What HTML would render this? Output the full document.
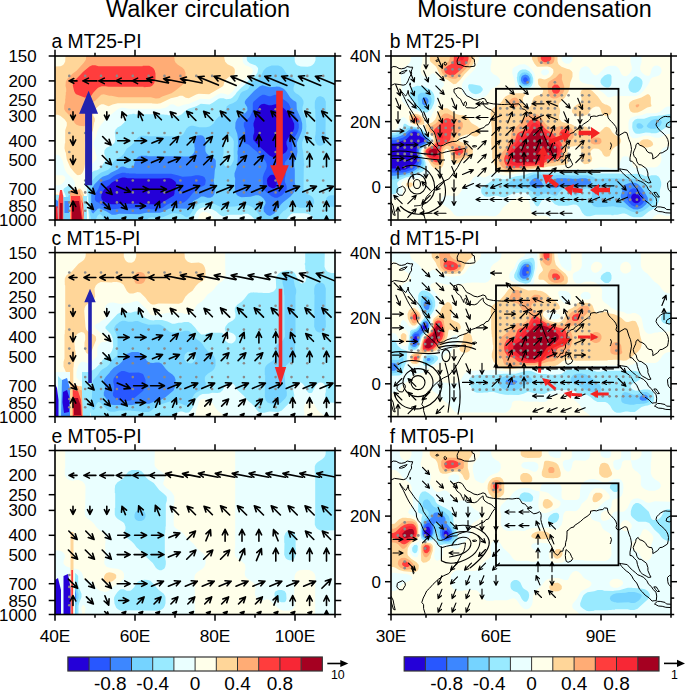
<!DOCTYPE html><html><head><meta charset="utf-8"><style>html,body{margin:0;padding:0;background:#fff;}svg{display:block;}</style></head><body><svg width="685" height="690" viewBox="0 0 685 690" font-family="&quot;Liberation Sans&quot;, sans-serif">
<rect width="685" height="690" fill="#fff"/>
<text x="106.0" y="16.8" font-size="23.45" text-anchor="start" >Walker circulation</text>
<text x="417.3" y="16.8" font-size="23.3" text-anchor="start" >Moisture condensation</text>
<g>
<rect x="55.0" y="56.0" width="280.0" height="164.0" fill="#ffffea"/>
<path fill-rule="evenodd" fill="#eaffff" d="M55.0 154.8L55.0 175.2L62.2 175.2L63.8 175.8L65.2 177.2L65.2 179.5L64.2 181.5L61.5 184.2L59.2 185.2L55.0 185.2L55.0 191.8L59.2 192.2L60.8 192.8L63.2 195.2L64.2 197.2L65.5 203.2L65.8 220.0L72.5 220.0L72.2 212.8L72.5 212.5L72.5 209.8L74.5 200.2L74.2 188.5L74.8 185.5L74.8 182.5L72.8 178.8L67.2 173.5L65.5 170.8L64.5 168.5L62.5 160.5L60.8 157.2L59.2 155.5L57.8 154.8ZM335.0 56.0L242.5 56.0L242.8 61.5L243.8 63.8L245.8 65.5L248.2 66.2L251.2 67.8L252.8 69.8L252.8 71.8L252.2 73.2L250.2 75.2L246.8 77.2L239.2 84.8L236.2 86.8L232.5 91.8L229.2 94.5L227.5 94.8L223.5 93.5L220.8 93.2L216.8 94.8L212.5 97.8L209.5 99.2L200.2 98.8L189.2 103.8L183.5 104.8L179.2 106.5L177.2 106.5L173.8 104.5L171.8 104.2L169.8 104.8L167.8 106.5L165.2 107.8L160.8 108.8L128.8 108.8L123.8 107.8L121.5 107.8L119.8 108.2L117.2 109.5L111.2 114.5L107.5 116.8L99.5 126.8L97.2 131.5L96.2 136.2L93.8 141.8L93.5 144.5L95.2 150.2L95.2 151.8L96.5 155.5L96.5 157.2L96.8 157.5L96.5 159.2L92.8 163.2L90.2 166.8L87.8 171.2L83.8 181.2L83.8 185.8L85.5 192.2L86.5 200.2L86.8 200.5L87.8 220.0L197.8 220.0L197.8 218.5L199.5 214.5L201.5 212.5L203.5 211.8L206.5 212.2L209.5 213.5L212.5 216.5L214.2 220.0L295.5 220.0L296.5 218.5L299.2 217.8L302.5 218.2L303.8 218.8L304.5 220.0L335.0 220.0Z"/>
<path fill-rule="evenodd" fill="#99eaff" d="M68.2 185.8L64.2 188.2L63.5 189.2L63.5 190.8L65.5 195.2L66.5 200.2L66.8 206.2L67.2 206.5L67.5 212.5L67.8 212.8L67.5 220.0L70.8 220.0L70.8 211.2L72.8 203.5L73.2 197.2L72.2 192.2L70.5 187.2L69.8 186.2ZM335.0 56.0L315.5 56.0L315.5 60.2L314.2 63.2L312.2 65.2L310.2 66.2L307.5 66.8L300.8 66.5L297.2 65.2L295.8 63.8L294.8 61.5L294.5 56.0L246.8 56.0L246.8 59.5L247.5 61.2L249.8 63.2L255.8 65.5L257.5 67.2L258.2 68.8L257.5 72.5L256.5 74.2L254.2 76.5L249.8 79.2L246.5 82.5L245.2 84.5L241.5 87.5L236.8 92.2L235.2 94.8L232.2 97.8L230.5 98.8L226.2 99.2L223.5 98.2L220.2 98.2L218.5 98.8L212.8 102.8L209.5 104.5L200.8 103.8L196.5 106.2L188.5 108.8L184.5 111.5L181.8 114.2L178.5 115.8L173.5 115.8L170.8 115.2L167.8 115.2L167.5 114.8L164.5 114.8L164.2 114.5L161.2 114.5L160.8 114.2L134.8 114.2L134.5 113.8L132.5 113.8L132.2 114.2L129.8 114.2L126.8 115.2L126.2 116.2L125.8 119.5L124.5 122.2L121.2 125.5L117.5 127.5L115.5 129.8L114.8 132.2L115.5 139.8L114.5 142.8L111.5 145.5L106.5 147.8L104.5 150.2L104.2 153.5L105.8 157.8L105.5 160.5L101.2 166.8L98.8 169.2L96.8 170.2L94.2 170.8L91.5 172.8L88.2 181.2L87.2 184.8L87.2 193.5L87.5 193.8L87.5 196.8L87.8 197.2L87.8 200.2L88.2 200.5L88.2 211.2L88.5 211.5L89.2 220.0L193.2 220.0L193.2 218.8L194.5 215.2L196.8 211.2L199.8 208.5L203.5 207.2L207.2 207.5L212.2 209.2L216.2 211.5L219.8 214.8L222.5 216.2L224.5 216.2L229.2 214.8L241.5 214.8L244.8 213.8L247.8 213.8L250.8 215.5L254.5 219.2L254.5 220.0L286.2 220.0L287.8 217.2L290.8 214.2L292.8 213.2L304.5 213.2L307.8 213.8L310.5 215.2L312.2 216.8L313.5 219.2L313.5 220.0L335.0 220.0Z"/>
<path fill-rule="evenodd" fill="#75d3ff" d="M328.8 195.8L326.8 197.5L326.2 198.8L325.8 201.8L326.5 203.8L328.8 206.2L330.8 206.8L335.0 206.8L335.0 195.2L330.8 195.2ZM68.8 194.8L68.2 196.5L68.2 201.5L68.8 204.8L69.8 205.8L71.2 203.5L71.5 198.8L70.2 195.2ZM319.2 96.2L316.8 97.5L315.2 100.5L314.8 102.2L314.8 108.5L315.2 108.8L315.5 119.5L315.8 119.8L315.8 131.5L315.5 131.8L315.5 134.2L314.8 137.2L314.8 139.8L316.2 143.5L317.8 145.2L319.5 145.8L320.8 145.8L323.2 144.8L324.5 143.5L325.8 140.2L325.8 133.8L325.5 133.5L325.8 101.8L324.5 98.5L323.2 97.2L320.8 96.2ZM293.8 78.8L292.8 77.8L287.8 74.8L286.2 73.2L283.8 69.2L281.5 66.8L278.2 65.5L271.8 65.5L268.8 66.5L266.2 67.8L263.5 70.5L260.8 76.2L258.8 78.5L256.5 79.8L253.5 80.8L250.8 83.2L248.8 88.2L247.2 89.8L242.2 91.8L240.5 93.5L237.8 99.2L236.2 101.2L232.8 103.2L229.2 104.5L226.8 106.2L225.8 109.8L223.5 113.5L221.2 115.5L218.8 116.8L215.8 119.8L213.5 123.5L210.8 125.8L209.5 126.5L206.2 127.2L199.2 127.2L193.2 125.8L191.2 125.8L188.8 126.5L186.5 128.5L183.2 134.2L181.5 135.5L179.2 136.5L176.8 136.5L176.5 136.8L176.2 136.5L172.5 136.5L172.2 136.2L147.8 136.2L147.5 135.8L143.8 135.8L143.5 135.5L143.2 135.8L140.8 135.8L138.2 137.2L135.8 139.8L134.5 142.2L131.2 145.5L126.8 148.5L123.5 154.2L121.5 156.2L115.8 159.5L113.2 162.2L110.8 167.2L108.2 169.8L100.8 172.8L95.5 176.8L91.8 181.2L89.8 185.8L89.5 189.2L89.2 189.5L89.5 212.2L91.2 220.0L96.2 220.0L96.2 218.8L97.5 215.8L99.2 214.2L100.5 214.2L102.8 216.5L104.2 220.0L146.8 220.0L147.8 218.5L150.2 217.5L153.5 217.2L153.8 217.5L159.2 217.8L159.5 217.5L162.8 217.2L172.2 213.2L175.5 213.2L175.8 213.5L180.2 213.8L183.2 215.2L184.8 216.5L186.8 217.2L188.5 216.5L189.5 215.5L194.8 207.5L197.2 204.8L199.8 203.2L202.2 202.5L205.5 202.5L205.8 202.8L208.2 202.8L208.5 203.2L213.8 203.8L221.8 207.5L225.8 207.5L228.2 206.8L235.2 206.5L235.5 206.2L241.2 205.8L243.8 205.2L248.2 205.2L252.5 207.2L256.2 210.8L262.5 219.2L262.5 220.0L277.5 220.0L277.5 218.8L280.2 214.5L283.8 210.8L285.2 210.2L289.5 206.2L291.2 205.2L293.8 205.2L299.5 207.8L308.2 207.8L311.8 206.5L313.8 203.8L314.2 202.5L313.8 199.2L312.8 197.5L310.8 195.8L306.2 193.5L304.2 191.5L303.5 189.8L303.8 165.8L304.2 165.5L304.2 163.5L303.8 163.2L303.8 158.5L303.5 158.2L303.2 152.2L302.2 147.2L302.2 142.2L305.5 133.8L306.2 130.8L306.2 127.5L306.5 127.2L305.8 119.5L304.8 116.2L302.5 111.2L302.5 107.2L303.5 103.8L303.5 101.5L303.2 100.2L301.5 97.5L298.5 94.8L295.8 93.2L294.2 91.5L293.5 90.2L293.5 87.5L294.8 83.8L294.8 80.8ZM227.2 135.5L229.2 135.5L230.5 136.2L232.8 138.8L233.8 141.5L233.8 147.5L233.5 147.8L233.8 159.2L233.5 160.8L231.5 164.8L230.5 165.8L228.5 166.8L225.5 166.5L224.2 165.2L222.8 161.2L222.8 156.8L223.5 153.8L223.5 141.2L224.8 137.5Z"/>
<path fill-rule="evenodd" fill="#3d87ff" d="M204.5 137.5L202.8 135.8L200.8 135.2L197.2 135.5L195.5 136.8L194.8 138.5L194.5 142.2L194.2 142.5L194.5 147.5L194.8 147.8L194.5 151.2L193.5 153.5L191.5 155.5L189.2 156.5L182.8 156.5L182.5 156.2L147.5 156.2L147.2 155.8L140.8 155.8L138.2 156.8L136.5 158.5L134.8 161.5L133.8 165.8L132.2 167.5L130.2 168.2L127.8 168.2L123.2 166.5L120.8 166.8L117.5 169.5L110.8 172.8L108.2 174.8L102.5 176.8L100.2 178.5L94.5 184.2L92.5 187.8L91.2 192.2L91.2 210.5L91.8 212.5L93.2 213.5L97.8 208.8L99.8 208.5L106.5 211.5L111.8 214.8L115.5 214.8L119.2 213.8L139.2 214.2L146.2 212.8L159.8 212.8L163.8 211.5L168.8 208.8L172.2 207.8L176.2 208.2L176.5 208.5L187.2 208.8L189.2 207.2L190.8 203.8L193.8 200.8L197.8 198.8L201.2 196.5L203.8 196.5L207.5 197.8L210.2 197.8L212.5 196.8L214.2 194.5L215.2 189.8L215.2 187.8L213.8 181.8L213.8 178.8L214.2 178.5L214.8 170.2L215.8 166.2L215.8 160.8L215.2 159.5L213.5 157.8L208.8 155.5L206.5 153.2L205.5 151.2L205.2 147.5L205.5 147.2L205.8 142.2ZM262.5 85.2L259.8 86.2L253.8 91.2L245.8 99.8L244.8 101.8L244.8 103.2L247.2 107.2L247.5 110.2L245.5 112.8L241.2 115.2L237.2 118.8L235.5 122.5L235.2 128.2L237.2 133.8L237.8 137.2L238.2 144.8L237.8 145.2L237.8 150.5L237.5 150.8L237.5 154.5L237.8 154.8L237.5 163.5L236.5 167.8L234.5 173.2L234.5 176.2L235.2 178.8L234.8 190.2L236.5 194.5L237.8 195.8L239.8 196.8L241.5 197.2L250.5 196.8L255.8 195.2L258.5 195.2L261.2 196.5L263.5 198.5L265.5 201.8L265.5 203.5L263.5 207.8L263.8 211.5L266.8 214.8L269.2 215.8L270.5 215.8L274.2 213.5L277.2 210.2L280.8 204.5L283.2 202.2L290.5 196.5L293.8 192.8L295.5 189.5L295.5 185.2L294.8 182.5L294.8 169.2L294.2 166.8L294.2 162.5L296.5 157.2L297.5 151.8L296.8 142.8L301.5 131.8L302.2 128.5L302.2 123.5L300.8 118.2L296.8 109.5L296.5 102.8L295.5 101.5L293.2 100.2L290.2 97.5L286.8 92.2L284.8 89.8L283.2 88.5L279.5 86.8L276.2 86.5L275.8 86.8L269.5 87.2Z"/>
<path fill-rule="evenodd" fill="#2857ff" d="M94.8 199.2L95.5 200.8L96.5 201.8L98.8 202.8L101.2 204.8L108.5 208.2L112.2 209.2L118.5 208.8L118.8 208.5L141.8 208.5L142.2 208.8L150.2 208.8L150.5 209.2L158.2 209.5L162.8 207.8L166.8 204.8L171.2 202.8L174.8 203.2L176.5 203.8L180.2 203.8L184.2 202.2L186.5 200.5L189.2 197.8L192.5 193.5L196.5 189.5L199.5 187.5L204.2 185.5L205.2 184.5L205.8 180.2L204.5 177.2L202.8 176.2L198.8 175.2L195.8 175.2L191.2 176.2L182.5 176.8L177.5 175.2L171.2 173.8L135.8 173.8L135.5 173.5L129.2 173.5L128.8 173.2L125.8 173.2L125.5 172.8L122.2 172.8L116.8 174.5L113.5 176.2L109.5 179.2L102.2 181.8L100.2 183.8L98.2 189.2L95.2 193.8ZM262.5 94.8L259.5 96.5L253.5 101.8L252.8 103.5L252.8 109.8L251.8 112.8L249.5 117.2L243.8 122.8L243.8 126.2L245.2 129.8L245.2 131.8L243.8 136.5L243.8 141.2L244.2 142.2L245.2 143.2L248.8 144.8L253.2 148.8L256.5 151.2L265.2 160.8L266.5 163.5L266.8 166.2L266.2 168.8L263.8 173.8L262.8 177.5L262.8 187.2L263.8 189.5L266.8 192.5L271.5 196.2L274.8 197.8L277.5 197.8L281.8 195.5L285.5 191.5L286.5 189.8L286.8 188.5L286.5 185.8L284.8 181.8L284.8 178.5L285.5 175.5L285.8 169.8L284.5 163.8L285.2 161.8L289.2 157.2L291.8 152.5L292.5 150.2L291.8 142.2L292.5 140.2L296.8 133.8L298.2 130.8L298.8 127.5L298.8 124.5L297.5 119.5L294.5 114.2L291.8 110.5L288.8 103.8L286.2 101.2L282.2 98.5L278.8 95.2L278.2 94.8L274.8 94.8L270.8 96.2L268.8 96.2L264.5 94.8Z"/>
<path fill-rule="evenodd" fill="#2400d8" d="M101.2 197.5L101.8 199.5L103.5 201.2L106.2 202.5L111.2 204.2L116.8 204.2L117.2 203.8L148.5 203.8L148.8 204.2L152.5 204.2L154.8 204.8L157.8 204.8L160.5 203.8L164.2 201.2L173.8 195.5L174.5 193.5L174.5 191.8L176.2 186.8L176.2 183.2L175.5 181.8L173.8 180.2L171.5 178.8L169.2 178.2L162.8 178.2L162.5 178.5L134.2 178.5L133.8 178.2L127.5 178.2L124.8 177.5L122.5 177.5L119.2 178.5L111.8 182.5L109.2 185.2L107.2 186.5L104.2 189.5L102.8 191.5L101.5 194.5ZM271.5 174.8L269.8 175.5L267.5 178.2L266.8 181.2L267.2 181.5L267.2 183.5L267.8 185.2L269.2 186.8L272.2 188.2L273.8 188.2L274.8 187.8L276.2 186.5L276.5 185.5L276.5 183.5L276.8 183.2L276.5 178.5L274.8 175.5L273.5 174.8ZM261.5 104.2L259.5 105.8L258.2 108.2L256.5 112.8L255.8 116.8L253.5 123.2L253.5 125.8L254.2 128.5L254.2 132.5L253.2 135.8L253.2 139.2L253.8 140.5L260.8 147.8L269.8 155.8L273.5 157.5L276.5 157.5L283.5 153.8L285.8 152.2L286.8 150.8L287.5 149.2L287.5 147.8L286.5 144.2L286.5 141.5L287.8 138.8L293.5 130.2L294.2 128.2L294.2 123.8L292.2 119.2L288.5 112.8L284.8 109.2L279.5 104.8L277.8 104.2L275.2 104.2L271.5 105.2L268.8 105.2L264.2 103.8Z"/>
<path fill-rule="evenodd" fill="#ffd699" d="M55.0 194.5L55.0 220.0L63.8 220.0L63.8 202.2L62.8 198.5L60.5 195.5L57.5 194.5ZM78.8 188.5L77.5 189.8L76.5 192.8L76.2 199.2L73.8 210.5L73.8 220.0L86.5 220.0L85.8 206.5L85.5 206.2L85.5 202.5L85.2 202.2L84.8 198.8L83.8 194.8L82.2 190.8L80.5 188.8ZM70.2 167.2L74.2 172.2L76.5 174.5L77.8 175.2L80.5 174.8L82.2 173.2L83.5 170.8L84.5 167.5L85.2 162.5L86.5 158.5L86.2 153.8L85.8 153.5L85.8 149.8L85.2 147.2L85.2 142.5L86.8 139.2L89.5 136.5L91.2 134.2L92.8 130.5L94.2 122.5L94.8 121.2L94.8 118.5L93.2 115.5L93.5 111.5L96.2 108.2L99.5 105.2L101.5 104.2L103.5 104.2L107.2 105.8L108.8 106.2L112.5 104.5L117.8 103.2L151.8 103.2L152.2 103.5L157.2 103.8L160.5 103.2L170.8 98.2L177.5 96.8L179.8 95.8L182.5 95.8L185.8 97.8L188.8 98.2L196.2 94.5L198.8 93.8L209.2 94.2L222.5 86.5L223.5 85.5L224.2 82.2L225.8 79.5L229.2 76.8L234.2 74.8L234.8 73.2L234.8 69.8L234.2 68.2L232.8 66.8L227.5 64.2L225.2 61.8L224.2 57.8L224.5 56.0L65.5 56.0L65.2 61.5L63.8 64.2L62.2 65.5L60.5 66.2L55.0 66.5L55.0 114.8L57.8 114.8L60.2 115.8L64.5 119.2L66.8 122.5L66.8 125.5L65.2 130.2L65.2 143.2L64.8 143.5L64.5 148.2L65.2 151.5L65.8 152.8L66.8 159.5Z"/>
<path fill-rule="evenodd" fill="#ffac75" d="M55.0 196.5L55.0 220.0L62.5 220.0L62.5 206.2L62.8 204.5L62.5 204.2L62.2 200.5L60.2 197.5L57.8 196.5ZM79.5 194.2L78.5 195.2L75.5 206.5L75.5 208.2L74.8 210.5L74.8 220.0L85.5 220.0L85.2 211.5L84.8 211.2L84.8 207.5L84.5 207.2L84.2 202.2L81.8 195.8L80.5 194.2ZM64.2 109.2L65.5 111.5L71.8 117.8L74.8 123.2L76.5 124.8L79.2 125.8L84.2 126.2L85.5 125.2L86.2 123.5L86.5 119.5L85.5 114.5L85.5 111.5L86.8 108.5L92.2 102.8L95.2 100.8L101.2 94.8L103.8 94.2L109.2 95.8L111.5 95.8L118.5 97.2L150.8 97.2L155.8 98.5L159.2 98.2L162.2 96.5L171.5 93.2L175.2 90.8L181.8 85.5L183.8 83.2L185.5 79.2L185.5 72.8L184.2 69.5L182.2 67.5L177.8 64.8L175.5 62.5L174.5 60.2L174.5 58.2L174.2 57.8L174.5 56.0L86.2 56.0L85.8 59.8L83.8 62.8L76.8 70.5L72.5 73.8L67.8 78.2L65.8 81.5L65.5 85.8L66.2 88.8L66.2 91.8L65.8 92.2L65.8 95.2L65.5 95.5L65.5 98.5L65.2 98.8L65.2 102.2L64.2 105.5Z"/>
<path fill-rule="evenodd" fill="#ff3d3d" d="M79.8 199.5L77.8 202.2L76.2 208.5L76.2 210.2L75.8 210.5L75.8 220.0L84.5 220.0L84.2 211.5L83.8 211.2L83.2 204.2L81.8 200.8L80.5 199.5ZM55.0 198.5L55.0 220.0L60.8 220.0L60.8 208.8L61.2 208.5L61.2 205.2L61.5 204.8L61.2 202.2L60.5 200.5L59.2 199.2L57.8 198.5ZM72.8 85.5L74.2 91.2L75.2 93.2L76.2 94.2L84.5 97.5L88.5 97.5L91.2 95.8L93.2 92.8L97.2 88.5L98.5 87.5L101.8 86.2L105.5 86.2L108.5 86.8L143.5 86.8L143.8 87.2L150.2 86.8L152.2 85.8L154.2 83.2L155.5 78.5L155.5 73.5L154.8 70.8L153.8 68.8L152.2 67.2L149.2 65.8L142.8 65.8L142.5 66.2L98.5 66.2L95.2 65.2L92.2 65.2L89.5 66.5L83.2 71.8L73.8 81.5L73.2 82.8Z"/>
<path fill-rule="evenodd" fill="#f72735" d="M79.5 203.5L78.2 205.8L76.8 211.2L76.8 218.2L77.2 220.0L83.2 220.0L83.2 212.8L82.8 212.5L82.5 208.2L81.2 204.2L80.5 203.5ZM55.0 200.8L55.0 220.0L57.2 220.0L57.2 211.5L59.5 206.2L59.5 203.2L59.2 202.2L58.2 201.2Z"/>
<path fill-rule="evenodd" fill="#a50021" d="M79.8 208.5L79.2 209.2L78.2 211.8L78.5 220.0L81.5 220.0L81.5 217.8L81.8 217.5L81.5 211.5L80.5 208.8Z"/>
<rect x="391.0" y="56.0" width="280.0" height="164.0" fill="#ffffea"/>
<path fill-rule="evenodd" fill="#eaffff" d="M671.0 146.5L666.8 146.5L663.2 148.2L661.8 149.5L660.8 152.5L661.2 156.8L661.5 157.2L661.5 159.8L660.8 162.2L659.8 164.2L657.5 166.5L654.8 167.5L644.5 167.2L640.2 168.2L635.8 168.2L634.8 167.8L632.8 166.2L631.8 161.5L629.8 158.2L627.5 156.5L624.5 156.2L622.8 156.8L621.8 157.8L619.8 162.5L619.2 166.2L617.8 167.5L616.2 168.2L610.2 168.2L607.5 167.5L600.2 167.2L589.8 169.5L580.8 169.5L577.8 168.8L573.5 168.8L573.2 169.2L564.8 169.5L564.5 169.8L537.2 170.2L536.8 170.5L529.5 171.2L523.5 172.8L517.8 173.5L508.2 175.5L503.5 175.5L497.2 173.5L492.5 173.5L484.8 177.5L483.5 177.5L479.8 176.2L477.5 175.8L474.5 176.8L472.5 178.8L470.5 182.2L467.5 185.2L464.5 187.2L462.2 189.5L459.8 193.2L457.5 195.5L454.5 196.5L449.8 195.5L445.5 195.5L444.5 195.8L442.5 197.2L441.2 199.8L441.2 201.5L442.5 204.2L448.5 208.2L451.2 210.8L454.2 214.8L456.8 216.2L459.2 216.2L459.5 216.5L459.8 216.2L463.5 216.2L463.8 215.8L488.2 215.8L488.5 216.2L492.2 216.2L492.5 216.5L492.8 216.2L495.2 216.2L497.8 214.8L500.2 212.2L502.8 207.8L509.2 202.2L513.8 198.8L519.2 196.8L523.8 196.8L524.8 197.2L528.5 200.5L529.8 203.5L530.5 209.8L531.2 211.2L533.5 213.5L537.8 215.5L545.2 215.5L547.2 216.2L549.5 217.8L550.5 220.0L651.8 220.0L652.5 218.2L654.5 215.8L658.2 214.2L661.2 214.5L665.2 215.8L671.0 215.8ZM404.2 117.2L402.8 117.2L401.5 117.8L399.8 119.8L398.8 121.8L398.5 125.8L397.8 127.5L395.2 129.8L391.0 130.2L391.0 198.5L397.8 197.8L399.8 196.8L401.8 194.8L403.2 191.5L403.2 189.8L401.2 184.8L401.2 183.5L401.8 182.2L403.8 180.5L407.5 179.2L415.8 178.8L420.2 177.5L422.8 177.2L426.8 175.5L428.8 174.2L429.5 173.2L428.5 170.2L428.5 167.5L428.2 167.2L427.8 163.8L426.2 160.2L422.5 154.8L422.2 150.5L422.8 149.2L425.2 146.8L430.8 143.2L432.2 141.2L432.2 138.5L431.2 136.8L426.2 132.5L424.2 129.5L422.2 127.5L419.2 126.5L412.8 125.5L410.5 124.5L408.5 122.8L406.2 118.8ZM671.0 106.5L667.2 106.5L664.8 107.8L660.5 111.5L657.2 112.8L655.5 113.2L646.5 113.2L641.5 115.2L636.8 115.8L630.8 117.8L629.2 119.8L628.5 122.2L628.5 129.2L628.8 129.5L629.2 133.5L630.2 136.2L632.8 138.2L636.2 138.2L645.2 135.5L649.5 135.8L655.2 137.8L659.2 137.8L666.2 134.2L671.0 133.8ZM543.2 69.5L541.2 71.2L541.2 73.2L543.2 75.2L544.2 75.5L546.5 75.2L548.8 73.2L549.2 71.5L547.8 69.8L545.8 69.2ZM514.2 67.2L512.5 69.2L512.2 73.2L514.5 80.8L515.2 86.8L517.5 88.8L522.8 89.8L528.5 89.8L528.8 89.5L532.5 89.2L533.5 88.5L534.5 86.8L534.8 85.2L534.8 75.8L534.2 73.2L531.8 69.5L528.5 66.2L524.8 64.2L519.8 64.5ZM661.5 69.5L660.8 67.8L659.2 66.2L657.5 65.5L654.5 65.8L652.5 67.5L651.5 69.5L650.2 74.8L648.8 75.8L647.2 75.8L645.2 75.2L641.8 72.5L640.2 69.5L640.2 66.5L641.5 62.2L641.5 56.0L630.5 56.0L630.5 62.2L631.8 66.8L631.8 69.2L631.2 71.2L629.8 73.2L627.8 75.2L626.2 76.2L623.2 75.8L621.5 74.2L618.8 68.5L616.8 66.5L615.2 65.8L609.5 65.8L607.2 66.5L605.2 67.5L598.2 74.5L595.8 75.5L593.8 74.8L591.8 72.8L589.8 68.8L588.5 67.2L586.5 66.2L584.8 66.2L581.5 67.8L580.2 69.5L579.2 72.5L579.2 78.5L579.8 80.5L582.2 82.5L588.2 84.2L591.8 84.5L593.5 85.2L598.5 89.8L603.2 92.8L607.8 97.2L610.8 97.2L614.8 95.8L634.8 96.2L638.2 95.2L640.5 93.8L643.8 90.5L647.5 85.5L649.5 82.2L650.5 79.2L652.2 77.5L657.2 76.2L659.2 75.2L660.8 73.5L661.5 71.8ZM561.5 56.0L561.8 60.2L564.8 63.2L566.8 63.8L569.5 63.5L572.2 60.8L572.5 56.0ZM491.5 56.0L478.8 56.0L478.8 58.5L478.2 61.8L475.2 68.2L473.8 70.2L465.5 78.5L462.8 82.2L461.8 84.8L462.2 91.8L462.8 93.2L466.8 96.5L472.2 98.2L479.8 98.2L483.8 97.2L486.2 95.8L488.2 93.8L490.2 90.5L491.8 88.8L496.8 86.2L499.5 83.8L500.2 82.2L500.2 80.5L499.2 78.2L496.8 75.8L493.5 74.2L490.8 71.2L490.5 66.8L491.5 62.5ZM410.8 56.0L410.8 60.2L409.8 62.5L407.5 65.2L403.8 67.5L401.8 69.5L400.8 71.8L400.5 75.8L400.8 76.2L401.2 83.2L401.5 83.5L401.5 86.5L401.8 86.8L401.8 89.8L402.2 90.2L402.2 93.2L401.5 96.2L401.8 100.5L402.5 101.8L411.2 110.5L419.5 112.8L422.8 114.5L427.2 118.5L428.8 118.8L430.2 118.2L431.2 116.8L432.2 113.8L435.5 108.2L437.5 102.2L439.5 97.8L439.5 92.8L440.2 90.2L443.8 85.5L444.2 83.8L442.8 81.8L437.5 77.8L435.2 74.2L433.8 73.2L431.8 73.5L428.5 76.5L426.5 77.2L424.5 76.8L422.8 75.8L421.5 73.8L420.8 71.5L420.8 67.2L422.2 62.8L422.5 56.0Z"/>
<path fill-rule="evenodd" fill="#99eaff" d="M481.2 189.5L481.2 191.8L481.8 193.8L484.5 196.2L487.2 196.8L489.5 196.8L494.5 195.8L497.5 195.8L501.5 197.2L505.2 197.2L512.8 193.5L519.2 192.8L519.5 192.5L524.5 192.5L526.5 193.2L529.8 195.8L535.5 205.2L537.2 206.5L538.8 205.8L541.2 201.2L543.2 199.2L545.2 198.2L547.2 198.2L550.2 199.5L554.8 204.2L558.5 205.8L567.5 205.8L573.5 204.5L576.2 204.8L577.5 205.5L579.5 207.5L582.2 212.8L584.5 215.2L586.8 216.2L590.2 216.2L595.5 214.8L611.2 214.8L611.5 215.2L613.5 215.2L613.8 214.8L617.5 214.8L622.5 213.5L624.5 213.5L626.8 214.2L630.5 216.2L633.8 217.2L640.8 217.2L642.8 216.5L648.8 211.5L653.8 208.8L655.8 207.2L657.2 205.2L658.8 201.5L659.8 197.8L659.8 190.8L661.2 185.2L661.2 182.2L659.8 178.2L658.5 176.5L656.2 175.2L651.5 175.2L648.8 176.2L645.8 176.2L641.5 174.5L638.2 173.8L624.5 174.2L624.2 173.8L620.2 173.8L619.8 173.5L595.5 173.5L595.2 173.2L589.8 172.8L589.5 172.5L578.2 172.5L577.8 172.8L572.8 172.8L572.5 172.5L544.5 172.5L544.2 172.2L541.2 172.2L540.8 171.8L536.5 171.8L536.2 172.2L533.8 172.2L529.2 173.2L523.8 175.2L515.8 176.2L506.2 179.2L502.2 179.2L498.8 178.2L496.2 178.2L493.2 179.5L488.5 183.2L483.2 186.2L481.8 187.5ZM419.2 127.8L410.2 126.2L408.2 125.5L405.5 123.8L404.2 123.8L403.5 124.8L402.8 127.8L400.5 130.5L395.2 132.8L391.0 132.8L391.0 194.2L395.5 193.8L397.2 192.8L398.5 191.2L398.8 188.8L397.2 184.5L397.2 182.8L399.5 180.2L405.8 177.5L414.2 175.8L422.2 171.8L424.2 170.2L425.2 168.5L425.8 166.2L425.5 162.2L424.5 159.8L421.8 155.8L420.8 151.8L421.8 148.8L423.8 146.8L428.5 143.8L430.5 141.8L430.8 138.8L429.8 137.2L422.5 129.8ZM671.0 114.2L668.2 114.2L661.8 115.5L658.5 115.5L658.2 115.8L650.5 116.5L644.2 118.8L637.2 118.8L634.8 119.8L632.5 122.5L632.2 127.2L632.8 129.8L633.8 131.8L635.2 133.2L636.8 133.8L639.8 133.8L645.8 132.5L650.5 132.8L650.8 133.2L656.2 133.2L658.8 132.2L666.2 127.2L668.5 126.2L671.0 126.2ZM412.2 87.5L411.2 88.5L410.2 90.8L409.5 96.8L410.5 99.2L412.5 100.8L413.8 103.2L414.5 107.2L416.5 109.5L419.8 111.2L423.8 112.5L427.2 112.5L431.5 108.8L433.8 103.8L434.5 100.8L434.5 96.8L433.8 94.2L432.8 92.2L430.2 89.5L423.2 86.2L417.2 85.8ZM468.2 85.2L468.2 87.8L469.5 90.8L471.5 92.8L472.8 93.5L475.8 94.2L478.2 93.8L480.5 92.8L482.5 90.5L482.8 89.5L482.5 88.2L480.2 85.8L472.2 84.2L469.2 84.2ZM636.5 76.2L634.8 76.5L631.5 79.5L629.8 81.8L628.5 85.2L628.5 87.8L629.5 90.5L630.8 91.8L633.2 92.8L635.8 92.8L638.5 91.5L640.5 89.2L641.8 86.5L642.5 83.8L642.5 81.5L641.8 79.8L639.8 77.8ZM609.5 74.2L607.5 74.2L604.5 75.5L601.5 78.5L600.5 80.5L600.5 82.5L601.5 84.5L603.8 86.5L606.5 87.5L608.5 87.5L609.8 86.8L610.8 85.5L611.5 83.2L611.5 76.2L610.8 74.8ZM519.8 70.5L518.2 72.2L517.5 73.5L517.2 76.8L516.8 77.2L517.2 81.2L518.5 85.2L520.8 87.2L523.2 87.8L527.8 87.8L530.2 87.2L531.8 85.8L533.2 82.2L533.2 78.5L531.8 74.2L529.2 71.2L525.8 69.5L522.2 69.5Z"/>
<path fill-rule="evenodd" fill="#75d3ff" d="M507.8 183.8L507.8 185.5L509.2 186.8L512.2 188.2L516.2 188.5L516.5 188.8L524.8 188.2L527.2 188.8L532.2 191.5L536.5 196.2L538.5 196.2L541.5 194.5L544.8 193.5L549.2 193.8L553.8 195.5L556.2 195.8L557.5 194.8L558.8 192.5L561.2 190.2L562.8 189.2L565.5 188.5L567.8 188.8L569.8 189.8L572.2 192.2L573.8 194.8L575.8 195.8L576.8 195.5L582.8 189.5L585.8 188.5L587.8 188.5L590.5 189.5L591.8 190.8L592.2 195.2L591.2 198.5L591.2 201.8L591.8 204.2L593.8 206.2L597.5 207.2L607.8 206.8L608.2 206.5L611.2 206.5L611.5 206.2L613.5 206.2L617.8 207.2L622.2 207.2L624.5 207.8L631.5 211.5L635.5 212.5L639.2 212.2L642.2 211.2L645.2 209.5L648.2 207.2L651.8 203.5L653.8 199.2L653.8 197.5L652.8 194.5L647.5 188.8L644.8 184.2L641.8 181.5L639.2 180.2L634.8 178.8L622.2 178.8L621.8 178.5L617.5 178.5L617.2 178.2L604.5 178.2L601.5 178.8L597.8 178.8L595.5 178.2L592.2 176.5L587.5 175.2L569.8 175.5L569.5 175.2L556.5 174.8L556.2 175.2L552.2 175.5L548.5 176.8L546.2 177.2L540.5 174.5L534.8 174.2L531.2 175.2L524.5 178.8L517.5 178.8L513.8 179.8L509.8 181.8ZM419.8 129.5L414.5 127.8L408.8 127.8L407.2 128.5L402.8 132.2L399.5 133.8L395.5 135.2L391.0 135.5L391.0 179.5L394.5 179.5L401.2 176.8L411.8 174.2L418.2 170.8L421.5 168.5L422.8 166.8L423.8 164.2L423.8 162.5L423.2 160.2L422.2 158.8L420.2 154.2L419.8 152.5L420.2 149.8L420.8 148.5L423.2 146.2L427.5 143.5L428.8 142.2L429.5 140.8L429.5 139.2L428.8 137.8ZM636.5 124.8L636.5 126.5L637.2 127.8L638.5 128.8L641.8 128.5L643.5 126.8L643.2 125.8L641.2 123.8L639.8 123.2L637.8 123.2ZM661.5 121.2L660.5 119.8L658.8 119.2L656.2 118.8L653.2 119.5L651.2 120.5L648.2 123.5L646.8 125.8L646.8 126.5L648.2 127.8L650.8 128.8L655.2 128.8L659.2 126.8L660.5 125.5L661.8 122.5ZM420.8 92.8L418.5 94.5L417.8 96.2L417.8 100.5L418.2 100.8L418.5 105.2L419.2 106.8L420.8 108.5L422.5 109.2L426.2 109.2L427.5 108.5L430.5 105.2L431.5 102.2L431.5 98.5L430.5 96.2L428.5 94.2L425.2 92.8ZM522.2 72.8L520.5 74.2L519.2 76.8L519.2 81.2L519.8 83.2L521.5 85.2L523.8 86.2L528.5 85.8L530.8 83.8L531.5 82.2L531.2 77.2L530.2 75.2L528.2 73.2L526.8 72.5L525.2 72.5L524.8 72.2Z"/>
<path fill-rule="evenodd" fill="#3d87ff" d="M623.8 185.2L622.5 187.5L622.2 191.2L620.8 195.2L620.8 197.5L622.5 200.5L629.2 206.8L633.5 209.2L637.5 209.5L640.2 208.8L642.2 207.8L646.2 204.2L647.8 201.2L647.8 197.8L644.5 191.8L641.2 187.2L638.2 184.2L635.2 182.8L630.5 182.8L625.8 184.2ZM549.5 186.2L550.2 187.2L551.5 187.8L555.5 188.2L563.5 185.2L568.5 185.2L574.8 187.8L577.5 187.8L583.5 185.5L589.5 184.2L591.2 183.2L591.2 181.8L589.5 179.8L585.8 178.2L580.8 178.2L578.2 178.8L571.8 178.8L571.5 178.5L566.5 178.5L566.2 178.2L557.2 178.2L553.8 179.5L550.2 182.8L549.5 184.2ZM529.5 182.5L529.5 183.5L530.5 185.2L532.8 186.8L535.2 187.8L539.8 188.2L541.5 187.5L542.8 186.2L542.8 184.2L541.8 182.2L539.2 179.2L536.5 177.8L534.5 178.2L532.5 179.2ZM419.2 130.5L415.8 129.2L411.2 129.2L409.2 129.8L404.5 133.8L400.8 135.8L395.8 137.5L391.0 137.8L391.0 175.8L395.2 175.8L397.2 175.2L403.5 174.5L411.5 172.2L415.8 169.8L420.5 165.5L421.5 163.5L421.5 160.5L419.2 154.8L418.8 153.2L419.2 149.5L420.2 147.5L421.8 145.8L425.5 143.8L427.8 141.5L428.2 139.5L427.5 138.2ZM426.2 97.2L423.5 97.2L421.8 99.2L422.2 103.5L423.2 104.8L424.8 105.5L426.5 104.8L427.8 103.5L428.5 101.8L428.2 99.2ZM525.2 74.5L522.2 75.8L521.2 77.5L520.8 80.2L521.8 82.8L522.8 83.8L524.2 84.5L526.8 84.5L529.5 82.5L529.8 78.5L528.8 76.5L527.5 75.2Z"/>
<path fill-rule="evenodd" fill="#2857ff" d="M633.2 188.2L630.2 189.8L628.2 192.5L627.2 195.2L627.2 198.8L628.8 202.2L631.8 205.2L634.5 206.5L638.2 206.5L640.5 205.5L642.8 203.5L644.2 201.2L644.2 197.8L642.8 194.8L638.5 190.2L635.8 188.5ZM419.2 132.2L416.2 130.5L414.5 130.2L411.8 130.5L409.5 131.8L405.8 135.8L403.2 137.5L395.2 140.2L391.0 140.2L391.0 172.5L403.5 172.5L406.5 171.8L413.2 169.2L417.8 164.8L419.5 161.5L419.5 159.5L417.8 153.8L417.8 149.5L418.5 147.5L420.5 145.2L424.5 143.2L426.5 141.2L426.2 138.5ZM525.2 77.2L523.8 77.8L523.2 79.2L523.2 80.5L524.5 82.2L526.2 82.5L527.5 81.5L527.8 79.2L526.5 77.5Z"/>
<path fill-rule="evenodd" fill="#2400d8" d="M633.2 193.8L631.8 195.2L631.2 196.8L631.2 198.8L631.8 200.5L633.2 202.2L635.2 203.2L637.2 203.2L638.8 202.5L640.5 200.5L640.5 198.2L639.8 196.5L637.5 194.2L636.2 193.5ZM424.5 139.2L423.2 137.8L420.8 136.5L417.2 132.8L415.2 131.8L413.5 131.8L411.5 132.8L409.2 136.5L406.2 139.2L395.8 143.2L391.0 143.5L391.0 168.5L396.5 168.5L400.8 169.8L404.8 169.8L413.5 165.5L416.2 162.8L417.5 159.8L416.8 153.8L416.5 153.5L416.5 148.8L417.2 146.2L417.8 144.8L419.5 143.5L423.8 141.8L424.8 140.5Z"/>
<path fill-rule="evenodd" fill="#ffd699" d="M406.2 183.5L406.2 185.5L407.2 186.8L408.5 187.5L410.8 187.2L412.8 185.2L412.8 183.8L411.8 182.8L410.8 182.5L407.5 182.5ZM639.2 142.8L639.2 144.2L640.8 146.2L643.2 147.2L644.8 147.2L645.2 147.5L647.5 147.5L650.8 146.8L652.8 145.2L653.2 144.2L652.5 142.2L650.8 140.5L647.8 139.2L643.2 139.5L641.2 140.5ZM409.5 115.5L409.2 116.2L409.2 119.5L410.2 121.5L412.2 123.5L416.2 124.8L422.8 124.8L424.5 124.2L423.5 119.2L422.8 117.8L420.5 115.5L418.5 114.5L415.8 113.8L411.5 114.2ZM447.2 108.2L444.2 108.2L441.8 108.8L440.2 109.8L437.5 112.8L436.5 116.8L435.2 119.5L432.5 122.2L429.8 123.5L428.8 123.5L425.2 124.8L425.5 127.2L426.8 130.5L433.2 136.8L433.8 138.2L433.8 141.2L433.2 142.5L431.2 144.5L426.2 147.5L423.8 149.8L423.5 150.5L423.5 153.8L425.2 156.8L428.8 161.2L431.5 165.8L434.2 168.2L437.5 169.2L439.8 168.8L441.5 167.8L443.2 165.2L444.2 160.2L443.8 155.8L443.5 155.5L443.8 151.8L444.5 150.5L446.5 148.8L447.2 148.8L449.2 150.2L450.5 153.5L450.8 157.5L451.5 159.8L452.8 162.2L455.2 163.8L457.5 163.5L463.8 159.5L470.2 156.5L472.2 154.5L472.8 152.5L472.8 149.8L472.2 148.2L469.8 145.8L464.5 143.2L460.2 141.8L458.5 140.2L458.5 139.2L459.2 137.8L460.8 136.5L466.2 134.5L469.2 134.5L474.2 136.5L476.5 136.5L477.8 135.8L479.5 134.2L480.2 132.2L480.2 130.5L479.2 128.2L477.2 126.2L471.8 123.2L470.2 121.5L468.2 118.2L466.2 116.2L463.5 115.2L460.8 115.2L456.5 114.2ZM649.8 95.2L648.5 94.2L647.2 94.2L641.5 97.5L632.8 100.2L629.8 102.2L628.8 104.8L629.2 108.2L630.5 111.2L632.5 112.5L634.2 112.8L637.8 112.5L641.8 110.8L647.2 107.5L651.2 106.5L651.5 105.5L650.8 103.5L650.8 97.5ZM571.8 110.8L572.2 112.5L574.2 114.8L575.8 115.8L579.2 116.5L582.8 116.2L586.8 114.8L588.2 113.8L590.8 109.8L592.8 107.8L595.8 106.5L598.8 106.8L600.2 108.2L601.8 113.2L603.2 114.8L605.5 115.8L608.5 115.5L610.5 114.2L611.5 112.2L611.5 109.5L610.8 107.5L609.5 106.2L606.8 104.8L605.2 104.5L602.2 102.8L597.8 96.5L592.2 90.8L589.2 89.2L586.8 88.5L584.2 88.5L582.8 89.2L581.2 90.8L580.5 93.5L581.5 98.5L581.2 101.2L579.8 102.8L574.8 106.2L573.2 107.8ZM531.8 56.0L532.2 59.5L534.5 63.8L536.8 66.5L537.8 66.8L547.5 66.5L550.5 67.2L553.2 69.2L553.5 72.2L552.5 74.5L549.8 77.2L545.8 79.2L544.2 79.5L540.8 78.5L538.8 78.5L537.8 79.8L538.2 84.2L539.2 85.8L542.5 88.8L543.2 90.5L542.8 92.2L542.2 93.5L540.5 94.8L536.5 95.8L533.8 97.5L532.2 101.2L531.2 105.2L529.5 107.2L527.2 107.5L525.5 106.8L524.2 105.2L523.2 102.5L522.8 98.2L523.2 97.2L524.8 95.2L525.2 93.8L522.8 93.2L515.5 93.2L515.2 93.5L512.8 93.5L509.8 94.2L505.8 96.2L503.8 98.2L501.8 101.5L498.8 104.5L493.8 107.5L491.8 109.5L490.5 113.5L491.5 126.5L491.8 126.8L491.8 134.5L491.5 134.8L491.5 137.8L491.2 138.2L491.2 144.5L491.5 144.8L491.5 147.8L492.2 150.5L492.2 157.8L495.2 166.8L497.5 169.2L501.5 171.2L504.8 172.2L509.5 172.5L509.8 172.2L513.8 172.2L514.2 171.8L520.8 171.2L529.8 169.2L543.2 167.8L548.5 166.5L554.8 166.2L557.2 165.5L565.2 164.8L567.5 163.5L569.5 160.8L569.5 158.2L567.5 153.8L567.5 150.8L568.5 148.8L570.2 147.2L571.5 146.5L574.8 146.2L575.2 145.8L578.2 145.8L580.2 147.5L581.2 150.2L581.2 153.5L580.2 157.8L580.5 159.8L582.2 162.5L584.5 164.2L588.5 163.8L591.5 161.2L592.2 158.5L590.8 154.8L590.5 151.8L591.2 150.5L593.2 148.8L594.5 148.5L598.2 148.8L599.5 149.5L601.8 151.8L602.8 154.2L604.5 156.2L606.2 156.8L609.2 156.2L609.8 155.5L611.5 150.8L612.8 148.8L615.8 146.5L618.5 145.2L620.2 143.5L620.8 141.5L620.8 139.5L619.8 137.5L614.8 134.8L612.2 132.2L610.5 129.2L609.2 127.8L606.8 126.8L604.8 127.2L599.2 132.8L597.2 133.5L594.2 133.5L590.8 131.8L589.2 129.5L586.2 126.8L584.2 126.5L579.5 127.8L577.8 127.8L571.5 124.2L562.8 122.2L561.5 121.5L559.2 118.8L559.2 115.2L559.8 113.5L560.2 110.2L558.8 106.2L558.8 103.5L565.2 97.2L568.5 91.5L569.8 86.5L570.2 82.8L572.5 76.8L572.5 72.5L571.8 71.2L569.8 69.5L566.8 68.8L561.5 66.8L558.5 64.2L557.5 61.2L557.5 56.0ZM429.8 56.0L429.8 60.2L430.5 61.8L436.2 66.8L439.8 74.5L442.5 77.2L448.2 80.2L453.5 84.2L456.2 83.8L460.5 79.5L464.5 74.2L470.5 68.2L472.2 65.8L473.8 62.5L474.5 60.2L474.5 56.0Z"/>
<path fill-rule="evenodd" fill="#ffac75" d="M590.5 141.8L591.2 143.2L594.2 144.5L599.5 144.2L601.2 142.8L601.5 141.8L601.2 139.2L600.2 138.2L598.2 137.5L592.8 137.8L590.8 139.5ZM411.5 117.5L411.2 118.5L411.5 120.5L412.8 122.2L414.5 123.2L418.8 123.5L420.5 122.8L421.5 121.2L421.5 120.2L420.5 117.8L417.5 115.8L415.8 115.5L413.5 115.8ZM573.2 130.5L570.8 127.8L568.5 126.5L566.2 125.8L560.5 125.8L556.5 127.2L550.5 127.2L547.2 125.5L545.2 123.5L541.2 117.8L537.8 114.8L535.5 114.2L530.2 114.2L527.8 114.8L524.8 117.5L521.2 122.2L512.2 130.8L511.2 133.2L511.2 137.5L509.8 140.5L508.2 142.5L504.8 149.5L502.5 152.2L499.5 154.5L498.5 156.5L498.2 158.8L499.5 163.2L502.2 167.2L506.2 169.5L509.2 170.2L515.2 170.2L515.5 169.8L520.5 169.5L527.5 167.8L533.8 167.5L534.2 167.2L539.8 166.5L543.8 165.5L548.5 163.5L553.8 162.8L556.5 161.8L561.5 160.8L563.5 159.8L564.5 157.8L564.5 150.5L564.8 150.2L565.2 146.8L566.2 144.2L568.8 141.5L570.8 140.5L573.5 137.5L573.8 132.5ZM447.5 113.5L444.8 113.5L443.2 114.2L441.2 116.2L438.5 120.8L435.5 123.8L430.2 126.8L429.2 128.2L429.5 130.8L434.2 135.5L435.5 138.5L435.5 140.8L434.8 142.5L432.5 144.8L428.2 147.2L425.5 149.2L424.5 150.8L424.5 153.5L426.2 156.5L431.8 162.5L433.8 164.2L435.8 165.2L438.5 165.2L440.8 162.8L441.8 159.8L441.8 152.8L442.5 149.8L443.8 147.5L445.8 145.8L448.2 145.5L449.8 146.2L450.8 147.2L451.5 148.5L453.2 155.8L453.8 157.2L455.8 158.8L459.2 158.5L462.8 156.8L465.8 154.8L467.8 152.2L467.8 149.8L465.8 147.5L463.5 146.2L456.2 144.2L453.8 141.8L453.8 138.8L454.8 136.2L461.5 129.2L462.8 126.8L462.8 123.5L462.2 122.2L460.5 120.8L456.5 118.8L451.8 115.5ZM639.2 104.5L638.5 104.2L636.5 104.5L635.5 105.8L636.2 107.2L637.8 107.2L639.2 105.8ZM516.5 97.8L514.8 97.5L512.2 98.2L509.5 100.5L508.8 103.2L509.2 104.5L510.2 105.8L512.8 107.2L515.8 107.2L518.5 105.2L519.2 102.8L518.8 100.8L518.2 99.2ZM560.8 73.5L559.2 73.8L555.8 77.5L549.5 81.2L547.8 83.2L547.5 86.5L547.8 86.8L548.2 92.2L548.8 94.8L550.8 97.5L553.2 98.5L556.8 98.2L560.5 96.2L563.2 92.8L564.2 90.2L564.2 86.2L561.8 79.2L562.2 74.8ZM537.5 56.0L537.5 58.5L538.2 61.2L539.8 63.2L541.2 63.8L544.5 64.2L544.8 64.5L549.5 64.5L552.2 63.8L553.8 62.2L554.5 59.2L554.5 56.0ZM471.5 56.0L449.8 56.0L449.8 58.5L448.5 61.5L445.5 63.8L442.2 65.5L441.2 66.8L440.8 69.8L442.2 73.2L444.5 75.5L449.2 77.8L452.5 78.8L455.5 78.8L456.8 78.2L467.8 66.8L471.2 61.2L471.8 57.8Z"/>
<path fill-rule="evenodd" fill="#ff3d3d" d="M454.5 149.2L454.8 153.2L456.8 155.2L459.2 155.2L460.8 154.5L462.8 152.8L463.5 151.2L463.2 150.2L461.8 148.8L459.5 147.8L455.8 147.8ZM567.5 129.5L564.2 128.8L561.8 129.8L560.5 131.2L559.5 133.2L559.5 134.8L560.5 137.2L561.5 138.2L564.8 138.5L568.5 136.2L569.5 134.2L569.5 132.2L569.2 131.2ZM561.8 144.2L560.8 142.2L556.2 137.8L554.8 135.5L552.8 133.5L546.5 129.8L544.2 127.5L541.8 123.8L538.5 120.5L535.8 119.2L532.8 119.2L529.8 120.5L527.8 122.5L525.5 128.8L523.8 130.5L520.2 131.8L517.8 133.2L516.8 134.8L515.2 139.8L509.8 146.8L504.8 156.5L504.2 158.5L504.2 161.2L505.5 164.5L507.5 166.5L511.2 167.8L518.8 167.8L526.5 166.2L534.5 165.8L539.2 164.8L543.2 163.5L546.8 161.5L550.8 160.5L554.8 160.2L559.8 157.8L561.2 156.2L562.2 152.2L562.5 148.5L562.2 148.2ZM448.2 118.2L446.2 118.2L444.8 118.8L442.2 121.5L440.5 123.8L434.2 129.5L433.8 131.5L435.8 134.5L437.2 137.8L437.2 141.5L436.5 142.8L434.2 145.2L426.8 149.2L425.5 151.2L425.5 153.2L426.5 155.2L429.8 158.5L433.5 161.2L435.8 162.2L437.5 162.2L439.2 160.8L440.2 158.2L440.5 151.5L441.8 146.2L444.2 143.5L447.8 142.2L449.5 140.8L450.5 138.5L451.2 132.2L454.2 126.8L454.5 124.5L453.2 121.5L451.5 119.8ZM414.5 117.8L413.8 118.5L413.5 119.8L414.8 121.5L417.8 121.8L418.8 120.8L418.8 119.2L417.8 118.2L416.5 117.5ZM554.5 84.5L552.2 86.8L551.8 88.5L552.2 91.2L553.8 93.5L556.8 93.8L558.2 93.2L559.8 91.2L560.2 88.5L559.8 87.2L557.8 84.8ZM540.8 56.0L540.8 58.5L541.5 60.2L542.8 61.5L544.8 62.2L548.8 61.8L551.2 59.5L551.2 56.0ZM468.5 56.0L453.8 56.0L453.8 59.8L453.2 61.8L450.8 64.2L448.2 65.5L444.8 68.2L444.2 69.8L444.8 72.2L446.5 73.8L449.8 75.2L453.5 75.2L455.2 74.5L462.2 68.5L465.5 64.8L467.8 61.2L468.5 59.2Z"/>
<path fill-rule="evenodd" fill="#f72735" d="M438.2 145.5L437.2 145.5L432.8 147.5L431.2 147.8L428.2 149.5L426.8 151.2L426.8 153.2L427.5 154.5L429.5 156.5L434.5 159.2L437.5 158.8L438.5 156.8L438.8 152.5L439.2 152.2L439.2 147.2ZM440.2 133.2L439.8 134.2L440.8 137.2L441.8 138.5L442.5 138.5L443.2 137.8L443.2 136.2L441.8 134.2ZM559.8 148.2L558.5 145.5L550.8 138.2L548.2 134.8L543.2 130.5L539.2 125.2L537.2 123.5L534.5 122.8L533.2 123.2L531.5 124.5L528.2 131.2L524.8 134.5L520.5 137.8L513.8 146.2L510.8 150.8L508.5 155.5L507.8 157.5L507.8 160.5L508.8 162.5L510.2 163.8L512.2 164.8L515.2 165.5L519.8 165.5L526.5 164.2L534.5 164.2L541.2 162.2L547.2 158.8L550.2 158.2L553.5 158.2L556.2 157.2L558.2 155.5L559.5 153.2ZM459.8 56.0L460.2 59.5L460.8 60.2L462.5 60.2L463.8 58.8L463.8 56.0Z"/>
<path fill-rule="evenodd" fill="#a50021" d="M429.5 150.2L428.5 151.5L428.5 153.2L429.5 154.5L431.5 155.8L433.8 156.5L434.8 156.5L436.2 155.8L437.2 153.5L437.2 150.2L436.2 148.8L432.8 148.8ZM557.2 148.8L556.2 146.8L554.5 145.2L551.2 143.2L547.2 139.5L538.5 129.5L536.5 128.2L534.8 128.2L533.2 129.5L529.8 134.5L515.5 148.8L512.5 153.8L511.5 156.8L511.5 158.8L511.8 159.8L513.2 161.2L516.8 162.8L521.2 162.8L523.8 162.2L531.5 162.2L531.8 162.5L535.2 162.2L537.5 161.5L540.8 159.8L545.5 155.2L546.8 154.5L550.2 155.2L554.8 154.8L556.5 153.2L557.2 151.8Z"/>
</g>
<clipPath id="cw0"><rect x="55.0" y="56.0" width="280.0" height="164.0"/></clipPath>
<clipPath id="cm0"><rect x="391.0" y="56.0" width="280.0" height="164.0"/></clipPath>
<g clip-path="url(#cw0)">
<path d="M55.0 195.0L63.5 195.0L63.5 220.0L55.0 220.0Z" fill="#99eaff"/><path d="M55.0 199.0L58.0 201.0L58.0 208.0L55.0 209.0Z" fill="#3d87ff"/><path d="M55.0 207.0L57.5 206.0L58.0 220.0L55.0 220.0Z" fill="#f72735"/><path d="M60.0 190.0L62.0 190.0L63.5 198.0L63.5 220.0L58.5 220.0L58.5 200.0Z" fill="#ff3d3d"/><path d="M60.0 203.0L62.5 203.0L62.5 220.0L59.5 220.0Z" fill="#a50021"/><path d="M63.5 197.0L70.0 197.0L70.0 220.0L63.5 220.0Z" fill="#75d3ff"/><path d="M64.5 201.0L69.0 201.0L69.0 213.0L64.5 213.0Z" fill="#3d87ff"/><path d="M70.0 190.0L80.0 190.0L84.0 220.0L70.0 220.0Z" fill="#ffac75"/><path d="M71.0 196.0L80.0 196.0L83.0 220.0L71.0 220.0Z" fill="#ff3d3d"/><path d="M72.0 201.0L79.0 201.0L82.0 220.0L72.0 220.0Z" fill="#a50021"/><path d="M83.0 196.0L87.0 196.0L87.0 220.0L84.0 220.0Z" fill="#99eaff"/><circle cx="69.3" cy="75.9" r="1.3" fill="#8a8a8a"/><circle cx="69.3" cy="109.2" r="1.3" fill="#8a8a8a"/><circle cx="69.3" cy="133.0" r="1.3" fill="#8a8a8a"/><circle cx="69.3" cy="152.0" r="1.3" fill="#8a8a8a"/><circle cx="69.3" cy="192.4" r="1.3" fill="#8a8a8a"/><circle cx="69.3" cy="202.4" r="1.3" fill="#8a8a8a"/><circle cx="69.3" cy="210.7" r="1.3" fill="#8a8a8a"/><circle cx="85.2" cy="75.9" r="1.3" fill="#8a8a8a"/><circle cx="85.2" cy="109.2" r="1.3" fill="#8a8a8a"/><circle cx="85.2" cy="133.0" r="1.3" fill="#8a8a8a"/><circle cx="85.2" cy="180.5" r="1.3" fill="#8a8a8a"/><circle cx="85.2" cy="192.4" r="1.3" fill="#8a8a8a"/><circle cx="85.2" cy="202.4" r="1.3" fill="#8a8a8a"/><circle cx="85.2" cy="210.7" r="1.3" fill="#8a8a8a"/><circle cx="101.0" cy="75.9" r="1.3" fill="#8a8a8a"/><circle cx="101.0" cy="166.7" r="1.3" fill="#8a8a8a"/><circle cx="101.0" cy="180.5" r="1.3" fill="#8a8a8a"/><circle cx="101.0" cy="192.4" r="1.3" fill="#8a8a8a"/><circle cx="101.0" cy="202.4" r="1.3" fill="#8a8a8a"/><circle cx="101.0" cy="210.7" r="1.3" fill="#8a8a8a"/><circle cx="116.9" cy="75.9" r="1.3" fill="#8a8a8a"/><circle cx="116.9" cy="133.0" r="1.3" fill="#8a8a8a"/><circle cx="116.9" cy="152.0" r="1.3" fill="#8a8a8a"/><circle cx="116.9" cy="166.7" r="1.3" fill="#8a8a8a"/><circle cx="116.9" cy="180.5" r="1.3" fill="#8a8a8a"/><circle cx="116.9" cy="192.4" r="1.3" fill="#8a8a8a"/><circle cx="116.9" cy="202.4" r="1.3" fill="#8a8a8a"/><circle cx="116.9" cy="210.7" r="1.3" fill="#8a8a8a"/><circle cx="132.8" cy="75.9" r="1.3" fill="#8a8a8a"/><circle cx="132.8" cy="133.0" r="1.3" fill="#8a8a8a"/><circle cx="132.8" cy="152.0" r="1.3" fill="#8a8a8a"/><circle cx="132.8" cy="166.7" r="1.3" fill="#8a8a8a"/><circle cx="132.8" cy="180.5" r="1.3" fill="#8a8a8a"/><circle cx="132.8" cy="192.4" r="1.3" fill="#8a8a8a"/><circle cx="132.8" cy="202.4" r="1.3" fill="#8a8a8a"/><circle cx="132.8" cy="210.7" r="1.3" fill="#8a8a8a"/><circle cx="148.6" cy="75.9" r="1.3" fill="#8a8a8a"/><circle cx="148.6" cy="133.0" r="1.3" fill="#8a8a8a"/><circle cx="148.6" cy="152.0" r="1.3" fill="#8a8a8a"/><circle cx="148.6" cy="166.7" r="1.3" fill="#8a8a8a"/><circle cx="148.6" cy="180.5" r="1.3" fill="#8a8a8a"/><circle cx="148.6" cy="192.4" r="1.3" fill="#8a8a8a"/><circle cx="148.6" cy="202.4" r="1.3" fill="#8a8a8a"/><circle cx="148.6" cy="210.7" r="1.3" fill="#8a8a8a"/><circle cx="164.5" cy="75.9" r="1.3" fill="#8a8a8a"/><circle cx="164.5" cy="133.0" r="1.3" fill="#8a8a8a"/><circle cx="164.5" cy="152.0" r="1.3" fill="#8a8a8a"/><circle cx="164.5" cy="166.7" r="1.3" fill="#8a8a8a"/><circle cx="164.5" cy="180.5" r="1.3" fill="#8a8a8a"/><circle cx="164.5" cy="192.4" r="1.3" fill="#8a8a8a"/><circle cx="164.5" cy="202.4" r="1.3" fill="#8a8a8a"/><circle cx="164.5" cy="210.7" r="1.3" fill="#8a8a8a"/><circle cx="180.4" cy="75.9" r="1.3" fill="#8a8a8a"/><circle cx="180.4" cy="133.0" r="1.3" fill="#8a8a8a"/><circle cx="180.4" cy="152.0" r="1.3" fill="#8a8a8a"/><circle cx="180.4" cy="166.7" r="1.3" fill="#8a8a8a"/><circle cx="180.4" cy="180.5" r="1.3" fill="#8a8a8a"/><circle cx="180.4" cy="192.4" r="1.3" fill="#8a8a8a"/><circle cx="180.4" cy="202.4" r="1.3" fill="#8a8a8a"/><circle cx="180.4" cy="210.7" r="1.3" fill="#8a8a8a"/><circle cx="196.3" cy="75.9" r="1.3" fill="#8a8a8a"/><circle cx="196.3" cy="109.2" r="1.3" fill="#8a8a8a"/><circle cx="196.3" cy="133.0" r="1.3" fill="#8a8a8a"/><circle cx="196.3" cy="152.0" r="1.3" fill="#8a8a8a"/><circle cx="196.3" cy="166.7" r="1.3" fill="#8a8a8a"/><circle cx="196.3" cy="180.5" r="1.3" fill="#8a8a8a"/><circle cx="196.3" cy="192.4" r="1.3" fill="#8a8a8a"/><circle cx="196.3" cy="202.4" r="1.3" fill="#8a8a8a"/><circle cx="212.1" cy="75.9" r="1.3" fill="#8a8a8a"/><circle cx="212.1" cy="109.2" r="1.3" fill="#8a8a8a"/><circle cx="212.1" cy="133.0" r="1.3" fill="#8a8a8a"/><circle cx="212.1" cy="152.0" r="1.3" fill="#8a8a8a"/><circle cx="212.1" cy="166.7" r="1.3" fill="#8a8a8a"/><circle cx="212.1" cy="180.5" r="1.3" fill="#8a8a8a"/><circle cx="212.1" cy="192.4" r="1.3" fill="#8a8a8a"/><circle cx="212.1" cy="202.4" r="1.3" fill="#8a8a8a"/><circle cx="228.0" cy="109.2" r="1.3" fill="#8a8a8a"/><circle cx="228.0" cy="133.0" r="1.3" fill="#8a8a8a"/><circle cx="228.0" cy="152.0" r="1.3" fill="#8a8a8a"/><circle cx="228.0" cy="166.7" r="1.3" fill="#8a8a8a"/><circle cx="228.0" cy="180.5" r="1.3" fill="#8a8a8a"/><circle cx="228.0" cy="192.4" r="1.3" fill="#8a8a8a"/><circle cx="228.0" cy="202.4" r="1.3" fill="#8a8a8a"/><circle cx="228.0" cy="210.7" r="1.3" fill="#8a8a8a"/><circle cx="243.9" cy="109.2" r="1.3" fill="#8a8a8a"/><circle cx="243.9" cy="133.0" r="1.3" fill="#8a8a8a"/><circle cx="243.9" cy="152.0" r="1.3" fill="#8a8a8a"/><circle cx="243.9" cy="166.7" r="1.3" fill="#8a8a8a"/><circle cx="243.9" cy="180.5" r="1.3" fill="#8a8a8a"/><circle cx="243.9" cy="192.4" r="1.3" fill="#8a8a8a"/><circle cx="243.9" cy="202.4" r="1.3" fill="#8a8a8a"/><circle cx="243.9" cy="210.7" r="1.3" fill="#8a8a8a"/><circle cx="259.7" cy="75.9" r="1.3" fill="#8a8a8a"/><circle cx="259.7" cy="109.2" r="1.3" fill="#8a8a8a"/><circle cx="259.7" cy="133.0" r="1.3" fill="#8a8a8a"/><circle cx="259.7" cy="152.0" r="1.3" fill="#8a8a8a"/><circle cx="259.7" cy="166.7" r="1.3" fill="#8a8a8a"/><circle cx="259.7" cy="180.5" r="1.3" fill="#8a8a8a"/><circle cx="259.7" cy="192.4" r="1.3" fill="#8a8a8a"/><circle cx="259.7" cy="202.4" r="1.3" fill="#8a8a8a"/><circle cx="259.7" cy="210.7" r="1.3" fill="#8a8a8a"/><circle cx="275.6" cy="75.9" r="1.3" fill="#8a8a8a"/><circle cx="275.6" cy="109.2" r="1.3" fill="#8a8a8a"/><circle cx="275.6" cy="133.0" r="1.3" fill="#8a8a8a"/><circle cx="275.6" cy="152.0" r="1.3" fill="#8a8a8a"/><circle cx="275.6" cy="166.7" r="1.3" fill="#8a8a8a"/><circle cx="275.6" cy="180.5" r="1.3" fill="#8a8a8a"/><circle cx="275.6" cy="192.4" r="1.3" fill="#8a8a8a"/><circle cx="275.6" cy="202.4" r="1.3" fill="#8a8a8a"/><circle cx="275.6" cy="210.7" r="1.3" fill="#8a8a8a"/><circle cx="291.5" cy="75.9" r="1.3" fill="#8a8a8a"/><circle cx="291.5" cy="109.2" r="1.3" fill="#8a8a8a"/><circle cx="291.5" cy="133.0" r="1.3" fill="#8a8a8a"/><circle cx="291.5" cy="152.0" r="1.3" fill="#8a8a8a"/><circle cx="291.5" cy="166.7" r="1.3" fill="#8a8a8a"/><circle cx="291.5" cy="180.5" r="1.3" fill="#8a8a8a"/><circle cx="291.5" cy="192.4" r="1.3" fill="#8a8a8a"/><circle cx="291.5" cy="202.4" r="1.3" fill="#8a8a8a"/><circle cx="291.5" cy="210.7" r="1.3" fill="#8a8a8a"/><circle cx="307.3" cy="75.9" r="1.3" fill="#8a8a8a"/><circle cx="307.3" cy="109.2" r="1.3" fill="#8a8a8a"/><circle cx="307.3" cy="133.0" r="1.3" fill="#8a8a8a"/><circle cx="307.3" cy="152.0" r="1.3" fill="#8a8a8a"/><circle cx="307.3" cy="166.7" r="1.3" fill="#8a8a8a"/><circle cx="307.3" cy="180.5" r="1.3" fill="#8a8a8a"/><circle cx="307.3" cy="192.4" r="1.3" fill="#8a8a8a"/><circle cx="307.3" cy="202.4" r="1.3" fill="#8a8a8a"/><circle cx="307.3" cy="210.7" r="1.3" fill="#8a8a8a"/><circle cx="323.2" cy="75.9" r="1.3" fill="#8a8a8a"/><circle cx="323.2" cy="109.2" r="1.3" fill="#8a8a8a"/><circle cx="323.2" cy="133.0" r="1.3" fill="#8a8a8a"/><circle cx="323.2" cy="152.0" r="1.3" fill="#8a8a8a"/><circle cx="323.2" cy="166.7" r="1.3" fill="#8a8a8a"/><circle cx="323.2" cy="180.5" r="1.3" fill="#8a8a8a"/><circle cx="323.2" cy="192.4" r="1.3" fill="#8a8a8a"/><circle cx="323.2" cy="202.4" r="1.3" fill="#8a8a8a"/><circle cx="323.2" cy="210.7" r="1.3" fill="#8a8a8a"/><g stroke="#000" stroke-width="1.6" fill="none" stroke-linecap="round" stroke-linejoin="round"><path d="M77.0 80.9L69.0 80.9M73.8 78.5L69.0 80.9L73.8 83.3"/><path d="M96.9 80.9L82.9 80.9M88.4 78.1L82.9 80.9L88.4 83.6"/><path d="M114.8 80.9L98.8 80.9M104.3 78.1L98.8 80.9L104.3 83.6"/><path d="M131.7 80.9L115.7 80.9M121.2 78.1L115.7 80.9L121.2 83.6"/><path d="M149.1 80.9L132.1 80.9M137.6 78.1L132.1 80.9L137.6 83.6"/><path d="M168.3 83.0L146.7 78.7M152.6 77.1L146.7 78.7L151.6 82.5"/><path d="M185.2 83.0L163.6 78.7M169.5 77.1L163.6 78.7L168.5 82.5"/><path d="M202.1 83.0L180.5 78.7M186.4 77.1L180.5 78.7L185.4 82.5"/><path d="M218.4 85.1L198.0 76.7M204.2 76.2L198.0 76.7L202.1 81.3"/><path d="M236.2 85.5L214.0 76.3M220.1 75.8L214.0 76.3L218.0 80.9"/><path d="M253.1 85.5L230.9 76.3M237.0 75.8L230.9 76.3L234.9 80.9"/><path d="M270.0 85.5L247.8 76.3M253.9 75.8L247.8 76.3L251.8 80.9"/><path d="M286.9 85.5L264.7 76.3M270.8 75.8L264.7 76.3L268.7 80.9"/><path d="M303.8 85.5L281.6 76.3M287.7 75.8L281.6 76.3L285.6 80.9"/><path d="M320.7 85.5L298.5 76.3M304.6 75.8L298.5 76.3L302.5 80.9"/><path d="M337.6 85.5L315.4 76.3M321.5 75.8L315.4 76.3L319.4 80.9"/><path d="M73.0 111.9L73.0 119.9M70.6 115.1L73.0 119.9L75.4 115.1"/><path d="M106.8 111.9L106.8 119.9M104.4 115.1L106.8 119.9L109.2 115.1"/><path d="M125.4 120.1L122.0 111.8M126.5 115.7L122.0 111.8L121.5 117.8"/><path d="M142.5 120.5L138.7 111.3M143.3 115.3L138.7 111.3L138.3 117.4"/><path d="M161.4 119.8L153.6 112.0M159.4 114.0L153.6 112.0L155.6 117.9"/><path d="M178.6 120.2L170.2 111.7M176.0 113.6L170.2 111.7L172.1 117.5"/><path d="M195.9 120.5L186.7 111.3M192.5 113.3L186.7 111.3L188.6 117.2"/><path d="M212.8 120.5L203.6 111.3M209.4 113.3L203.6 111.3L205.5 117.2"/><path d="M230.0 120.9L220.2 111.0M226.0 112.9L220.2 111.0L222.1 116.8"/><path d="M246.9 120.9L237.1 111.0M242.9 112.9L237.1 111.0L239.0 116.8"/><path d="M263.8 120.9L254.0 111.0M259.8 112.9L254.0 111.0L255.9 116.8"/><path d="M280.7 120.9L270.9 111.0M276.7 112.9L270.9 111.0L272.8 116.8"/><path d="M297.6 120.9L287.8 111.0M293.6 112.9L287.8 111.0L289.7 116.8"/><path d="M314.5 120.9L304.7 111.0M310.5 112.9L304.7 111.0L306.6 116.8"/><path d="M331.4 120.9L321.6 111.0M327.4 112.9L321.6 111.0L323.5 116.8"/><path d="M73.0 136.3L73.0 145.3M70.3 139.9L73.0 145.3L75.7 139.9"/><path d="M102.6 136.5L111.0 145.0M105.2 143.1L111.0 145.0L109.1 139.2"/><path d="M117.7 140.8L129.7 140.8M124.2 143.5L129.7 140.8L124.2 138.0"/><path d="M134.6 140.8L146.6 140.8M141.1 143.5L146.6 140.8L141.1 138.0"/><path d="M152.0 143.1L163.0 138.5M159.0 143.1L163.0 138.5L156.9 138.1"/><path d="M170.2 145.0L178.6 136.5M176.7 142.4L178.6 136.5L172.8 138.5"/><path d="M187.1 145.0L195.5 136.5M193.6 142.4L195.5 136.5L189.7 138.5"/><path d="M204.0 145.0L212.4 136.5M210.5 142.4L212.4 136.5L206.6 138.5"/><path d="M222.8 146.3L227.4 135.2M227.8 141.4L227.4 135.2L222.8 139.3"/><path d="M239.7 146.3L244.3 135.2M244.7 141.4L244.3 135.2L239.7 139.3"/><path d="M258.9 146.8L258.9 134.8M261.6 140.3L258.9 134.8L256.1 140.3"/><path d="M275.8 146.8L275.8 134.8M278.5 140.3L275.8 134.8L273.0 140.3"/><path d="M295.0 146.3L290.4 135.2M295.0 139.3L290.4 135.2L290.0 141.4"/><path d="M313.8 145.0L305.4 136.5M311.2 138.5L305.4 136.5L307.3 142.4"/><path d="M330.7 145.0L322.3 136.5M328.1 138.5L322.3 136.5L324.2 142.4"/><path d="M73.0 155.6L73.0 164.6M70.3 159.2L73.0 164.6L75.7 159.2"/><path d="M102.2 155.5L111.4 164.7M105.6 162.7L111.4 164.7L109.5 158.8"/><path d="M117.2 160.1L130.2 160.1M124.7 162.8L130.2 160.1L124.7 157.3"/><path d="M134.1 160.1L147.1 160.1M141.6 162.8L147.1 160.1L141.6 157.3"/><path d="M151.5 162.6L163.5 157.6M159.5 162.2L163.5 157.6L157.4 157.2"/><path d="M168.4 162.6L180.4 157.6M176.4 162.2L180.4 157.6L174.3 157.2"/><path d="M186.7 164.7L195.9 155.5M194.0 161.3L195.9 155.5L190.1 157.4"/><path d="M203.6 164.7L212.8 155.5M210.9 161.3L212.8 155.5L207.0 157.4"/><path d="M220.5 164.7L229.7 155.5M227.8 161.3L229.7 155.5L223.9 157.4"/><path d="M237.4 164.7L246.6 155.5M244.7 161.3L246.6 155.5L240.8 157.4"/><path d="M254.3 164.7L263.5 155.5M261.6 161.3L263.5 155.5L257.7 157.4"/><path d="M273.3 166.1L278.3 154.1M278.7 160.2L278.3 154.1L273.6 158.1"/><path d="M292.7 166.6L292.7 153.6M295.4 159.1L292.7 153.6L289.9 159.1"/><path d="M309.6 166.6L309.6 153.6M312.3 159.1L309.6 153.6L306.8 159.1"/><path d="M326.5 166.6L326.5 153.6M329.2 159.1L326.5 153.6L323.8 159.1"/><path d="M68.8 184.9L77.2 193.4M71.4 191.5L77.2 193.4L75.3 187.6"/><path d="M85.0 184.2L94.8 194.1M89.0 192.2L94.8 194.1L92.9 188.3"/><path d="M101.5 183.9L112.1 194.5M106.3 192.5L112.1 194.5L110.2 188.6"/><path d="M116.8 186.3L130.6 192.0M124.5 192.5L130.6 192.0L126.6 187.4"/><path d="M132.6 189.2L148.6 189.2M143.1 191.9L148.6 189.2L143.1 186.4"/><path d="M148.5 189.2L166.5 189.2M161.0 191.9L166.5 189.2L161.0 186.4"/><path d="M166.1 192.6L182.7 185.7M178.7 190.4L182.7 185.7L176.6 185.3"/><path d="M183.0 192.6L199.6 185.7M195.6 190.4L199.6 185.7L193.5 185.3"/><path d="M199.9 192.6L216.5 185.7M212.5 190.4L216.5 185.7L210.4 185.3"/><path d="M216.8 192.6L233.4 185.7M229.4 190.4L233.4 185.7L227.3 185.3"/><path d="M233.7 192.6L250.3 185.7M246.3 190.4L250.3 185.7L244.2 185.3"/><path d="M251.5 192.2L266.3 186.1M262.3 190.8L266.3 186.1L260.2 185.7"/><path d="M268.4 192.2L283.2 186.1M279.2 190.8L283.2 186.1L277.1 185.7"/><path d="M285.8 192.0L299.6 186.3M295.6 190.9L299.6 186.3L293.5 185.9"/><path d="M302.7 192.0L316.5 186.3M312.5 190.9L316.5 186.3L310.4 185.9"/><path d="M319.6 192.0L333.4 186.3M329.4 190.9L333.4 186.3L327.3 185.9"/><path d="M73.0 211.0L73.0 201.0M75.8 206.5L73.0 201.0L70.2 206.5"/><path d="M86.4 202.4L93.4 209.5M87.6 207.5L93.4 209.5L91.5 203.7"/><path d="M103.3 202.4L110.3 209.5M104.5 207.5L110.3 209.5L108.4 203.7"/><path d="M120.2 202.4L127.2 209.5M121.4 207.5L127.2 209.5L125.3 203.7"/><path d="M135.6 206.0L145.6 206.0M140.1 208.7L145.6 206.0L140.1 203.2"/><path d="M155.6 210.6L159.4 201.3M159.8 207.5L159.4 201.3L154.8 205.4"/><path d="M172.5 210.6L176.3 201.3M176.7 207.5L176.3 201.3L171.7 205.4"/><path d="M187.8 209.5L194.8 202.4M192.9 208.2L194.8 202.4L189.0 204.4"/><path d="M204.7 209.5L211.7 202.4M209.8 208.2L211.7 202.4L205.9 204.4"/><path d="M221.6 209.5L228.6 202.4M226.7 208.2L228.6 202.4L222.8 204.4"/><path d="M238.5 209.5L245.5 202.4M243.6 208.2L245.5 202.4L239.7 204.4"/><path d="M255.4 209.5L262.4 202.4M260.5 208.2L262.4 202.4L256.6 204.4"/><path d="M273.9 210.6L277.7 201.3M278.1 207.5L277.7 201.3L273.1 205.4"/><path d="M292.7 211.0L292.7 201.0M295.4 206.5L292.7 201.0L289.9 206.5"/><path d="M309.6 211.0L309.6 201.0M312.3 206.5L309.6 201.0L306.8 206.5"/><path d="M326.5 211.0L326.5 201.0M329.2 206.5L326.5 201.0L323.8 206.5"/><path d="M104.7 217.0L108.9 221.3M105.1 220.0L108.9 221.3L107.6 217.4"/><path d="M121.6 221.3L125.8 217.0M124.5 220.8L125.8 217.0L122.0 218.3"/><path d="M138.5 221.3L142.7 217.0M141.4 220.8L142.7 217.0L138.9 218.3"/><path d="M155.4 221.3L159.6 217.0M158.3 220.8L159.6 217.0L155.8 218.3"/><path d="M172.3 221.3L176.5 217.0M175.2 220.8L176.5 217.0L172.7 218.3"/><path d="M189.2 221.3L193.4 217.0M192.1 220.8L193.4 217.0L189.6 218.3"/><path d="M206.1 221.3L210.3 217.0M209.0 220.8L210.3 217.0L206.5 218.3"/><path d="M223.0 221.3L227.2 217.0M225.9 220.8L227.2 217.0L223.4 218.3"/><path d="M239.9 221.3L244.1 217.0M242.8 220.8L244.1 217.0L240.3 218.3"/><path d="M256.8 221.3L261.0 217.0M259.7 220.8L261.0 217.0L257.2 218.3"/><path d="M273.7 221.3L277.9 217.0M276.6 220.8L277.9 217.0L274.1 218.3"/><path d="M290.6 221.3L294.8 217.0M293.5 220.8L294.8 217.0L291.0 218.3"/><path d="M307.5 221.3L311.7 217.0M310.4 220.8L311.7 217.0L307.9 218.3"/><path d="M326.5 222.1L326.5 216.1M328.3 219.7L326.5 216.1L324.7 219.7"/></g><path d="M85.1 185.2L92.1 185.2L92.1 113.8L98.1 113.8L88.6 90.8L79.1 113.8L85.1 113.8Z" fill="#2222ae"/><path d="M276.2 90.8L282.8 90.8L282.8 165.2L288.8 165.2L279.5 187.5L270.2 165.2L276.2 165.2Z" fill="#f0282a"/>
</g>
<g clip-path="url(#cm0)">
<g fill="none" stroke="#000" stroke-width="1.0" stroke-linejoin="round"><polyline points="391.0,85.5 394.5,83.9 399.1,84.5 403.2,85.2 405.7,84.5 406.8,83.2 408.1,80.9 408.9,78.6 410.2,76.0 411.6,73.7 411.3,71.1 412.0,69.4 412.7,67.2 410.2,67.2 407.1,66.5 405.0,68.1 401.5,68.8 399.1,68.5 396.2,66.8 393.1,66.5 391.0,68.1"/><polyline points="399.8,88.8 400.1,90.1 402.2,93.7 403.6,96.3 405.0,99.3 407.1,103.6 409.2,107.5 410.9,110.1 414.1,115.0 416.2,118.3 416.6,122.6 418.3,126.2 420.8,128.8 423.2,134.7 424.9,137.3 427.8,139.3 430.9,141.9 434.1,145.2 436.9,147.8 437.6,149.5 438.6,151.1 441.8,153.1 446.3,151.8 452.2,150.5 457.5,150.1 462.8,148.8 465.5,148.5 464.9,152.8 463.8,156.7 461.0,161.0 457.5,167.5 454.0,172.4 448.8,179.0 443.5,181.3 438.2,184.9 433.0,189.8 429.5,193.8 426.7,196.4 424.9,200.3 423.2,203.6 421.8,207.9 423.6,210.2 423.6,214.1 424.9,218.4 425.6,221.6"/><polyline points="399.8,88.8 401.5,91.4 403.6,94.0 405.7,96.0 406.8,94.4 407.8,92.1 408.1,90.4 408.9,95.0 410.6,97.3 413.8,101.9 416.2,105.2 419.7,108.5 422.5,113.4 423.2,116.7 426.0,120.9 428.8,124.9 431.2,128.8 434.1,132.1 435.4,135.4 436.1,138.7 437.2,142.9 438.2,145.5 440.7,145.9 443.5,145.2 447.0,143.2 452.2,141.6 456.5,141.3 459.2,139.3 462.8,138.0 466.2,137.0 468.7,135.4 471.9,132.8 475.0,131.8 478.5,130.1 481.0,128.5 484.1,127.5 485.9,125.2 488.3,124.6 490.8,120.3 492.5,117.3 495.3,113.7 493.5,112.1 491.1,109.8 488.3,108.8 485.1,106.8 483.4,104.5 483.0,101.3 482.4,101.9 480.2,103.6 477.1,107.2 474.3,108.2 470.1,107.8 466.6,107.8 465.5,106.5 466.6,104.2 466.2,102.2 465.2,101.6 464.1,103.2 463.8,105.9 462.8,103.9 461.7,101.9 460.6,99.3 459.2,98.3 457.1,96.7 455.8,94.4 454.0,92.1 454.0,89.1 455.8,88.8 458.2,87.8 461.4,88.5 463.1,90.4 464.5,92.7 466.6,95.7 470.1,97.3 474.0,99.6 477.5,100.3 480.6,99.3 483.0,98.3 485.5,99.3 486.5,102.2 489.7,103.2 493.5,103.9 497.8,104.2 501.6,104.5 504.8,104.5 508.2,104.2 512.1,104.5 516.3,103.9 519.1,103.9 520.5,105.9 522.2,108.8 524.7,109.5 526.5,111.1 527.8,113.1 531.0,112.1 532.0,113.4 527.2,114.1 530.0,116.7 533.8,119.3 537.0,118.6 539.4,117.3 540.5,118.0 541.2,120.9 540.8,124.9 541.5,128.2 542.5,131.4 544.0,135.4 545.3,138.7 547.1,142.9 548.2,145.5 549.9,148.8 551.3,151.1 552.7,154.4 554.1,158.0 556.2,160.0 557.6,160.6 559.7,158.7 560.4,156.7 562.8,156.7 563.5,153.4 565.3,151.8 565.7,147.8 566.7,144.6 567.0,139.6 567.0,136.4 569.2,135.0 570.5,133.4 574.0,132.4 574.4,131.1 577.9,128.8 580.7,126.8 583.8,123.9 587.0,121.9 588.8,120.6 590.5,118.6 590.5,116.7 594.0,116.0 596.5,116.4 599.2,115.4 602.8,115.0 604.5,113.4 607.3,113.7 608.0,117.3 609.0,119.3 611.5,121.6 613.6,123.9 615.7,126.5 616.8,129.8 616.0,133.1 616.8,134.7 619.2,135.4 622.0,133.7 624.8,132.1 626.9,132.8 628.0,136.4 629.0,139.6 630.4,142.9 631.1,146.2 631.5,149.5 630.8,153.4 630.0,157.7 630.0,161.0 632.2,161.3 634.6,164.2 636.7,166.2 637.4,169.8 638.8,174.1 640.5,177.7 642.7,179.7 646.2,181.6 648.2,182.9 651.0,182.6 649.7,180.3 647.9,176.0 647.9,173.1 646.5,168.8 644.0,166.9 641.2,164.9 638.8,164.6 637.0,161.9 636.0,158.0 634.2,156.7 633.2,153.1 634.2,150.5 635.7,147.2 636.0,144.6 638.1,142.9 639.5,145.2 642.0,145.9 644.0,147.2 645.8,148.8 646.8,151.1 649.0,152.8 651.8,153.1 652.8,156.0 652.8,159.0 654.2,158.3 657.7,156.0 659.8,153.1 662.2,152.8 665.0,151.1 667.5,149.5 668.2,146.2 668.5,142.9 667.8,139.6 666.5,137.0 664.7,134.7 661.9,132.1 659.1,129.8 657.0,126.8 656.0,124.9 656.7,122.3 658.8,120.0 660.8,118.3 663.7,116.7 665.8,116.4 667.8,116.7 670.3,116.7 671.7,118.3"/><polyline points="565.7,164.6 565.3,161.0 566.0,155.1 567.4,156.0 570.2,159.0 571.6,162.3 572.7,164.2 571.2,166.5 568.1,167.8 566.3,166.9 565.7,164.6"/><polyline points="619.5,168.8 621.7,169.2 627.2,170.1 630.0,173.4 632.5,175.7 635.7,178.3 637.8,180.3 640.5,181.3 643.7,182.9 646.8,186.2 648.6,189.8 651.4,192.1 653.2,195.1 656.0,197.7 656.7,201.6 656.3,206.2 654.2,206.2 652.1,206.6 649.0,203.3 645.1,200.6 642.3,197.4 639.5,194.7 638.1,191.5 636.7,188.5 633.5,184.9 631.8,181.6 629.0,178.3 626.2,176.4 623.8,174.1 621.7,172.1 619.5,168.8"/><polyline points="654.5,209.5 657.3,206.9 660.2,206.9 665.0,207.9 666.5,209.5 672.0,209.8 672.0,213.1 665.8,212.8 662.2,211.8 658.4,211.5 655.2,209.8 654.5,209.5"/><polyline points="653.8,192.4 656.3,192.4 658.0,195.1 659.5,197.0 657.3,197.0 655.6,195.1 653.8,192.4"/><polyline points="672.0,181.6 669.6,181.0 667.5,182.9 667.8,187.2 668.5,189.8 671.3,192.4 672.0,196.7"/><polyline points="672.0,121.3 670.0,121.6 666.8,123.6 666.1,126.5 669.2,127.5 672.0,126.2"/><polyline points="399.1,73.4 401.1,72.1 403.9,71.1 407.1,70.1 405.0,72.4 404.6,72.7 401.5,73.7 399.1,73.4"/><polyline points="472.5,145.9 475.4,145.5 476.8,146.2 475.4,146.9 472.9,146.9 472.5,145.9"/><polyline points="398.0,188.2 402.6,186.2 405.0,188.2 405.4,190.8 402.6,195.4 399.1,195.1 396.9,192.4 397.3,188.8 398.0,188.2"/><polyline points="411.6,172.1 412.4,175.4 413.4,179.3 414.1,178.7 413.1,175.4 412.4,172.1 411.6,172.1"/><polyline points="390.6,201.0 393.1,205.6 394.1,210.8 395.2,215.4 393.4,214.8 392.1,210.2 390.6,206.2"/><polyline points="459.2,55.3 458.5,57.6 457.5,59.3 457.1,61.2 457.5,64.2 461.0,64.9 464.5,66.5 469.8,66.8 474.6,66.2 475.0,64.9 474.6,62.6 474.3,59.3 472.2,58.3 471.5,55.3"/><polyline points="443.9,62.9 445.2,61.9 446.6,63.5 445.9,65.2 444.6,64.9 443.9,62.9"/><polyline points="435.8,60.6 437.6,59.6 438.6,60.9 436.5,61.6 435.8,60.6"/><polyline points="610.5,142.6 611.5,145.2 610.8,147.8 610.1,149.5"/><polyline points="409.9,82.9 410.6,83.2 410.2,84.9 409.9,82.9"/></g>
<circle cx="397.9" cy="141.0" r="1.4" fill="#8a8a8a"/><circle cx="397.9" cy="147.5" r="1.4" fill="#8a8a8a"/><circle cx="397.9" cy="154.0" r="1.4" fill="#8a8a8a"/><circle cx="397.9" cy="160.5" r="1.4" fill="#8a8a8a"/><circle cx="397.9" cy="167.1" r="1.4" fill="#8a8a8a"/><circle cx="397.9" cy="173.6" r="1.4" fill="#8a8a8a"/><circle cx="404.7" cy="127.9" r="1.4" fill="#8a8a8a"/><circle cx="404.7" cy="134.5" r="1.4" fill="#8a8a8a"/><circle cx="404.7" cy="141.0" r="1.4" fill="#8a8a8a"/><circle cx="404.7" cy="147.5" r="1.4" fill="#8a8a8a"/><circle cx="404.7" cy="154.0" r="1.4" fill="#8a8a8a"/><circle cx="404.7" cy="160.5" r="1.4" fill="#8a8a8a"/><circle cx="404.7" cy="167.1" r="1.4" fill="#8a8a8a"/><circle cx="404.7" cy="173.6" r="1.4" fill="#8a8a8a"/><circle cx="411.5" cy="121.4" r="1.4" fill="#8a8a8a"/><circle cx="411.5" cy="127.9" r="1.4" fill="#8a8a8a"/><circle cx="411.5" cy="134.5" r="1.4" fill="#8a8a8a"/><circle cx="411.5" cy="141.0" r="1.4" fill="#8a8a8a"/><circle cx="411.5" cy="147.5" r="1.4" fill="#8a8a8a"/><circle cx="411.5" cy="154.0" r="1.4" fill="#8a8a8a"/><circle cx="411.5" cy="160.5" r="1.4" fill="#8a8a8a"/><circle cx="411.5" cy="167.1" r="1.4" fill="#8a8a8a"/><circle cx="411.5" cy="173.6" r="1.4" fill="#8a8a8a"/><circle cx="418.3" cy="121.4" r="1.4" fill="#8a8a8a"/><circle cx="418.3" cy="127.9" r="1.4" fill="#8a8a8a"/><circle cx="418.3" cy="134.5" r="1.4" fill="#8a8a8a"/><circle cx="418.3" cy="141.0" r="1.4" fill="#8a8a8a"/><circle cx="418.3" cy="147.5" r="1.4" fill="#8a8a8a"/><circle cx="418.3" cy="154.0" r="1.4" fill="#8a8a8a"/><circle cx="418.3" cy="160.5" r="1.4" fill="#8a8a8a"/><circle cx="418.3" cy="167.1" r="1.4" fill="#8a8a8a"/><circle cx="418.3" cy="173.6" r="1.4" fill="#8a8a8a"/><circle cx="425.2" cy="101.9" r="1.4" fill="#8a8a8a"/><circle cx="425.2" cy="141.0" r="1.4" fill="#8a8a8a"/><circle cx="425.2" cy="147.5" r="1.4" fill="#8a8a8a"/><circle cx="425.2" cy="154.0" r="1.4" fill="#8a8a8a"/><circle cx="432.0" cy="127.9" r="1.4" fill="#8a8a8a"/><circle cx="432.0" cy="134.5" r="1.4" fill="#8a8a8a"/><circle cx="432.0" cy="141.0" r="1.4" fill="#8a8a8a"/><circle cx="432.0" cy="147.5" r="1.4" fill="#8a8a8a"/><circle cx="432.0" cy="154.0" r="1.4" fill="#8a8a8a"/><circle cx="432.0" cy="160.5" r="1.4" fill="#8a8a8a"/><circle cx="438.8" cy="127.9" r="1.4" fill="#8a8a8a"/><circle cx="438.8" cy="134.5" r="1.4" fill="#8a8a8a"/><circle cx="438.8" cy="141.0" r="1.4" fill="#8a8a8a"/><circle cx="438.8" cy="147.5" r="1.4" fill="#8a8a8a"/><circle cx="438.8" cy="154.0" r="1.4" fill="#8a8a8a"/><circle cx="438.8" cy="160.5" r="1.4" fill="#8a8a8a"/><circle cx="445.7" cy="69.3" r="1.4" fill="#8a8a8a"/><circle cx="445.7" cy="75.8" r="1.4" fill="#8a8a8a"/><circle cx="445.7" cy="121.4" r="1.4" fill="#8a8a8a"/><circle cx="445.7" cy="127.9" r="1.4" fill="#8a8a8a"/><circle cx="445.7" cy="134.5" r="1.4" fill="#8a8a8a"/><circle cx="445.7" cy="141.0" r="1.4" fill="#8a8a8a"/><circle cx="452.5" cy="62.7" r="1.4" fill="#8a8a8a"/><circle cx="452.5" cy="69.3" r="1.4" fill="#8a8a8a"/><circle cx="452.5" cy="75.8" r="1.4" fill="#8a8a8a"/><circle cx="452.5" cy="121.4" r="1.4" fill="#8a8a8a"/><circle cx="452.5" cy="127.9" r="1.4" fill="#8a8a8a"/><circle cx="452.5" cy="134.5" r="1.4" fill="#8a8a8a"/><circle cx="452.5" cy="147.5" r="1.4" fill="#8a8a8a"/><circle cx="452.5" cy="154.0" r="1.4" fill="#8a8a8a"/><circle cx="459.3" cy="62.7" r="1.4" fill="#8a8a8a"/><circle cx="459.3" cy="69.3" r="1.4" fill="#8a8a8a"/><circle cx="459.3" cy="75.8" r="1.4" fill="#8a8a8a"/><circle cx="459.3" cy="121.4" r="1.4" fill="#8a8a8a"/><circle cx="459.3" cy="127.9" r="1.4" fill="#8a8a8a"/><circle cx="459.3" cy="134.5" r="1.4" fill="#8a8a8a"/><circle cx="459.3" cy="147.5" r="1.4" fill="#8a8a8a"/><circle cx="459.3" cy="154.0" r="1.4" fill="#8a8a8a"/><circle cx="466.2" cy="62.7" r="1.4" fill="#8a8a8a"/><circle cx="466.2" cy="147.5" r="1.4" fill="#8a8a8a"/><circle cx="466.2" cy="154.0" r="1.4" fill="#8a8a8a"/><circle cx="486.6" cy="186.6" r="1.4" fill="#8a8a8a"/><circle cx="486.6" cy="193.1" r="1.4" fill="#8a8a8a"/><circle cx="493.5" cy="180.1" r="1.4" fill="#8a8a8a"/><circle cx="493.5" cy="186.6" r="1.4" fill="#8a8a8a"/><circle cx="493.5" cy="193.1" r="1.4" fill="#8a8a8a"/><circle cx="500.3" cy="108.4" r="1.4" fill="#8a8a8a"/><circle cx="500.3" cy="114.9" r="1.4" fill="#8a8a8a"/><circle cx="500.3" cy="121.4" r="1.4" fill="#8a8a8a"/><circle cx="500.3" cy="127.9" r="1.4" fill="#8a8a8a"/><circle cx="500.3" cy="134.5" r="1.4" fill="#8a8a8a"/><circle cx="500.3" cy="141.0" r="1.4" fill="#8a8a8a"/><circle cx="500.3" cy="147.5" r="1.4" fill="#8a8a8a"/><circle cx="500.3" cy="154.0" r="1.4" fill="#8a8a8a"/><circle cx="500.3" cy="160.5" r="1.4" fill="#8a8a8a"/><circle cx="500.3" cy="180.1" r="1.4" fill="#8a8a8a"/><circle cx="500.3" cy="186.6" r="1.4" fill="#8a8a8a"/><circle cx="500.3" cy="193.1" r="1.4" fill="#8a8a8a"/><circle cx="507.1" cy="101.9" r="1.4" fill="#8a8a8a"/><circle cx="507.1" cy="108.4" r="1.4" fill="#8a8a8a"/><circle cx="507.1" cy="114.9" r="1.4" fill="#8a8a8a"/><circle cx="507.1" cy="121.4" r="1.4" fill="#8a8a8a"/><circle cx="507.1" cy="127.9" r="1.4" fill="#8a8a8a"/><circle cx="507.1" cy="134.5" r="1.4" fill="#8a8a8a"/><circle cx="507.1" cy="141.0" r="1.4" fill="#8a8a8a"/><circle cx="507.1" cy="147.5" r="1.4" fill="#8a8a8a"/><circle cx="507.1" cy="154.0" r="1.4" fill="#8a8a8a"/><circle cx="507.1" cy="160.5" r="1.4" fill="#8a8a8a"/><circle cx="507.1" cy="167.1" r="1.4" fill="#8a8a8a"/><circle cx="507.1" cy="180.1" r="1.4" fill="#8a8a8a"/><circle cx="507.1" cy="186.6" r="1.4" fill="#8a8a8a"/><circle cx="507.1" cy="193.1" r="1.4" fill="#8a8a8a"/><circle cx="514.0" cy="101.9" r="1.4" fill="#8a8a8a"/><circle cx="514.0" cy="108.4" r="1.4" fill="#8a8a8a"/><circle cx="514.0" cy="114.9" r="1.4" fill="#8a8a8a"/><circle cx="514.0" cy="121.4" r="1.4" fill="#8a8a8a"/><circle cx="514.0" cy="127.9" r="1.4" fill="#8a8a8a"/><circle cx="514.0" cy="134.5" r="1.4" fill="#8a8a8a"/><circle cx="514.0" cy="141.0" r="1.4" fill="#8a8a8a"/><circle cx="514.0" cy="147.5" r="1.4" fill="#8a8a8a"/><circle cx="514.0" cy="154.0" r="1.4" fill="#8a8a8a"/><circle cx="514.0" cy="160.5" r="1.4" fill="#8a8a8a"/><circle cx="514.0" cy="167.1" r="1.4" fill="#8a8a8a"/><circle cx="514.0" cy="180.1" r="1.4" fill="#8a8a8a"/><circle cx="514.0" cy="186.6" r="1.4" fill="#8a8a8a"/><circle cx="514.0" cy="193.1" r="1.4" fill="#8a8a8a"/><circle cx="520.8" cy="101.9" r="1.4" fill="#8a8a8a"/><circle cx="520.8" cy="108.4" r="1.4" fill="#8a8a8a"/><circle cx="520.8" cy="114.9" r="1.4" fill="#8a8a8a"/><circle cx="520.8" cy="121.4" r="1.4" fill="#8a8a8a"/><circle cx="520.8" cy="127.9" r="1.4" fill="#8a8a8a"/><circle cx="520.8" cy="134.5" r="1.4" fill="#8a8a8a"/><circle cx="520.8" cy="141.0" r="1.4" fill="#8a8a8a"/><circle cx="520.8" cy="147.5" r="1.4" fill="#8a8a8a"/><circle cx="520.8" cy="154.0" r="1.4" fill="#8a8a8a"/><circle cx="520.8" cy="160.5" r="1.4" fill="#8a8a8a"/><circle cx="520.8" cy="167.1" r="1.4" fill="#8a8a8a"/><circle cx="520.8" cy="180.1" r="1.4" fill="#8a8a8a"/><circle cx="520.8" cy="186.6" r="1.4" fill="#8a8a8a"/><circle cx="520.8" cy="193.1" r="1.4" fill="#8a8a8a"/><circle cx="527.6" cy="82.3" r="1.4" fill="#8a8a8a"/><circle cx="527.6" cy="108.4" r="1.4" fill="#8a8a8a"/><circle cx="527.6" cy="114.9" r="1.4" fill="#8a8a8a"/><circle cx="527.6" cy="121.4" r="1.4" fill="#8a8a8a"/><circle cx="527.6" cy="127.9" r="1.4" fill="#8a8a8a"/><circle cx="527.6" cy="134.5" r="1.4" fill="#8a8a8a"/><circle cx="527.6" cy="141.0" r="1.4" fill="#8a8a8a"/><circle cx="527.6" cy="147.5" r="1.4" fill="#8a8a8a"/><circle cx="527.6" cy="154.0" r="1.4" fill="#8a8a8a"/><circle cx="527.6" cy="160.5" r="1.4" fill="#8a8a8a"/><circle cx="527.6" cy="180.1" r="1.4" fill="#8a8a8a"/><circle cx="527.6" cy="186.6" r="1.4" fill="#8a8a8a"/><circle cx="527.6" cy="193.1" r="1.4" fill="#8a8a8a"/><circle cx="534.5" cy="101.9" r="1.4" fill="#8a8a8a"/><circle cx="534.5" cy="108.4" r="1.4" fill="#8a8a8a"/><circle cx="534.5" cy="114.9" r="1.4" fill="#8a8a8a"/><circle cx="534.5" cy="121.4" r="1.4" fill="#8a8a8a"/><circle cx="534.5" cy="127.9" r="1.4" fill="#8a8a8a"/><circle cx="534.5" cy="134.5" r="1.4" fill="#8a8a8a"/><circle cx="534.5" cy="141.0" r="1.4" fill="#8a8a8a"/><circle cx="534.5" cy="147.5" r="1.4" fill="#8a8a8a"/><circle cx="534.5" cy="154.0" r="1.4" fill="#8a8a8a"/><circle cx="534.5" cy="160.5" r="1.4" fill="#8a8a8a"/><circle cx="534.5" cy="180.1" r="1.4" fill="#8a8a8a"/><circle cx="534.5" cy="186.6" r="1.4" fill="#8a8a8a"/><circle cx="534.5" cy="193.1" r="1.4" fill="#8a8a8a"/><circle cx="534.5" cy="199.7" r="1.4" fill="#8a8a8a"/><circle cx="541.3" cy="62.7" r="1.4" fill="#8a8a8a"/><circle cx="541.3" cy="95.3" r="1.4" fill="#8a8a8a"/><circle cx="541.3" cy="101.9" r="1.4" fill="#8a8a8a"/><circle cx="541.3" cy="108.4" r="1.4" fill="#8a8a8a"/><circle cx="541.3" cy="114.9" r="1.4" fill="#8a8a8a"/><circle cx="541.3" cy="121.4" r="1.4" fill="#8a8a8a"/><circle cx="541.3" cy="127.9" r="1.4" fill="#8a8a8a"/><circle cx="541.3" cy="134.5" r="1.4" fill="#8a8a8a"/><circle cx="541.3" cy="141.0" r="1.4" fill="#8a8a8a"/><circle cx="541.3" cy="147.5" r="1.4" fill="#8a8a8a"/><circle cx="541.3" cy="154.0" r="1.4" fill="#8a8a8a"/><circle cx="541.3" cy="160.5" r="1.4" fill="#8a8a8a"/><circle cx="541.3" cy="180.1" r="1.4" fill="#8a8a8a"/><circle cx="541.3" cy="186.6" r="1.4" fill="#8a8a8a"/><circle cx="541.3" cy="193.1" r="1.4" fill="#8a8a8a"/><circle cx="548.1" cy="62.7" r="1.4" fill="#8a8a8a"/><circle cx="548.1" cy="95.3" r="1.4" fill="#8a8a8a"/><circle cx="548.1" cy="101.9" r="1.4" fill="#8a8a8a"/><circle cx="548.1" cy="108.4" r="1.4" fill="#8a8a8a"/><circle cx="548.1" cy="114.9" r="1.4" fill="#8a8a8a"/><circle cx="548.1" cy="121.4" r="1.4" fill="#8a8a8a"/><circle cx="548.1" cy="127.9" r="1.4" fill="#8a8a8a"/><circle cx="548.1" cy="134.5" r="1.4" fill="#8a8a8a"/><circle cx="548.1" cy="141.0" r="1.4" fill="#8a8a8a"/><circle cx="548.1" cy="147.5" r="1.4" fill="#8a8a8a"/><circle cx="548.1" cy="154.0" r="1.4" fill="#8a8a8a"/><circle cx="548.1" cy="160.5" r="1.4" fill="#8a8a8a"/><circle cx="548.1" cy="180.1" r="1.4" fill="#8a8a8a"/><circle cx="548.1" cy="186.6" r="1.4" fill="#8a8a8a"/><circle cx="548.1" cy="193.1" r="1.4" fill="#8a8a8a"/><circle cx="554.9" cy="82.3" r="1.4" fill="#8a8a8a"/><circle cx="554.9" cy="88.8" r="1.4" fill="#8a8a8a"/><circle cx="554.9" cy="95.3" r="1.4" fill="#8a8a8a"/><circle cx="554.9" cy="101.9" r="1.4" fill="#8a8a8a"/><circle cx="554.9" cy="108.4" r="1.4" fill="#8a8a8a"/><circle cx="554.9" cy="114.9" r="1.4" fill="#8a8a8a"/><circle cx="554.9" cy="121.4" r="1.4" fill="#8a8a8a"/><circle cx="554.9" cy="127.9" r="1.4" fill="#8a8a8a"/><circle cx="554.9" cy="134.5" r="1.4" fill="#8a8a8a"/><circle cx="554.9" cy="141.0" r="1.4" fill="#8a8a8a"/><circle cx="554.9" cy="147.5" r="1.4" fill="#8a8a8a"/><circle cx="554.9" cy="154.0" r="1.4" fill="#8a8a8a"/><circle cx="554.9" cy="160.5" r="1.4" fill="#8a8a8a"/><circle cx="554.9" cy="180.1" r="1.4" fill="#8a8a8a"/><circle cx="554.9" cy="186.6" r="1.4" fill="#8a8a8a"/><circle cx="554.9" cy="193.1" r="1.4" fill="#8a8a8a"/><circle cx="554.9" cy="199.7" r="1.4" fill="#8a8a8a"/><circle cx="561.8" cy="95.3" r="1.4" fill="#8a8a8a"/><circle cx="561.8" cy="127.9" r="1.4" fill="#8a8a8a"/><circle cx="561.8" cy="134.5" r="1.4" fill="#8a8a8a"/><circle cx="561.8" cy="141.0" r="1.4" fill="#8a8a8a"/><circle cx="561.8" cy="147.5" r="1.4" fill="#8a8a8a"/><circle cx="561.8" cy="154.0" r="1.4" fill="#8a8a8a"/><circle cx="561.8" cy="160.5" r="1.4" fill="#8a8a8a"/><circle cx="561.8" cy="180.1" r="1.4" fill="#8a8a8a"/><circle cx="561.8" cy="186.6" r="1.4" fill="#8a8a8a"/><circle cx="561.8" cy="193.1" r="1.4" fill="#8a8a8a"/><circle cx="561.8" cy="199.7" r="1.4" fill="#8a8a8a"/><circle cx="568.6" cy="95.3" r="1.4" fill="#8a8a8a"/><circle cx="568.6" cy="127.9" r="1.4" fill="#8a8a8a"/><circle cx="568.6" cy="134.5" r="1.4" fill="#8a8a8a"/><circle cx="568.6" cy="141.0" r="1.4" fill="#8a8a8a"/><circle cx="568.6" cy="147.5" r="1.4" fill="#8a8a8a"/><circle cx="568.6" cy="154.0" r="1.4" fill="#8a8a8a"/><circle cx="568.6" cy="160.5" r="1.4" fill="#8a8a8a"/><circle cx="568.6" cy="180.1" r="1.4" fill="#8a8a8a"/><circle cx="568.6" cy="186.6" r="1.4" fill="#8a8a8a"/><circle cx="568.6" cy="193.1" r="1.4" fill="#8a8a8a"/><circle cx="568.6" cy="199.7" r="1.4" fill="#8a8a8a"/><circle cx="575.4" cy="108.4" r="1.4" fill="#8a8a8a"/><circle cx="575.4" cy="114.9" r="1.4" fill="#8a8a8a"/><circle cx="575.4" cy="127.9" r="1.4" fill="#8a8a8a"/><circle cx="575.4" cy="134.5" r="1.4" fill="#8a8a8a"/><circle cx="575.4" cy="141.0" r="1.4" fill="#8a8a8a"/><circle cx="575.4" cy="180.1" r="1.4" fill="#8a8a8a"/><circle cx="575.4" cy="186.6" r="1.4" fill="#8a8a8a"/><circle cx="575.4" cy="193.1" r="1.4" fill="#8a8a8a"/><circle cx="575.4" cy="199.7" r="1.4" fill="#8a8a8a"/><circle cx="582.3" cy="95.3" r="1.4" fill="#8a8a8a"/><circle cx="582.3" cy="101.9" r="1.4" fill="#8a8a8a"/><circle cx="582.3" cy="108.4" r="1.4" fill="#8a8a8a"/><circle cx="582.3" cy="114.9" r="1.4" fill="#8a8a8a"/><circle cx="582.3" cy="127.9" r="1.4" fill="#8a8a8a"/><circle cx="582.3" cy="134.5" r="1.4" fill="#8a8a8a"/><circle cx="582.3" cy="141.0" r="1.4" fill="#8a8a8a"/><circle cx="582.3" cy="147.5" r="1.4" fill="#8a8a8a"/><circle cx="582.3" cy="154.0" r="1.4" fill="#8a8a8a"/><circle cx="582.3" cy="160.5" r="1.4" fill="#8a8a8a"/><circle cx="582.3" cy="180.1" r="1.4" fill="#8a8a8a"/><circle cx="582.3" cy="186.6" r="1.4" fill="#8a8a8a"/><circle cx="582.3" cy="193.1" r="1.4" fill="#8a8a8a"/><circle cx="582.3" cy="199.7" r="1.4" fill="#8a8a8a"/><circle cx="589.1" cy="95.3" r="1.4" fill="#8a8a8a"/><circle cx="589.1" cy="101.9" r="1.4" fill="#8a8a8a"/><circle cx="589.1" cy="108.4" r="1.4" fill="#8a8a8a"/><circle cx="589.1" cy="114.9" r="1.4" fill="#8a8a8a"/><circle cx="589.1" cy="127.9" r="1.4" fill="#8a8a8a"/><circle cx="589.1" cy="134.5" r="1.4" fill="#8a8a8a"/><circle cx="589.1" cy="141.0" r="1.4" fill="#8a8a8a"/><circle cx="589.1" cy="147.5" r="1.4" fill="#8a8a8a"/><circle cx="589.1" cy="154.0" r="1.4" fill="#8a8a8a"/><circle cx="589.1" cy="160.5" r="1.4" fill="#8a8a8a"/><circle cx="589.1" cy="180.1" r="1.4" fill="#8a8a8a"/><circle cx="589.1" cy="186.6" r="1.4" fill="#8a8a8a"/><circle cx="589.1" cy="193.1" r="1.4" fill="#8a8a8a"/><circle cx="589.1" cy="199.7" r="1.4" fill="#8a8a8a"/><circle cx="595.9" cy="141.0" r="1.4" fill="#8a8a8a"/><circle cx="595.9" cy="180.1" r="1.4" fill="#8a8a8a"/><circle cx="595.9" cy="186.6" r="1.4" fill="#8a8a8a"/><circle cx="595.9" cy="193.1" r="1.4" fill="#8a8a8a"/><circle cx="595.9" cy="199.7" r="1.4" fill="#8a8a8a"/><circle cx="602.8" cy="180.1" r="1.4" fill="#8a8a8a"/><circle cx="602.8" cy="186.6" r="1.4" fill="#8a8a8a"/><circle cx="602.8" cy="193.1" r="1.4" fill="#8a8a8a"/><circle cx="602.8" cy="199.7" r="1.4" fill="#8a8a8a"/><circle cx="609.6" cy="180.1" r="1.4" fill="#8a8a8a"/><circle cx="609.6" cy="186.6" r="1.4" fill="#8a8a8a"/><circle cx="609.6" cy="193.1" r="1.4" fill="#8a8a8a"/><circle cx="609.6" cy="199.7" r="1.4" fill="#8a8a8a"/><circle cx="616.4" cy="180.1" r="1.4" fill="#8a8a8a"/><circle cx="616.4" cy="186.6" r="1.4" fill="#8a8a8a"/><circle cx="616.4" cy="193.1" r="1.4" fill="#8a8a8a"/><circle cx="616.4" cy="199.7" r="1.4" fill="#8a8a8a"/><circle cx="623.2" cy="180.1" r="1.4" fill="#8a8a8a"/><circle cx="623.2" cy="186.6" r="1.4" fill="#8a8a8a"/><circle cx="623.2" cy="193.1" r="1.4" fill="#8a8a8a"/><circle cx="623.2" cy="199.7" r="1.4" fill="#8a8a8a"/><circle cx="630.1" cy="180.1" r="1.4" fill="#8a8a8a"/><circle cx="630.1" cy="186.6" r="1.4" fill="#8a8a8a"/><circle cx="630.1" cy="193.1" r="1.4" fill="#8a8a8a"/><circle cx="630.1" cy="199.7" r="1.4" fill="#8a8a8a"/><circle cx="636.9" cy="180.1" r="1.4" fill="#8a8a8a"/><circle cx="636.9" cy="186.6" r="1.4" fill="#8a8a8a"/><circle cx="636.9" cy="193.1" r="1.4" fill="#8a8a8a"/><circle cx="636.9" cy="199.7" r="1.4" fill="#8a8a8a"/><circle cx="636.9" cy="206.2" r="1.4" fill="#8a8a8a"/><circle cx="636.9" cy="212.7" r="1.4" fill="#8a8a8a"/><circle cx="643.7" cy="180.1" r="1.4" fill="#8a8a8a"/><circle cx="643.7" cy="186.6" r="1.4" fill="#8a8a8a"/><circle cx="643.7" cy="193.1" r="1.4" fill="#8a8a8a"/><circle cx="643.7" cy="199.7" r="1.4" fill="#8a8a8a"/><circle cx="650.6" cy="186.6" r="1.4" fill="#8a8a8a"/><circle cx="650.6" cy="193.1" r="1.4" fill="#8a8a8a"/><circle cx="650.6" cy="199.7" r="1.4" fill="#8a8a8a"/><circle cx="657.4" cy="121.4" r="1.4" fill="#8a8a8a"/><g fill="none" stroke="#000" stroke-width="1.1"><path d="M402 168.0 C412 162.0 430 166.0 434 182.0 C437 196.0 428 206.0 414 206.0"/><ellipse cx="417" cy="184.0" rx="3.5" ry="4.5"/><ellipse cx="417" cy="184.0" rx="9" ry="10"/><path d="M391 152.0 C405 148.0 420 156.0 440 154.0 M391 156.0 C410 154.0 425 160.0 445 160.0 M400 206.0 C410 216.0 425 218.0 440 206.0 C450 196.0 445 176.0 435 168.0"/></g><g stroke="#000" stroke-width="1.15" fill="none" stroke-linecap="round" stroke-linejoin="round"><path d="M426.0 56.8L426.0 68.8M424.0 64.8L426.0 68.8L428.0 64.8"/><path d="M437.7 57.3L442.3 68.3M438.9 65.4L442.3 68.3L442.6 63.9"/><path d="M409.7 70.9L414.3 82.0M410.9 79.1L414.3 82.0L414.6 77.6"/><path d="M423.7 70.9L428.3 82.0M424.9 79.1L428.3 82.0L428.6 77.6"/><path d="M435.8 72.2L444.2 80.7M440.0 79.3L444.2 80.7L442.8 76.5"/><path d="M395.7 84.6L400.3 95.7M396.9 92.8L400.3 95.7L400.6 91.2"/><path d="M409.7 84.6L414.3 95.7M410.9 92.8L414.3 95.7L414.6 91.2"/><path d="M421.8 85.9L430.2 94.4M426.0 93.0L430.2 94.4L428.8 90.1"/><path d="M435.8 85.9L444.2 94.4M440.0 93.0L444.2 94.4L442.8 90.1"/><path d="M505.8 85.9L514.2 94.4M510.0 93.0L514.2 94.4L512.8 90.1"/><path d="M519.8 85.9L528.2 94.4M524.0 93.0L528.2 94.4L526.8 90.1"/><path d="M395.7 98.3L400.3 109.4M396.9 106.4L400.3 109.4L400.6 104.9"/><path d="M407.8 99.6L416.2 108.1M412.0 106.6L416.2 108.1L414.8 103.8"/><path d="M423.7 98.3L428.3 109.4M424.9 106.4L428.3 109.4L428.6 104.9"/><path d="M437.7 98.3L442.3 109.4M438.9 106.4L442.3 109.4L442.6 104.9"/><path d="M451.7 98.3L456.3 109.4M452.9 106.4L456.3 109.4L456.6 104.9"/><path d="M488.0 103.8L476.0 103.8M480.0 101.8L476.0 103.8L480.0 105.8"/><path d="M505.8 99.6L514.2 108.1M510.0 106.6L514.2 108.1L512.8 103.8"/><path d="M519.8 99.6L528.2 108.1M524.0 106.6L528.2 108.1L526.8 103.8"/><path d="M544.0 103.8L532.0 103.8M536.0 101.8L532.0 103.8L536.0 105.8"/><path d="M557.5 106.1L546.5 101.5M550.9 101.2L546.5 101.5L549.4 104.9"/><path d="M561.8 99.6L570.2 108.1M566.0 106.6L570.2 108.1L568.8 103.8"/><path d="M577.7 98.3L582.3 109.4M578.9 106.4L582.3 109.4L582.6 104.9"/><path d="M398.0 111.5L398.0 123.5M396.0 119.5L398.0 123.5L400.0 119.5"/><path d="M409.7 111.9L414.3 123.0M410.9 120.1L414.3 123.0L414.6 118.6"/><path d="M423.7 111.9L428.3 123.0M424.9 120.1L428.3 123.0L428.6 118.6"/><path d="M437.7 111.9L442.3 123.0M438.9 120.1L442.3 123.0L442.6 118.6"/><path d="M454.0 111.5L454.0 123.5M452.0 119.5L454.0 123.5L456.0 119.5"/><path d="M474.0 117.5L462.0 117.5M466.0 115.5L462.0 117.5L466.0 119.5"/><path d="M488.0 117.5L476.0 117.5M480.0 115.5L476.0 117.5L480.0 119.5"/><path d="M501.5 115.2L490.5 119.8M493.4 116.4L490.5 119.8L494.9 120.1"/><path d="M507.7 123.0L512.3 111.9M512.6 116.4L512.3 111.9L508.9 114.9"/><path d="M521.7 123.0L526.3 111.9M526.6 116.4L526.3 111.9L522.9 114.9"/><path d="M543.5 115.2L532.5 119.8M535.4 116.4L532.5 119.8L536.9 120.1"/><path d="M557.5 119.8L546.5 115.2M550.9 114.9L546.5 115.2L549.4 118.6"/><path d="M563.7 111.9L568.3 123.0M564.9 120.1L568.3 123.0L568.6 118.6"/><path d="M580.0 111.5L580.0 123.5M578.0 119.5L580.0 123.5L582.0 119.5"/><path d="M392.0 131.1L404.0 131.1M400.0 133.1L404.0 131.1L400.0 129.1"/><path d="M423.7 125.6L428.3 136.7M424.9 133.8L428.3 136.7L428.6 132.2"/><path d="M440.0 125.1L440.0 137.1M438.0 133.1L440.0 137.1L442.0 133.1"/><path d="M454.0 125.1L454.0 137.1M452.0 133.1L454.0 137.1L456.0 133.1"/><path d="M488.0 131.1L476.0 131.1M480.0 129.1L476.0 131.1L480.0 133.1"/><path d="M491.8 135.4L500.2 126.9M498.8 131.2L500.2 126.9L496.0 128.3"/><path d="M505.8 135.4L514.2 126.9M512.8 131.2L514.2 126.9L510.0 128.3"/><path d="M521.7 136.7L526.3 125.6M526.6 130.1L526.3 125.6L522.9 128.5"/><path d="M533.8 135.4L542.2 126.9M540.8 131.2L542.2 126.9L538.0 128.3"/><path d="M549.7 136.7L554.3 125.6M554.6 130.1L554.3 125.6L550.9 128.5"/><path d="M563.7 136.7L568.3 125.6M568.6 130.1L568.3 125.6L564.9 128.5"/><path d="M580.0 137.1L580.0 125.1M582.0 129.1L580.0 125.1L578.0 129.1"/><path d="M392.0 144.8L404.0 144.8M400.0 146.8L404.0 144.8L400.0 142.8"/><path d="M406.0 144.8L418.0 144.8M414.0 146.8L418.0 144.8L414.0 142.8"/><path d="M420.5 147.1L431.5 142.5M428.6 145.9L431.5 142.5L427.1 142.2"/><path d="M472.2 149.1L463.8 140.6M468.0 142.0L463.8 140.6L465.2 144.8"/><path d="M477.8 149.1L486.2 140.6M484.8 144.8L486.2 140.6L482.0 142.0"/><path d="M491.8 149.1L500.2 140.6M498.8 144.8L500.2 140.6L496.0 142.0"/><path d="M507.7 150.4L512.3 139.3M512.6 143.7L512.3 139.3L508.9 142.2"/><path d="M521.7 150.4L526.3 139.3M526.6 143.7L526.3 139.3L522.9 142.2"/><path d="M535.7 150.4L540.3 139.3M540.6 143.7L540.3 139.3L536.9 142.2"/><path d="M549.7 150.4L554.3 139.3M554.6 143.7L554.3 139.3L550.9 142.2"/><path d="M561.8 149.1L570.2 140.6M568.8 144.8L570.2 140.6L566.0 142.0"/><path d="M575.8 149.1L584.2 140.6M582.8 144.8L584.2 140.6L580.0 142.0"/><path d="M392.0 158.5L404.0 158.5M400.0 160.5L404.0 158.5L400.0 156.5"/><path d="M406.5 160.8L417.5 156.2M414.6 159.6L417.5 156.2L413.1 155.9"/><path d="M440.0 152.5L440.0 164.5M438.0 160.5L440.0 164.5L442.0 160.5"/><path d="M454.0 152.5L454.0 164.5M452.0 160.5L454.0 164.5L456.0 160.5"/><path d="M463.8 162.7L472.2 154.2M470.8 158.5L472.2 154.2L468.0 155.7"/><path d="M477.8 162.7L486.2 154.2M484.8 158.5L486.2 154.2L482.0 155.7"/><path d="M491.8 162.7L500.2 154.2M498.8 158.5L500.2 154.2L496.0 155.7"/><path d="M507.7 164.0L512.3 152.9M512.6 157.4L512.3 152.9L508.9 155.9"/><path d="M524.0 164.5L524.0 152.5M526.0 156.5L524.0 152.5L522.0 156.5"/><path d="M535.7 164.0L540.3 152.9M540.6 157.4L540.3 152.9L536.9 155.9"/><path d="M547.8 162.7L556.2 154.2M554.8 158.5L556.2 154.2L552.0 155.7"/><path d="M561.8 162.7L570.2 154.2M568.8 158.5L570.2 154.2L566.0 155.7"/><path d="M575.8 162.7L584.2 154.2M582.8 158.5L584.2 154.2L580.0 155.7"/><path d="M398.0 178.2L398.0 166.2M400.0 170.2L398.0 166.2L396.0 170.2"/><path d="M426.0 166.2L426.0 178.2M424.0 174.2L426.0 178.2L428.0 174.2"/><path d="M440.0 166.2L440.0 178.2M438.0 174.2L440.0 178.2L442.0 174.2"/><path d="M451.7 166.6L456.3 177.7M452.9 174.8L456.3 177.7L456.6 173.2"/><path d="M462.5 174.5L473.5 169.9M470.6 173.2L473.5 169.9L469.1 169.5"/><path d="M477.8 176.4L486.2 167.9M484.8 172.2L486.2 167.9L482.0 169.3"/><path d="M491.8 176.4L500.2 167.9M498.8 172.2L500.2 167.9L496.0 169.3"/><path d="M510.0 178.2L510.0 166.2M512.0 170.2L510.0 166.2L508.0 170.2"/><path d="M524.0 178.2L524.0 166.2M526.0 170.2L524.0 166.2L522.0 170.2"/><path d="M538.0 178.2L538.0 166.2M540.0 170.2L538.0 166.2L536.0 170.2"/><path d="M547.8 176.4L556.2 167.9M554.8 172.2L556.2 167.9L552.0 169.3"/><path d="M572.0 172.2L560.0 172.2M564.0 170.2L560.0 172.2L564.0 174.2"/><path d="M586.0 172.2L574.0 172.2M578.0 170.2L574.0 172.2L578.0 174.2"/><path d="M600.0 172.2L588.0 172.2M592.0 170.2L588.0 172.2L592.0 174.2"/><path d="M430.2 190.1L421.8 181.6M426.0 183.0L421.8 181.6L423.2 185.8"/><path d="M444.2 181.6L435.8 190.1M437.2 185.8L435.8 190.1L440.0 188.7"/><path d="M454.0 179.8L454.0 191.8M452.0 187.8L454.0 191.8L456.0 187.8"/><path d="M473.5 183.5L462.5 188.1M465.4 184.7L462.5 188.1L466.9 188.4"/><path d="M488.0 185.8L476.0 185.8M480.0 183.8L476.0 185.8L480.0 187.8"/><path d="M501.5 183.5L490.5 188.1M493.4 184.7L490.5 188.1L494.9 188.4"/><path d="M516.0 185.8L504.0 185.8M508.0 183.8L504.0 185.8L508.0 187.8"/><path d="M530.0 185.8L518.0 185.8M522.0 183.8L518.0 185.8L522.0 187.8"/><path d="M544.0 185.8L532.0 185.8M536.0 183.8L532.0 185.8L536.0 187.8"/><path d="M558.0 185.8L546.0 185.8M550.0 183.8L546.0 185.8L550.0 187.8"/><path d="M572.0 185.8L560.0 185.8M564.0 183.8L560.0 185.8L564.0 187.8"/><path d="M586.0 185.8L574.0 185.8M578.0 183.8L574.0 185.8L578.0 187.8"/><path d="M600.0 185.8L588.0 185.8M592.0 183.8L588.0 185.8L592.0 187.8"/><path d="M614.0 185.8L602.0 185.8M606.0 183.8L602.0 185.8L606.0 187.8"/><path d="M617.8 181.6L626.2 190.1M622.0 188.7L626.2 190.1L624.8 185.8"/><path d="M402.2 203.7L393.8 195.3M398.0 196.7L393.8 195.3L395.2 199.5"/><path d="M407.8 203.7L416.2 195.3M414.8 199.5L416.2 195.3L412.0 196.7"/><path d="M430.2 195.3L421.8 203.7M423.2 199.5L421.8 203.7L426.0 202.3"/><path d="M440.0 193.5L440.0 205.5M438.0 201.5L440.0 205.5L442.0 201.5"/><path d="M454.0 193.5L454.0 205.5M452.0 201.5L454.0 205.5L456.0 201.5"/><path d="M488.0 199.5L476.0 199.5M480.0 197.5L476.0 199.5L480.0 201.5"/><path d="M502.0 199.5L490.0 199.5M494.0 197.5L490.0 199.5L494.0 201.5"/><path d="M516.0 199.5L504.0 199.5M508.0 197.5L504.0 199.5L508.0 201.5"/><path d="M530.0 199.5L518.0 199.5M522.0 197.5L518.0 199.5L522.0 201.5"/><path d="M544.0 199.5L532.0 199.5M536.0 197.5L532.0 199.5L536.0 201.5"/><path d="M558.0 199.5L546.0 199.5M550.0 197.5L546.0 199.5L550.0 201.5"/><path d="M572.0 199.5L560.0 199.5M564.0 197.5L560.0 199.5L564.0 201.5"/><path d="M586.0 199.5L574.0 199.5M578.0 197.5L574.0 199.5L578.0 201.5"/><path d="M599.5 197.2L588.5 201.8M591.4 198.4L588.5 201.8L592.9 202.1"/><path d="M613.5 197.2L602.5 201.8M605.4 198.4L602.5 201.8L606.9 202.1"/><path d="M627.5 197.2L616.5 201.8M619.4 198.4L616.5 201.8L620.9 202.1"/><path d="M398.0 219.2L398.0 207.2M400.0 211.2L398.0 207.2L396.0 211.2"/><path d="M407.8 217.4L416.2 208.9M414.8 213.2L416.2 208.9L412.0 210.3"/><path d="M432.0 213.2L420.0 213.2M424.0 211.2L420.0 213.2L424.0 215.2"/><path d="M446.0 213.2L434.0 213.2M438.0 211.2L434.0 213.2L438.0 215.2"/><path d="M544.0 213.2L532.0 213.2M536.0 211.2L532.0 213.2L536.0 215.2"/><path d="M558.0 213.2L546.0 213.2M550.0 211.2L546.0 213.2L550.0 215.2"/><path d="M572.0 213.2L560.0 213.2M564.0 211.2L560.0 213.2L564.0 215.2"/></g><path d="M541.5 167.0L542.5 156.0L542.6 155.0" stroke="#f42323" stroke-width="4.5" fill="none" stroke-linejoin="round"/><path d="M543.5 146.0L548.1 155.5L537.1 154.4Z" fill="#f42323"/><path d="M549.0 142.0L562.5 137.1" stroke="#f42323" stroke-width="4.5" fill="none" stroke-linejoin="round"/><path d="M571.0 134.0L564.4 142.2L560.7 131.9Z" fill="#f42323"/><path d="M578.6 133.0L591.0 133.0" stroke="#f42323" stroke-width="4.5" fill="none" stroke-linejoin="round"/><path d="M600.0 133.0L591.0 139.0L591.0 127.0Z" fill="#f42323"/><path d="M610.0 190.0L599.0 190.0" stroke="#f42323" stroke-width="4.5" fill="none" stroke-linejoin="round"/><path d="M590.0 190.0L599.0 184.0L599.0 196.0Z" fill="#f42323"/><path d="M582.5 191.0L573.0 190.0L572.8 190.0" stroke="#f42323" stroke-width="4.5" fill="none" stroke-linejoin="round"/><path d="M564.0 188.0L574.1 184.1L571.5 195.8Z" fill="#f42323"/><path d="M557.6 186.0L549.6 179.9" stroke="#f42323" stroke-width="4.5" fill="none" stroke-linejoin="round"/><path d="M542.5 174.4L553.3 175.1L546.0 184.6Z" fill="#f42323"/>
<rect x="496.0" y="88.8" width="122.5" height="82.0" fill="none" stroke="#000" stroke-width="1.8"/>
</g>
<rect x="55.0" y="56.0" width="280.0" height="164.0" fill="none" stroke="#000" stroke-width="1.6"/>
<line x1="48.7" y1="56.0" x2="55.0" y2="56.0" stroke="#000" stroke-width="1.5"/>
<line x1="335.0" y1="56.0" x2="341.3" y2="56.0" stroke="#000" stroke-width="1.5"/>
<text x="36.6" y="62.0" font-size="16.9" text-anchor="end" >150</text>
<line x1="48.7" y1="80.9" x2="55.0" y2="80.9" stroke="#000" stroke-width="1.5"/>
<line x1="335.0" y1="80.9" x2="341.3" y2="80.9" stroke="#000" stroke-width="1.5"/>
<text x="36.6" y="86.9" font-size="16.9" text-anchor="end" >200</text>
<line x1="48.7" y1="100.2" x2="55.0" y2="100.2" stroke="#000" stroke-width="1.5"/>
<line x1="335.0" y1="100.2" x2="341.3" y2="100.2" stroke="#000" stroke-width="1.5"/>
<text x="36.6" y="106.2" font-size="16.9" text-anchor="end" >250</text>
<line x1="48.7" y1="115.9" x2="55.0" y2="115.9" stroke="#000" stroke-width="1.5"/>
<line x1="335.0" y1="115.9" x2="341.3" y2="115.9" stroke="#000" stroke-width="1.5"/>
<text x="36.6" y="121.9" font-size="16.9" text-anchor="end" >300</text>
<line x1="48.7" y1="140.8" x2="55.0" y2="140.8" stroke="#000" stroke-width="1.5"/>
<line x1="335.0" y1="140.8" x2="341.3" y2="140.8" stroke="#000" stroke-width="1.5"/>
<text x="36.6" y="146.8" font-size="16.9" text-anchor="end" >400</text>
<line x1="48.7" y1="160.1" x2="55.0" y2="160.1" stroke="#000" stroke-width="1.5"/>
<line x1="335.0" y1="160.1" x2="341.3" y2="160.1" stroke="#000" stroke-width="1.5"/>
<text x="36.6" y="166.1" font-size="16.9" text-anchor="end" >500</text>
<line x1="48.7" y1="189.2" x2="55.0" y2="189.2" stroke="#000" stroke-width="1.5"/>
<line x1="335.0" y1="189.2" x2="341.3" y2="189.2" stroke="#000" stroke-width="1.5"/>
<text x="36.6" y="195.2" font-size="16.9" text-anchor="end" >700</text>
<line x1="48.7" y1="206.0" x2="55.0" y2="206.0" stroke="#000" stroke-width="1.5"/>
<line x1="335.0" y1="206.0" x2="341.3" y2="206.0" stroke="#000" stroke-width="1.5"/>
<text x="36.6" y="212.0" font-size="16.9" text-anchor="end" >850</text>
<line x1="48.7" y1="220.0" x2="55.0" y2="220.0" stroke="#000" stroke-width="1.5"/>
<line x1="335.0" y1="220.0" x2="341.3" y2="220.0" stroke="#000" stroke-width="1.5"/>
<text x="36.6" y="226.0" font-size="16.9" text-anchor="end" >1000</text>
<line x1="55.0" y1="56.0" x2="55.0" y2="49.7" stroke="#000" stroke-width="1.5"/>
<line x1="55.0" y1="220.0" x2="55.0" y2="226.3" stroke="#000" stroke-width="1.5"/>
<line x1="95.0" y1="56.0" x2="95.0" y2="52.8" stroke="#000" stroke-width="1.5"/>
<line x1="95.0" y1="220.0" x2="95.0" y2="223.2" stroke="#000" stroke-width="1.5"/>
<line x1="135.0" y1="56.0" x2="135.0" y2="49.7" stroke="#000" stroke-width="1.5"/>
<line x1="135.0" y1="220.0" x2="135.0" y2="226.3" stroke="#000" stroke-width="1.5"/>
<line x1="175.0" y1="56.0" x2="175.0" y2="52.8" stroke="#000" stroke-width="1.5"/>
<line x1="175.0" y1="220.0" x2="175.0" y2="223.2" stroke="#000" stroke-width="1.5"/>
<line x1="215.0" y1="56.0" x2="215.0" y2="49.7" stroke="#000" stroke-width="1.5"/>
<line x1="215.0" y1="220.0" x2="215.0" y2="226.3" stroke="#000" stroke-width="1.5"/>
<line x1="255.0" y1="56.0" x2="255.0" y2="52.8" stroke="#000" stroke-width="1.5"/>
<line x1="255.0" y1="220.0" x2="255.0" y2="223.2" stroke="#000" stroke-width="1.5"/>
<line x1="295.0" y1="56.0" x2="295.0" y2="49.7" stroke="#000" stroke-width="1.5"/>
<line x1="295.0" y1="220.0" x2="295.0" y2="226.3" stroke="#000" stroke-width="1.5"/>
<line x1="335.0" y1="56.0" x2="335.0" y2="52.8" stroke="#000" stroke-width="1.5"/>
<line x1="335.0" y1="220.0" x2="335.0" y2="223.2" stroke="#000" stroke-width="1.5"/>
<rect x="391.0" y="56.0" width="280.0" height="164.0" fill="none" stroke="#000" stroke-width="1.6"/>
<line x1="385.0" y1="56.0" x2="391.0" y2="56.0" stroke="#000" stroke-width="1.5"/>
<line x1="671.0" y1="56.0" x2="677.0" y2="56.0" stroke="#000" stroke-width="1.5"/>
<text x="380.9" y="62.0" font-size="16.9" text-anchor="end" >40N</text>
<line x1="387.8" y1="72.4" x2="391.0" y2="72.4" stroke="#000" stroke-width="1.5"/>
<line x1="671.0" y1="72.4" x2="674.2" y2="72.4" stroke="#000" stroke-width="1.5"/>
<line x1="387.8" y1="88.8" x2="391.0" y2="88.8" stroke="#000" stroke-width="1.5"/>
<line x1="671.0" y1="88.8" x2="674.2" y2="88.8" stroke="#000" stroke-width="1.5"/>
<line x1="387.8" y1="105.2" x2="391.0" y2="105.2" stroke="#000" stroke-width="1.5"/>
<line x1="671.0" y1="105.2" x2="674.2" y2="105.2" stroke="#000" stroke-width="1.5"/>
<line x1="385.0" y1="121.6" x2="391.0" y2="121.6" stroke="#000" stroke-width="1.5"/>
<line x1="671.0" y1="121.6" x2="677.0" y2="121.6" stroke="#000" stroke-width="1.5"/>
<text x="380.9" y="127.6" font-size="16.9" text-anchor="end" >20N</text>
<line x1="387.8" y1="138.0" x2="391.0" y2="138.0" stroke="#000" stroke-width="1.5"/>
<line x1="671.0" y1="138.0" x2="674.2" y2="138.0" stroke="#000" stroke-width="1.5"/>
<line x1="387.8" y1="154.4" x2="391.0" y2="154.4" stroke="#000" stroke-width="1.5"/>
<line x1="671.0" y1="154.4" x2="674.2" y2="154.4" stroke="#000" stroke-width="1.5"/>
<line x1="387.8" y1="170.8" x2="391.0" y2="170.8" stroke="#000" stroke-width="1.5"/>
<line x1="671.0" y1="170.8" x2="674.2" y2="170.8" stroke="#000" stroke-width="1.5"/>
<line x1="385.0" y1="187.2" x2="391.0" y2="187.2" stroke="#000" stroke-width="1.5"/>
<line x1="671.0" y1="187.2" x2="677.0" y2="187.2" stroke="#000" stroke-width="1.5"/>
<text x="380.9" y="193.2" font-size="16.9" text-anchor="end" >0</text>
<line x1="387.8" y1="203.6" x2="391.0" y2="203.6" stroke="#000" stroke-width="1.5"/>
<line x1="671.0" y1="203.6" x2="674.2" y2="203.6" stroke="#000" stroke-width="1.5"/>
<line x1="387.8" y1="220.0" x2="391.0" y2="220.0" stroke="#000" stroke-width="1.5"/>
<line x1="671.0" y1="220.0" x2="674.2" y2="220.0" stroke="#000" stroke-width="1.5"/>
<line x1="391.0" y1="56.0" x2="391.0" y2="50.0" stroke="#000" stroke-width="1.5"/>
<line x1="391.0" y1="220.0" x2="391.0" y2="226.0" stroke="#000" stroke-width="1.5"/>
<line x1="426.0" y1="56.0" x2="426.0" y2="52.8" stroke="#000" stroke-width="1.5"/>
<line x1="426.0" y1="220.0" x2="426.0" y2="223.2" stroke="#000" stroke-width="1.5"/>
<line x1="461.0" y1="56.0" x2="461.0" y2="52.8" stroke="#000" stroke-width="1.5"/>
<line x1="461.0" y1="220.0" x2="461.0" y2="223.2" stroke="#000" stroke-width="1.5"/>
<line x1="496.0" y1="56.0" x2="496.0" y2="50.0" stroke="#000" stroke-width="1.5"/>
<line x1="496.0" y1="220.0" x2="496.0" y2="226.0" stroke="#000" stroke-width="1.5"/>
<line x1="531.0" y1="56.0" x2="531.0" y2="52.8" stroke="#000" stroke-width="1.5"/>
<line x1="531.0" y1="220.0" x2="531.0" y2="223.2" stroke="#000" stroke-width="1.5"/>
<line x1="566.0" y1="56.0" x2="566.0" y2="52.8" stroke="#000" stroke-width="1.5"/>
<line x1="566.0" y1="220.0" x2="566.0" y2="223.2" stroke="#000" stroke-width="1.5"/>
<line x1="601.0" y1="56.0" x2="601.0" y2="50.0" stroke="#000" stroke-width="1.5"/>
<line x1="601.0" y1="220.0" x2="601.0" y2="226.0" stroke="#000" stroke-width="1.5"/>
<line x1="636.0" y1="56.0" x2="636.0" y2="52.8" stroke="#000" stroke-width="1.5"/>
<line x1="636.0" y1="220.0" x2="636.0" y2="223.2" stroke="#000" stroke-width="1.5"/>
<line x1="671.0" y1="56.0" x2="671.0" y2="52.8" stroke="#000" stroke-width="1.5"/>
<line x1="671.0" y1="220.0" x2="671.0" y2="223.2" stroke="#000" stroke-width="1.5"/>
<text x="51.5" y="48.1" font-size="19.3" text-anchor="start" >a MT25-PI</text>
<text x="389.7" y="48.1" font-size="19.3" text-anchor="start" >b MT25-PI</text>
<g>
<rect x="55.0" y="252.6" width="280.0" height="164.0" fill="#ffffea"/>
<path fill-rule="evenodd" fill="#eaffff" d="M55.0 373.8L55.0 416.6L71.2 416.6L72.8 413.1L74.2 409.1L74.5 405.4L74.8 405.1L74.8 393.8L74.5 393.4L74.2 388.4L72.8 383.4L71.2 381.1L63.5 377.4L60.2 374.8L58.2 373.8ZM335.0 252.6L225.2 252.6L225.2 269.8L225.5 270.1L225.5 273.8L225.8 274.1L225.5 274.4L225.5 276.8L224.8 278.4L222.5 281.1L218.8 283.4L215.8 286.4L214.2 289.1L211.5 291.8L207.5 294.4L204.2 299.1L201.5 301.8L197.8 304.1L196.5 305.4L192.2 312.4L190.8 313.4L188.8 314.1L185.8 314.1L180.8 312.8L172.8 312.4L172.5 312.8L168.5 312.8L161.5 314.1L159.5 314.1L154.8 315.4L152.5 315.4L150.8 314.8L148.8 312.8L147.2 309.8L138.8 301.8L137.2 301.1L134.2 301.4L130.5 302.8L123.2 303.4L122.8 303.8L119.2 303.8L113.2 302.4L109.5 302.8L107.5 303.8L105.8 305.4L105.2 307.1L105.2 310.1L106.5 313.4L106.5 315.1L106.8 315.4L106.2 317.4L104.2 319.4L101.2 321.1L99.2 322.8L96.2 324.1L94.8 325.4L94.8 326.8L95.8 328.4L99.2 331.8L104.5 335.8L106.8 338.1L107.2 341.1L105.8 342.1L104.8 341.8L101.8 342.1L99.2 344.4L97.8 346.8L97.2 349.1L97.2 355.8L96.5 357.1L93.8 359.8L89.5 363.1L87.2 363.1L84.2 361.8L81.5 361.8L79.5 363.4L78.2 365.8L76.5 372.1L76.5 377.4L78.5 379.8L82.2 382.1L84.2 384.1L85.5 386.1L86.8 389.4L87.5 397.1L87.8 397.4L88.2 408.8L88.5 409.1L89.2 416.6L195.2 416.6L196.2 410.1L199.5 401.1L201.8 399.1L204.8 399.1L206.8 399.8L212.2 402.8L216.2 409.1L218.5 411.4L222.5 414.1L223.8 415.4L224.2 416.6L304.5 416.6L304.2 410.8L303.8 410.4L304.5 405.4L305.5 403.4L306.8 402.1L308.8 401.4L310.5 401.4L312.8 402.4L314.2 404.1L317.2 409.8L319.8 412.4L321.8 413.4L324.2 415.8L324.2 416.6L335.0 416.6Z"/>
<path fill-rule="evenodd" fill="#99eaff" d="M55.0 379.8L55.0 416.6L70.2 416.6L70.2 415.8L72.5 411.8L73.5 408.8L73.8 404.1L74.2 403.8L73.8 396.4L72.5 389.8L71.5 387.8L69.2 385.4L62.8 382.4L59.8 380.4ZM324.8 252.6L305.2 252.6L305.2 262.8L304.8 263.1L304.8 265.1L305.2 265.4L305.2 268.4L306.5 274.4L306.5 277.4L305.5 281.4L303.8 283.1L301.2 283.4L298.5 281.1L295.2 273.8L293.8 272.1L290.5 270.4L286.2 270.4L280.8 272.1L278.5 273.8L276.5 276.4L275.8 278.1L276.2 287.8L275.2 289.8L273.5 291.4L269.2 293.1L262.8 293.1L262.5 292.8L257.8 292.8L257.5 292.4L253.8 292.4L253.5 292.1L253.2 292.4L250.8 292.4L248.2 293.8L244.2 299.1L241.5 301.8L237.5 304.4L235.5 306.8L234.8 308.4L234.8 311.4L235.5 313.8L235.5 316.8L234.8 318.4L232.8 320.4L228.2 323.1L225.5 326.4L224.8 328.8L225.2 331.1L226.2 331.8L230.5 332.4L233.5 333.8L235.2 335.4L235.8 336.8L235.8 339.1L235.2 340.8L233.2 342.8L231.5 343.4L228.2 343.1L225.2 340.4L224.2 338.1L223.5 334.4L222.5 333.1L221.5 332.8L209.2 332.8L204.5 334.4L201.2 334.4L197.5 331.1L195.2 327.8L191.5 323.8L188.5 322.1L184.2 322.1L181.5 322.8L178.5 322.8L174.8 323.8L172.2 323.8L167.5 321.4L162.2 320.1L154.5 320.1L154.2 320.4L149.8 320.1L144.8 317.8L138.8 311.8L137.8 311.4L134.8 311.4L130.8 312.8L122.2 312.1L120.5 312.4L117.5 314.1L105.5 326.8L105.5 328.4L110.8 334.1L112.8 338.8L113.2 346.8L112.2 350.1L110.8 352.8L107.5 356.1L104.8 357.8L102.5 360.1L99.8 364.1L95.2 368.4L88.5 372.8L85.8 372.8L84.5 372.1L83.2 372.1L82.2 373.4L82.8 375.4L86.2 378.8L88.5 385.8L88.8 390.8L89.2 391.1L89.2 405.8L89.5 406.1L89.8 411.1L91.2 416.6L175.5 416.6L175.5 415.4L176.5 413.8L177.8 412.4L180.2 411.4L182.2 411.4L185.8 412.8L188.8 412.4L190.8 410.4L193.2 406.8L196.2 398.8L199.5 395.4L202.5 394.1L208.8 393.8L212.2 392.8L217.5 393.1L220.2 392.4L222.5 390.4L225.5 385.1L227.2 383.4L229.2 382.4L230.8 382.4L232.8 383.4L234.2 384.8L237.2 389.8L243.8 395.8L248.2 401.1L251.5 403.4L254.5 406.4L256.5 409.8L258.5 411.8L260.8 412.8L264.2 412.8L269.5 411.4L278.2 412.1L281.5 410.8L293.5 398.8L294.2 396.8L294.2 394.8L293.2 390.1L293.5 386.4L294.5 384.4L295.5 383.4L297.8 382.4L300.5 382.4L301.8 383.1L303.8 385.1L306.8 391.1L308.8 393.1L311.2 393.1L312.2 392.4L315.5 386.1L318.2 383.1L319.5 382.4L321.2 382.4L322.8 383.1L324.2 384.1L325.8 387.1L325.8 392.1L325.2 394.1L325.2 398.1L326.2 400.4L327.2 401.4L329.5 402.4L335.0 402.8L335.0 273.1L331.2 273.1L327.5 271.8L325.8 270.1L324.5 266.8Z"/>
<path fill-rule="evenodd" fill="#75d3ff" d="M55.0 385.8L55.0 416.6L68.8 416.6L72.2 410.4L73.2 406.8L73.2 399.8L71.5 391.8L70.5 389.8L69.2 388.4L67.2 387.4L60.5 386.4L58.8 385.8ZM115.8 325.1L114.2 327.8L114.2 329.4L116.5 334.4L117.5 338.8L117.5 354.4L116.8 356.1L111.2 360.8L109.2 364.4L106.8 366.8L102.2 369.4L100.5 371.1L97.8 375.1L93.2 380.1L92.8 381.4L92.8 387.8L92.2 390.1L91.8 398.4L91.5 398.8L91.5 402.4L91.2 402.8L91.5 407.4L92.2 409.1L93.2 410.1L93.8 410.1L94.8 408.8L95.8 405.4L96.8 403.4L98.2 402.1L99.2 402.1L100.8 403.1L107.8 410.4L110.5 411.8L114.5 411.8L119.5 410.4L130.8 410.4L131.2 410.8L140.5 411.4L143.2 412.1L148.5 412.1L150.8 411.1L154.5 407.8L158.8 405.1L171.2 401.1L174.5 401.4L177.2 402.8L180.5 403.4L185.2 405.4L187.5 405.4L188.8 404.8L190.2 403.1L191.8 398.8L194.5 394.1L196.2 392.4L203.8 388.4L205.8 386.1L205.8 383.1L204.8 380.4L204.8 377.4L205.5 376.1L207.8 373.8L212.2 371.1L214.2 369.1L215.5 365.8L215.5 359.4L213.8 355.8L208.2 351.4L204.8 347.8L202.5 344.1L200.5 342.1L194.8 337.8L191.8 333.8L189.5 331.4L188.2 330.8L184.8 330.8L181.5 331.8L178.8 331.8L176.2 332.4L171.5 332.4L169.2 331.4L163.8 326.8L160.2 324.8L158.5 324.4L148.5 324.8L142.5 323.1L137.8 321.1L135.2 321.1L132.5 321.8L128.2 321.8L124.8 320.8L122.2 320.8L119.5 322.1ZM187.5 352.1L188.5 351.8L191.5 352.1L192.8 352.8L194.8 354.8L195.8 357.1L195.5 360.1L192.5 363.1L191.2 363.4L187.8 363.1L186.5 362.4L184.5 359.8L184.2 358.8L184.5 355.4L185.2 354.1ZM319.2 282.8L317.8 283.1L315.8 284.4L314.8 286.1L314.2 288.8L314.2 294.4L314.5 294.8L314.2 326.8L315.5 330.1L316.8 331.4L319.2 332.4L320.8 332.4L323.2 331.4L324.5 330.1L325.8 326.8L325.8 320.4L325.5 320.1L325.8 288.4L324.5 284.8L323.2 283.4L321.5 282.8ZM288.8 274.8L286.5 275.1L285.2 275.8L283.2 277.8L282.5 279.1L282.5 283.1L283.8 288.1L284.2 295.1L284.5 295.4L284.5 330.1L284.8 330.4L284.8 336.8L283.2 340.1L281.5 341.8L277.8 344.1L275.8 346.1L274.8 348.4L274.8 351.1L275.5 353.4L275.2 357.8L272.5 361.1L267.8 364.1L265.8 366.1L264.8 368.4L264.8 370.8L264.5 371.1L264.8 371.4L264.8 375.1L265.2 375.4L264.8 396.4L265.8 400.4L267.5 402.4L268.8 403.1L275.8 404.8L278.2 404.4L280.8 402.8L285.2 398.4L286.8 395.8L286.8 392.1L285.5 386.4L284.2 369.8L284.8 367.4L286.2 365.4L288.8 363.1L292.2 361.1L294.2 359.1L295.2 356.8L294.8 345.4L295.2 345.1L295.2 341.1L295.5 340.8L295.5 295.8L296.2 292.8L296.2 289.4L294.8 285.8L293.5 278.8L292.8 277.4L290.8 275.4Z"/>
<path fill-rule="evenodd" fill="#3d87ff" d="M55.0 388.8L55.0 416.6L67.2 416.6L67.5 415.4L70.5 411.8L71.5 409.8L72.5 406.1L72.2 399.4L70.5 393.4L69.5 391.8L66.8 389.8ZM103.8 379.8L103.8 382.4L105.2 386.4L105.2 388.8L103.8 392.4L103.8 395.4L108.8 402.1L111.2 404.4L112.8 405.1L121.2 405.1L121.5 405.4L132.2 405.1L137.5 403.8L140.8 402.1L142.8 402.1L146.5 403.8L149.2 403.8L153.8 401.8L159.5 400.4L165.2 397.4L173.5 390.4L175.5 385.8L175.5 379.4L174.5 376.8L172.5 374.4L168.5 371.8L165.8 369.1L161.8 363.8L159.2 362.4L155.8 362.4L153.2 363.1L149.8 362.8L146.8 360.8L143.5 355.4L141.5 353.4L138.2 352.1L131.8 352.1L126.8 354.1L124.2 357.4L122.2 361.4L118.8 364.8L113.8 367.8L110.2 371.4L109.5 372.8L105.8 376.8Z"/>
<path fill-rule="evenodd" fill="#2857ff" d="M55.0 391.8L55.0 416.6L64.8 416.6L65.5 415.1L69.5 411.4L71.5 407.1L71.5 401.1L70.2 396.4L68.5 393.8L66.2 392.4L60.8 392.4L58.5 391.8ZM121.5 371.1L118.2 373.1L115.8 375.4L113.5 378.8L113.2 382.1L114.2 385.8L114.2 389.1L112.8 393.8L113.2 396.1L116.2 399.1L119.8 400.4L123.2 401.1L126.8 401.1L130.2 400.4L133.8 398.4L143.2 390.8L144.8 387.8L145.5 385.4L145.5 379.8L143.5 374.8L142.5 373.8L138.8 372.4L129.2 372.8L124.2 371.1Z"/>
<path fill-rule="evenodd" fill="#2400d8" d="M55.0 395.1L55.0 416.6L61.5 416.6L62.2 414.4L63.2 413.4L67.2 411.8L69.5 409.4L70.8 405.4L70.2 400.1L68.8 397.4L66.2 395.4L59.8 395.8L59.5 395.4Z"/>
<path fill-rule="evenodd" fill="#ffd699" d="M78.5 386.1L77.5 386.8L76.5 389.4L75.8 405.8L74.8 410.8L72.8 415.4L72.8 416.6L87.5 416.6L86.8 405.4L86.5 405.1L86.5 400.1L86.2 399.8L86.2 397.8L84.8 391.1L83.8 388.8L82.5 387.1L80.8 386.1ZM203.8 265.4L202.2 263.8L198.8 262.4L191.2 263.1L187.8 261.8L185.8 259.8L184.8 257.8L184.5 252.6L136.2 252.6L136.2 256.8L134.8 260.4L133.2 262.1L131.5 262.8L128.2 262.4L126.8 261.8L125.2 260.1L123.8 256.8L123.8 252.6L85.5 252.6L85.8 253.8L85.5 256.8L84.2 259.4L82.5 261.1L78.5 263.8L71.5 271.8L67.5 274.4L66.2 275.8L64.8 278.4L64.8 280.8L64.5 281.1L64.8 281.4L64.8 285.1L65.2 285.4L65.2 329.8L64.8 330.1L64.8 334.1L64.5 334.4L64.5 358.4L63.5 362.1L63.5 366.4L66.2 372.8L68.5 374.4L69.8 374.4L71.8 371.8L73.5 366.4L73.8 363.8L75.8 356.8L75.8 353.4L75.5 353.1L75.5 351.4L74.8 349.1L74.8 345.8L74.5 345.4L74.5 338.4L75.8 335.4L77.8 333.4L81.2 332.1L83.5 332.4L84.5 333.4L85.2 335.4L85.2 339.8L84.5 342.8L84.5 347.8L85.2 350.8L86.2 352.8L87.5 353.8L89.2 353.8L91.2 352.1L96.2 339.8L95.8 336.4L93.8 334.8L88.2 331.8L86.2 329.4L85.5 326.8L84.2 310.4L84.5 310.1L84.5 308.4L85.5 306.1L87.8 303.8L93.2 300.4L94.2 299.1L95.2 296.4L94.5 288.8L95.8 285.4L97.8 283.4L100.8 282.1L112.2 282.4L112.5 282.1L116.2 282.1L116.5 281.8L116.8 282.1L120.2 282.4L123.5 284.8L126.8 291.1L128.5 292.8L129.8 293.4L133.2 293.4L137.5 292.1L140.2 292.4L145.5 297.8L147.8 301.1L150.5 303.8L152.2 304.4L154.8 304.4L158.5 303.4L178.8 303.8L182.2 302.4L185.5 296.4L188.5 293.4L192.5 290.8L195.8 286.1L198.8 283.1L202.5 281.1L204.2 279.4L205.5 275.1L205.5 270.1L204.8 267.4Z"/>
<path fill-rule="evenodd" fill="#ffac75" d="M79.8 390.1L78.8 391.1L77.2 398.1L77.2 400.1L76.8 400.4L76.5 406.8L75.5 411.4L73.8 416.6L86.2 416.6L86.2 410.1L85.8 409.8L85.2 399.4L83.8 395.8L83.8 394.8L82.2 391.1L81.2 390.1ZM138.2 272.1L136.5 272.8L134.8 275.1L134.5 281.4L135.8 283.4L138.8 284.1L141.5 283.8L143.5 282.8L144.8 281.1L145.5 279.1L145.5 276.4L144.2 273.8L142.8 272.8L140.8 272.1Z"/>
<path fill-rule="evenodd" fill="#ff3d3d" d="M81.2 395.8L80.2 395.8L79.5 396.4L78.2 399.4L77.2 407.8L75.8 413.8L75.2 415.1L75.2 416.6L85.2 416.6L85.2 410.4L84.8 410.1L84.8 406.1L84.5 405.8L84.2 401.1L82.8 397.4Z"/>
<path fill-rule="evenodd" fill="#f72735" d="M80.8 399.4L79.8 400.1L79.2 401.4L76.5 416.6L83.8 416.6L83.5 404.8L82.5 401.1Z"/>
<path fill-rule="evenodd" fill="#a50021" d="M81.2 404.4L80.2 405.1L79.5 406.4L78.5 411.4L78.2 416.6L81.8 416.6L82.2 415.8L82.5 408.1L81.8 405.4Z"/>
<rect x="391.0" y="252.6" width="280.0" height="164.0" fill="#ffffea"/>
<path fill-rule="evenodd" fill="#eaffff" d="M671.0 352.4L669.8 352.1L666.8 352.4L664.5 353.4L662.5 355.4L659.8 359.8L657.5 362.1L655.2 363.1L644.2 362.8L638.8 361.8L636.5 362.4L632.8 364.4L628.5 365.4L594.2 365.4L593.8 365.8L576.8 366.1L576.5 365.8L573.5 365.8L571.2 365.1L566.5 365.1L559.8 368.4L555.8 369.8L549.2 369.8L548.8 369.4L545.2 369.4L544.8 369.1L536.5 369.1L536.2 368.8L527.2 368.4L526.8 368.8L523.2 369.1L515.2 371.4L504.2 371.4L503.8 371.1L501.2 371.1L495.2 369.8L491.5 369.8L488.2 370.4L474.8 370.4L474.5 370.8L471.8 370.8L468.8 371.4L465.8 372.8L463.8 374.8L460.5 380.1L457.2 382.4L453.5 383.4L450.8 383.4L450.5 383.1L444.8 382.8L440.8 381.8L436.8 381.8L434.2 382.8L432.2 384.4L431.2 386.8L431.2 388.1L432.5 390.8L438.5 394.8L444.2 401.1L447.5 403.4L450.2 406.1L454.2 411.4L456.8 412.8L459.2 412.8L459.5 413.1L459.8 412.8L463.5 412.8L463.8 412.4L498.2 412.4L498.5 412.8L502.2 412.8L502.5 413.1L502.8 412.8L505.2 412.8L507.5 411.8L509.5 409.8L511.5 406.4L511.8 403.8L512.5 402.1L514.5 400.8L520.2 400.4L524.5 401.4L528.2 401.4L528.5 401.8L537.2 401.4L539.8 402.1L544.5 402.1L546.8 401.1L551.8 396.8L555.5 394.8L558.2 394.1L563.5 394.1L568.2 395.4L577.5 402.4L579.5 404.4L582.2 409.1L584.8 411.8L587.8 413.4L590.2 415.8L590.2 416.6L671.0 416.6ZM547.2 315.1L547.2 316.1L548.5 317.8L552.8 319.4L557.8 319.1L559.5 317.8L560.2 316.4L560.2 315.8L559.2 314.4L556.2 313.4L553.8 313.4L553.5 313.1L549.5 313.4L547.5 314.4ZM580.8 294.4L580.5 295.4L580.8 297.1L582.2 298.4L584.5 299.4L588.2 299.4L589.8 298.8L590.8 297.4L590.5 294.4L589.5 293.1L587.8 292.1L584.8 291.8L582.8 292.4ZM558.2 291.8L558.2 293.8L559.5 297.4L561.5 300.4L563.8 302.8L565.5 303.8L568.5 303.4L570.2 301.4L570.8 298.4L570.8 295.8L570.2 294.1L568.2 292.1L565.8 291.1L560.2 290.8ZM581.8 252.6L581.8 265.4L581.2 267.8L578.5 270.8L574.2 272.8L573.2 273.8L572.8 274.8L572.8 277.4L573.5 280.1L574.2 281.4L576.5 283.4L580.5 283.4L584.8 281.8L590.8 281.4L594.2 282.1L597.5 284.1L600.5 286.8L602.2 289.4L601.8 297.8L602.8 300.8L604.5 302.4L607.5 304.4L610.8 307.4L616.5 310.4L623.5 312.1L626.8 313.8L630.5 313.8L632.5 313.1L635.2 313.1L638.2 314.4L640.2 316.1L641.8 318.8L643.5 328.1L645.2 331.4L646.8 333.1L648.2 333.8L651.2 333.8L655.2 332.4L658.2 332.4L658.5 332.1L661.5 332.1L661.8 331.8L664.8 331.8L665.2 331.4L671.0 331.4L671.0 293.1L669.8 293.4L666.8 293.1L664.2 291.8L662.5 290.1L659.8 286.1L657.5 283.8L654.2 281.4L647.5 273.8L644.5 271.8L642.8 270.1L641.5 267.8L640.8 265.1L640.8 252.6ZM624.8 261.8L626.8 261.8L628.8 262.8L630.5 264.8L631.2 266.8L631.2 269.1L630.5 270.8L629.5 272.1L626.8 273.4L624.2 273.4L622.5 272.8L620.8 271.1L620.2 269.4L620.2 266.8L620.8 264.8L622.2 263.1ZM597.8 261.8L600.2 262.8L601.5 264.1L602.2 265.8L601.8 267.8L600.2 270.1L598.2 271.8L596.2 272.8L594.2 272.8L592.5 271.8L591.2 269.8L590.8 268.8L591.2 265.8L591.8 264.4L593.8 262.4L595.5 261.8ZM557.8 252.6L557.8 256.4L560.2 263.4L561.8 266.4L566.2 270.1L567.5 270.8L570.2 271.1L571.2 270.1L571.2 268.4L571.5 268.1L571.5 263.8L571.2 263.4L571.2 259.8L570.8 259.4L570.8 252.6ZM537.2 252.6L525.2 252.6L525.2 254.8L523.5 256.4L521.2 257.4L517.8 260.1L515.8 263.8L514.5 267.4L510.2 272.4L509.5 274.1L509.2 277.1L509.8 279.4L511.2 281.1L519.5 284.4L525.2 286.1L530.5 286.1L532.2 285.4L533.5 284.1L534.5 277.8L537.5 266.1ZM501.5 252.6L480.8 252.6L480.8 256.1L479.2 259.4L474.5 264.1L469.2 266.8L467.5 268.8L466.2 271.4L464.2 273.8L461.2 275.4L458.2 276.1L455.5 276.1L455.2 276.4L447.2 276.4L446.8 276.1L444.5 276.1L441.5 275.4L438.8 274.1L435.2 270.4L433.8 269.8L432.5 269.8L427.8 272.8L425.8 272.8L424.5 272.1L422.5 270.1L419.8 266.1L417.5 263.8L414.2 261.4L411.5 258.8L410.2 255.4L410.2 252.6L391.0 252.6L391.0 262.1L392.2 261.8L395.2 262.1L398.2 263.8L401.2 267.8L403.5 270.1L407.2 272.4L409.8 274.8L411.2 277.4L410.5 279.8L409.2 281.1L403.8 283.8L401.8 285.4L401.2 287.1L401.5 289.4L403.2 291.4L410.2 295.1L413.5 298.1L414.5 300.1L414.8 302.4L415.8 305.1L421.5 312.8L422.8 315.8L422.8 317.1L421.8 319.4L418.2 324.8L415.8 327.1L413.8 327.8L411.8 327.8L410.2 327.1L408.5 325.4L406.8 322.8L404.5 320.4L402.8 320.1L401.8 320.8L400.8 322.8L400.8 326.8L402.2 328.4L405.5 329.8L407.5 331.8L408.5 335.4L408.5 338.1L407.5 343.4L405.8 345.8L403.5 346.1L402.2 345.4L399.8 343.1L397.2 335.8L395.5 333.4L391.0 333.1L391.0 392.8L392.2 393.1L395.2 392.8L397.8 391.4L400.2 388.8L401.8 385.8L404.2 383.4L408.2 381.1L409.8 379.4L410.8 377.4L412.8 375.4L416.2 374.1L422.2 373.1L424.2 372.1L428.8 368.4L433.2 366.8L439.8 363.4L441.5 361.8L442.5 359.8L443.5 355.8L445.5 353.8L450.5 351.8L451.5 350.8L453.8 345.8L458.2 341.4L458.8 340.1L459.2 336.8L457.8 335.1L455.5 334.8L452.5 335.8L451.2 337.1L448.5 341.8L440.8 350.8L436.8 352.8L431.8 353.8L426.8 354.1L423.5 355.4L422.5 356.8L421.8 358.8L421.2 362.8L420.5 364.1L418.8 365.8L416.8 366.4L410.2 366.4L409.2 365.4L408.5 363.8L408.5 357.1L409.2 354.8L411.2 352.4L415.5 351.1L417.5 350.1L418.5 349.1L420.2 345.1L421.5 339.4L422.8 336.8L429.5 330.8L430.8 328.1L431.5 325.1L431.5 318.4L435.5 312.8L437.5 306.8L438.2 305.8L438.8 302.8L438.8 297.1L438.2 295.8L430.2 286.4L430.5 284.8L431.5 283.8L434.8 282.4L437.8 282.4L446.2 284.4L456.2 284.4L456.5 284.1L460.2 284.1L460.5 283.8L462.8 283.8L467.5 282.8L471.2 282.8L471.5 282.4L479.2 282.4L479.5 282.8L485.2 282.8L488.2 281.4L489.8 279.8L490.8 277.8L491.2 274.8L490.5 272.1L490.5 268.4L491.2 266.8L493.5 264.1L497.2 261.8L499.8 259.4L501.2 256.8Z"/>
<path fill-rule="evenodd" fill="#99eaff" d="M654.2 398.1L653.5 393.4L652.8 392.1L650.2 390.1L647.5 389.4L643.5 389.4L637.8 390.8L635.5 390.8L633.2 389.8L631.5 388.4L630.5 386.4L630.8 385.4L632.8 383.4L635.8 382.1L639.5 379.8L640.8 377.8L640.5 374.4L638.5 372.1L635.8 371.1L633.8 371.1L633.5 370.8L604.8 370.8L600.2 371.8L596.8 371.8L593.2 370.4L589.5 370.1L589.2 369.8L585.8 369.8L585.5 369.4L570.8 369.4L570.5 369.8L567.2 370.1L561.8 373.8L558.8 374.4L555.8 374.4L555.5 374.8L550.8 374.8L550.5 374.4L546.8 374.4L546.5 374.1L538.5 374.1L531.2 371.1L526.8 370.8L515.5 373.8L502.8 373.8L502.5 374.1L499.5 374.1L495.2 375.1L476.8 374.8L471.8 376.4L469.8 378.1L469.2 379.4L469.2 382.8L472.2 389.8L473.8 391.4L476.8 392.8L483.2 392.8L483.5 392.4L488.2 392.4L488.5 392.1L493.2 391.8L499.8 393.8L505.2 394.8L518.5 395.1L523.5 393.8L527.8 391.8L529.2 391.8L535.2 393.4L537.8 393.4L540.2 394.1L544.2 394.1L548.8 391.8L555.2 390.1L570.5 390.1L570.8 390.4L572.8 390.4L574.5 391.1L577.8 393.8L583.8 394.1L587.2 395.1L590.2 396.8L593.8 400.1L597.5 402.1L605.2 402.1L607.5 403.1L610.2 405.8L612.2 409.4L614.5 411.8L616.8 412.8L620.2 412.8L625.5 411.4L627.8 411.4L630.2 412.1L634.8 412.1L641.5 407.1L645.5 405.8L647.8 405.4L651.8 403.8L653.5 401.4ZM437.5 356.4L435.8 355.4L431.8 355.1L431.5 354.8L427.2 355.1L424.8 356.1L423.8 357.1L422.8 360.4L423.2 364.4L424.8 365.8L427.8 365.8L431.5 364.8L434.2 363.4L437.8 359.8L438.2 357.8ZM391.0 339.8L391.0 375.8L399.2 375.4L401.2 374.8L402.8 372.8L403.5 368.8L406.5 361.4L407.2 351.4L406.2 350.4L401.5 349.1L397.8 345.8L395.8 341.8L394.2 340.1ZM663.5 313.1L662.2 314.4L661.2 316.8L661.2 319.4L661.8 321.4L663.5 323.1L666.2 324.1L671.0 324.1L671.0 311.8L666.8 311.8ZM425.2 290.4L422.8 290.4L421.2 291.1L419.2 293.1L418.2 295.4L418.2 303.1L418.5 304.8L419.8 308.1L423.5 313.1L424.8 315.8L424.8 316.8L423.8 318.8L420.2 323.1L418.5 326.1L416.2 328.4L413.8 329.4L411.8 329.8L410.2 331.1L409.8 334.8L409.5 335.1L409.2 342.1L408.2 347.4L408.2 349.8L409.5 350.4L414.5 350.1L416.2 349.4L417.8 348.1L418.8 346.4L421.5 337.4L423.8 334.4L426.8 332.4L428.8 330.4L430.5 326.8L430.5 322.1L429.5 319.1L429.5 317.1L433.5 311.1L435.2 305.8L435.2 301.4L434.2 298.1L432.8 295.8L429.8 292.8L427.8 291.4ZM606.8 271.8L603.5 273.4L601.2 275.8L600.5 278.4L601.2 279.8L604.2 282.4L605.8 283.1L608.5 283.1L610.8 280.8L611.5 278.8L611.5 275.4L610.8 273.4L609.5 272.1ZM533.2 258.1L531.2 257.8L528.5 258.8L523.5 259.8L521.2 261.1L519.5 262.8L518.2 265.1L516.8 269.1L514.2 274.8L514.2 277.4L515.8 279.8L519.5 282.1L525.5 283.8L528.8 283.1L530.5 281.8L533.2 276.1L534.8 268.4L534.8 262.4L534.2 259.8Z"/>
<path fill-rule="evenodd" fill="#75d3ff" d="M621.2 396.4L621.2 400.1L621.5 401.4L622.5 402.8L624.8 403.8L630.2 404.8L633.8 404.8L636.5 404.1L640.2 404.1L640.5 403.8L643.5 403.8L646.5 403.1L648.5 402.1L650.5 400.1L651.2 398.1L650.8 395.8L650.2 394.4L648.8 393.1L646.5 392.1L642.8 392.1L636.2 394.8L633.2 394.8L627.8 392.4L624.5 392.1L622.2 393.8ZM532.5 380.1L531.8 378.8L528.8 375.8L526.5 374.8L523.5 374.8L518.2 376.1L506.5 376.1L501.5 377.4L499.8 378.4L498.2 380.8L498.2 383.1L499.5 385.8L502.2 388.4L504.5 389.8L508.2 390.8L514.8 390.8L518.8 389.1L522.8 386.1L526.8 384.1L530.8 382.8L532.5 381.1ZM570.8 378.1L570.5 380.8L571.2 382.1L573.5 383.4L576.5 384.4L584.8 389.8L596.5 394.1L599.2 393.8L600.5 392.4L600.8 391.4L600.8 386.8L599.2 383.4L589.8 376.8L585.8 374.4L581.8 373.4L576.2 373.8L573.2 375.1ZM403.2 357.4L402.2 357.4L399.2 359.8L397.8 360.1L391.0 359.8L391.0 373.4L395.8 373.1L397.5 372.4L399.5 370.8L400.5 368.8L401.5 364.4L403.5 359.4ZM434.2 358.1L431.8 356.4L428.8 356.1L426.2 356.8L424.8 358.1L424.5 361.4L425.2 362.8L426.2 363.4L429.2 363.4L431.2 362.8L433.8 360.4ZM427.8 319.8L425.5 319.4L424.2 320.1L420.8 323.8L418.8 327.4L416.5 329.8L412.8 331.4L411.8 332.4L410.8 334.8L410.5 339.1L410.2 339.4L410.2 346.1L411.2 348.1L412.8 348.8L414.5 348.8L416.2 348.1L417.5 346.8L418.8 344.1L419.8 339.8L421.5 335.8L423.2 333.8L426.8 331.4L428.8 329.1L429.8 326.4L429.8 323.8L429.5 322.4ZM425.5 295.4L423.5 296.1L421.5 298.8L420.8 301.1L420.8 305.1L421.5 307.4L423.8 311.1L426.5 313.4L428.2 313.4L430.8 311.1L431.8 309.1L432.5 306.8L432.5 302.4L430.8 298.8L428.5 296.4ZM530.2 261.8L529.2 261.4L524.5 261.8L522.2 263.1L519.8 266.1L517.2 274.1L517.2 276.4L517.8 277.8L519.8 279.8L522.8 281.1L526.5 281.1L528.5 280.1L530.2 278.1L532.2 273.4L532.5 270.1L532.8 269.8L532.8 265.4L531.8 263.1Z"/>
<path fill-rule="evenodd" fill="#3d87ff" d="M639.8 397.1L639.5 398.4L640.2 399.8L642.2 400.8L645.8 400.4L647.8 398.4L647.5 396.1L645.8 394.8L643.2 394.8L641.2 395.8ZM505.5 381.8L505.8 383.1L507.8 384.8L512.8 385.1L515.5 383.8L517.2 382.1L517.2 381.1L511.8 379.4L508.2 379.4L506.5 380.1ZM391.0 362.8L391.0 370.8L394.2 370.8L395.8 370.1L397.2 368.8L397.8 367.1L397.8 365.8L397.2 364.4L394.8 363.1ZM426.8 359.1L426.8 360.4L427.8 361.1L428.8 361.1L430.2 360.4L430.5 359.8L430.5 358.8L429.5 358.1L427.8 358.1ZM427.2 321.4L425.5 321.1L423.5 322.1L421.5 324.4L418.8 329.8L416.8 331.4L414.2 332.4L412.2 334.8L411.2 339.4L411.2 343.8L411.8 345.8L412.8 346.8L415.2 347.1L416.8 345.8L418.2 343.4L420.5 335.1L422.2 333.1L425.8 331.1L428.5 328.1L428.8 323.8ZM425.5 300.4L423.8 302.4L423.5 306.1L424.2 308.1L425.8 309.8L427.2 310.1L428.5 309.4L429.2 308.4L429.8 305.1L428.8 302.1L427.2 300.4ZM528.2 263.8L525.2 263.8L523.8 264.4L521.8 266.4L520.5 269.1L519.5 273.1L519.5 274.8L520.5 277.1L522.2 278.4L523.2 278.8L526.8 278.4L529.2 276.1L530.2 274.1L530.8 271.8L530.8 266.8L530.5 265.8Z"/>
<path fill-rule="evenodd" fill="#2857ff" d="M418.5 333.4L415.2 333.8L413.8 334.8L412.8 336.8L412.5 340.4L412.2 340.8L412.5 341.1L412.5 343.4L413.8 345.1L415.5 345.1L417.5 342.4L418.8 336.8L418.8 333.8ZM426.5 322.8L424.2 323.1L421.8 325.8L420.8 328.8L420.8 330.8L421.2 331.1L424.2 330.8L426.5 329.4L427.5 328.1L428.2 325.8L427.5 323.8ZM526.5 266.1L524.8 266.4L523.2 268.1L522.2 270.8L522.2 274.1L522.8 275.4L524.2 276.1L526.2 275.8L527.8 274.1L528.8 271.4L528.5 267.4L527.5 266.4Z"/>
<path fill-rule="evenodd" fill="#2400d8" d="M416.2 336.1L414.8 336.4L413.8 338.4L413.8 341.8L414.8 342.8L416.2 341.8L416.8 340.4L417.2 337.4ZM426.5 324.8L424.8 324.4L423.5 325.4L422.8 326.8L422.8 328.4L423.5 329.1L424.5 329.1L426.2 328.1L426.8 326.8Z"/>
<path fill-rule="evenodd" fill="#ffd699" d="M402.8 333.1L400.8 335.1L400.8 338.1L401.8 340.8L403.2 342.1L404.2 342.4L405.2 342.1L406.2 340.8L406.5 335.8L406.2 334.8L404.8 333.4ZM467.2 332.8L465.5 332.8L464.5 333.4L463.8 334.8L463.2 339.1L462.2 342.4L459.5 348.1L459.5 349.4L460.8 351.4L463.5 352.4L466.8 352.4L469.5 351.1L471.5 348.1L472.2 345.4L472.5 339.8L471.5 335.8L470.2 334.1ZM411.5 308.1L408.8 310.4L407.5 314.1L407.8 318.4L409.8 322.8L411.5 324.8L412.5 325.4L415.2 325.4L417.5 323.4L419.5 320.4L420.8 317.8L420.8 315.4L419.5 312.8L415.5 308.8L413.8 308.1ZM449.5 302.4L447.2 302.1L444.2 304.4L441.5 308.1L440.2 312.4L439.2 314.1L433.8 318.4L432.8 320.8L432.5 325.8L431.5 329.1L430.5 331.1L427.2 334.4L425.5 335.4L423.5 337.8L422.2 340.8L419.8 350.1L418.2 351.8L412.2 354.1L410.8 355.8L410.2 358.1L410.5 361.4L411.5 363.1L412.5 363.8L416.5 364.1L418.5 363.1L419.8 361.1L421.2 355.4L422.8 353.8L426.2 352.8L432.2 352.1L436.2 350.4L438.5 348.8L442.5 344.8L445.8 340.4L447.5 336.4L448.5 330.4L449.5 329.4L453.2 330.4L456.5 330.4L459.8 329.4L460.5 328.8L460.8 326.8L459.5 323.8L457.8 322.4L452.2 320.1L451.2 319.1L450.8 316.1L452.2 310.1L452.2 307.8L451.5 305.1ZM490.8 308.4L490.8 310.8L490.5 311.1L490.8 311.4L490.8 315.1L491.2 315.4L491.2 330.1L491.5 330.4L491.5 334.1L491.8 334.4L491.8 336.8L492.2 337.1L492.8 344.8L493.2 345.1L493.2 348.4L491.8 353.4L491.8 357.1L493.5 361.8L495.5 364.1L498.2 366.1L503.8 368.4L508.5 368.8L508.8 369.1L512.8 369.1L526.2 366.4L541.5 366.4L541.8 366.1L546.2 366.1L546.5 365.8L553.8 366.1L555.5 365.8L558.2 364.4L562.8 361.1L567.2 359.4L570.5 359.4L575.8 360.8L607.5 360.4L607.8 360.1L612.5 360.1L612.8 359.8L617.5 359.8L617.8 360.1L624.2 360.8L624.5 360.4L626.2 360.4L628.8 359.1L637.8 352.1L640.5 348.8L641.5 345.8L641.8 341.4L640.2 335.8L638.8 328.1L636.5 322.4L635.2 321.1L632.2 320.8L628.5 322.1L626.8 322.1L625.2 321.4L621.5 318.1L617.2 315.4L613.5 314.1L609.8 313.4L605.8 311.8L603.5 311.8L599.5 313.4L596.5 313.1L594.5 311.1L592.5 305.4L590.8 303.8L589.2 303.1L583.5 302.8L583.2 302.4L580.2 302.4L577.8 303.1L573.2 307.4L568.5 309.8L566.5 311.8L565.5 314.1L565.2 316.1L563.8 318.8L561.2 321.4L558.8 322.4L553.2 322.1L546.8 319.8L543.5 316.4L542.8 314.4L543.2 312.4L544.8 310.8L546.5 310.1L548.8 310.1L549.2 309.8L555.5 310.1L558.5 309.4L559.8 308.4L559.8 306.4L558.2 303.8L555.2 300.8L550.8 297.8L546.2 293.4L542.8 291.4L540.2 290.8L538.2 290.8L535.5 290.1L528.2 290.4L517.8 286.4L516.2 286.4L515.8 286.1L512.5 286.4L510.2 287.8L508.2 289.8L504.8 294.4L499.5 300.4L494.8 303.4L492.2 305.8ZM539.5 252.6L539.8 260.8L540.8 265.1L542.8 269.1L542.8 270.8L539.5 274.1L538.5 276.1L538.5 279.1L539.5 279.8L543.2 279.8L544.5 280.4L548.2 283.8L552.5 285.4L560.8 285.8L561.2 285.4L564.5 285.1L566.5 284.1L567.8 282.1L567.8 277.8L567.5 276.8L565.5 273.8L559.2 268.4L555.8 264.8L554.5 259.4L554.2 252.6ZM431.5 252.6L431.8 257.1L435.8 262.8L436.8 265.4L439.2 269.4L441.2 271.4L444.2 273.1L449.5 274.1L455.8 273.8L458.5 273.1L461.5 271.4L463.5 269.1L466.5 262.1L469.2 259.4L470.5 258.8L472.2 257.1L472.8 255.8L472.8 252.6Z"/>
<path fill-rule="evenodd" fill="#ffac75" d="M418.5 354.1L415.8 354.1L413.5 355.1L412.5 356.1L411.8 357.4L411.8 359.8L413.2 361.8L415.8 362.4L418.2 361.1L419.2 358.8L419.2 354.8ZM612.8 343.1L611.2 345.1L610.5 346.8L610.2 351.1L610.8 353.1L612.2 354.1L614.8 354.8L618.8 354.8L621.2 354.1L622.2 352.8L622.2 351.4L621.8 351.1L621.2 345.4L620.2 343.8L617.2 342.1L615.2 342.1ZM594.8 332.1L592.8 332.8L591.2 334.4L590.5 336.4L590.5 338.8L591.5 341.1L592.5 342.1L594.8 343.1L596.8 343.1L599.2 342.1L600.2 341.1L601.5 338.4L601.5 336.1L600.8 334.4L599.5 333.1L597.2 332.1ZM442.5 318.8L441.2 318.1L437.8 318.1L436.2 318.8L434.5 320.4L433.5 323.4L433.2 326.4L431.2 331.4L428.8 334.1L426.8 335.4L424.2 338.1L423.2 340.1L421.5 347.4L421.5 350.8L422.5 351.8L428.8 351.8L433.8 350.1L436.2 348.4L440.2 344.4L443.8 339.8L445.2 336.4L445.2 330.4L444.8 330.1L444.8 326.8L444.5 326.4L443.8 320.8ZM413.5 311.1L412.5 311.4L410.5 313.8L410.2 318.1L412.2 322.4L413.8 323.4L414.8 323.4L417.2 321.8L418.8 319.1L419.2 315.4L417.2 312.4L415.5 311.4ZM513.8 290.8L512.5 292.1L510.2 296.1L509.5 298.1L509.5 299.4L510.2 300.8L512.5 302.1L516.2 303.1L518.2 304.1L519.5 305.4L521.8 309.8L528.2 313.1L528.8 314.1L528.8 316.4L527.2 320.1L525.5 322.1L522.8 323.4L517.5 323.1L515.8 323.8L507.2 332.8L501.5 337.1L499.5 340.4L498.8 343.8L498.5 352.8L499.2 355.4L502.8 359.4L503.5 362.4L504.5 364.4L506.5 365.8L508.8 366.4L513.8 366.4L514.2 366.1L516.2 366.1L521.2 365.1L524.2 365.1L524.5 364.8L536.2 364.8L536.5 364.4L540.8 364.1L548.8 361.4L551.8 361.4L554.8 360.8L559.2 357.8L563.5 355.8L565.8 354.1L570.8 346.4L572.5 341.1L572.5 336.1L570.2 330.1L569.8 328.4L570.2 327.1L571.2 326.1L578.8 324.4L581.5 322.8L582.8 320.1L583.8 316.4L588.8 311.4L589.5 309.8L589.2 307.8L587.5 306.1L586.5 305.8L582.5 305.8L579.8 307.1L576.8 309.4L572.2 311.8L569.8 313.8L567.8 317.4L566.8 321.4L565.2 323.8L561.2 325.1L556.2 324.8L548.5 322.4L544.2 320.1L540.8 316.8L539.2 314.1L537.5 312.4L533.2 310.1L531.8 308.4L531.2 305.8L532.5 303.4L535.5 302.4L540.2 301.8L542.2 300.8L542.5 298.1L540.5 295.8L538.2 294.8L534.2 294.8L531.5 297.1L530.5 298.8L527.8 301.1L524.2 301.1L522.8 300.4L520.8 297.8L520.5 293.1L519.8 291.4L518.2 290.1L515.2 290.1ZM550.2 270.1L548.5 273.1L547.8 276.1L548.8 279.1L551.2 281.4L554.2 282.8L557.2 283.1L557.5 282.8L561.2 282.4L563.5 280.8L564.2 279.4L563.8 276.4L560.5 272.4L558.2 270.8L554.5 269.1L551.5 269.1ZM541.5 252.6L541.5 257.4L542.8 261.8L545.5 264.4L547.5 265.4L549.5 265.4L551.2 263.1L551.8 260.4L552.2 252.6ZM439.2 252.6L439.2 255.8L439.8 257.8L440.2 265.4L441.2 267.8L443.8 270.4L445.8 271.4L448.5 272.1L454.5 272.1L458.2 270.8L460.5 268.8L461.5 266.8L461.5 263.4L459.5 261.1L454.5 259.4L452.2 258.1L450.2 255.8L449.8 254.1L450.2 252.6Z"/>
<path fill-rule="evenodd" fill="#ff3d3d" d="M414.8 356.4L413.8 357.8L413.8 359.1L414.5 360.1L416.2 360.1L416.8 359.8L417.5 358.4L417.5 357.4L416.8 356.4ZM440.5 321.1L439.2 320.4L437.5 320.4L435.5 321.8L434.8 322.8L432.8 329.8L431.5 332.4L428.5 335.4L426.8 336.4L424.5 339.1L422.8 344.1L422.8 349.1L423.5 350.1L424.8 350.8L428.8 350.8L432.5 349.4L437.5 344.8L442.2 338.8L443.5 335.1L443.5 330.4L443.2 330.1L442.8 325.4L441.5 322.1ZM565.5 330.4L562.8 328.4L557.8 327.4L553.2 325.4L546.8 323.4L542.2 320.8L537.5 316.8L535.2 315.8L533.8 316.1L531.5 318.1L528.8 323.1L525.5 326.4L522.8 327.8L519.8 328.4L517.8 329.8L515.5 335.4L513.8 337.1L508.8 338.8L506.8 340.1L504.8 343.4L504.2 346.4L504.2 349.1L504.8 351.8L507.2 355.4L508.8 356.4L512.5 357.4L514.5 358.4L517.2 361.1L520.2 362.4L525.2 362.8L525.5 363.1L534.5 363.1L541.5 361.4L548.2 357.8L551.5 357.1L553.8 356.1L555.2 354.8L556.5 350.1L557.8 348.4L559.5 347.4L563.2 346.4L565.2 345.1L566.2 343.8L567.5 340.4L567.5 335.4ZM414.2 314.1L412.8 315.4L412.5 317.4L413.5 319.8L415.2 320.4L417.2 318.4L417.2 315.8L416.5 314.8L415.2 314.1ZM579.5 314.1L578.5 313.4L577.2 313.4L573.5 315.1L571.8 317.4L572.2 320.1L573.8 321.1L576.5 321.1L577.8 320.4L579.5 317.8L579.8 316.4ZM552.8 274.1L552.2 275.1L552.2 277.4L553.5 279.1L556.5 280.1L558.2 279.8L559.8 278.4L560.2 277.1L559.5 275.8L557.8 274.1L556.5 273.4L553.8 273.4ZM443.8 262.8L443.5 266.1L444.2 267.4L445.5 268.8L447.5 269.8L450.8 270.4L454.2 270.1L456.8 268.8L457.8 267.4L458.2 266.1L457.5 264.4L456.5 263.4L453.2 261.8L449.8 260.8L446.2 260.8ZM543.5 252.6L543.5 256.1L544.5 258.8L546.2 260.1L548.2 259.8L549.5 257.1L549.5 252.6Z"/>
<path fill-rule="evenodd" fill="#f72735" d="M439.8 323.4L438.5 322.8L437.2 322.8L436.2 323.4L435.2 325.1L433.2 331.4L431.8 333.8L425.5 339.1L423.8 343.1L423.8 347.8L425.2 349.4L428.5 349.8L429.8 349.4L433.2 347.4L440.5 337.8L441.8 334.8L441.8 328.1L440.8 324.8ZM562.8 333.4L560.2 331.1L552.5 327.1L543.5 323.8L537.5 320.1L534.8 319.8L533.5 320.8L530.2 326.1L523.2 331.8L521.5 333.4L519.5 336.4L516.2 339.8L513.5 341.4L511.5 342.1L508.8 344.4L508.2 346.1L508.2 349.1L508.8 350.8L510.8 352.8L514.2 354.4L518.5 357.8L522.5 360.1L528.8 361.4L532.8 361.4L537.8 360.4L542.8 358.1L546.8 355.4L550.5 352.1L552.5 348.8L555.8 345.4L558.5 343.8L560.5 343.1L563.2 340.8L563.8 339.1L563.8 335.8ZM448.5 265.4L448.5 266.4L449.8 267.4L451.8 267.4L452.8 266.8L452.8 265.8L450.8 264.8L449.5 264.8Z"/>
<path fill-rule="evenodd" fill="#a50021" d="M438.5 325.4L437.2 325.4L435.8 326.8L434.5 330.1L434.2 332.1L432.5 335.1L430.5 336.8L427.5 338.4L426.2 339.8L424.8 342.8L424.8 346.8L425.8 348.1L428.8 348.4L431.5 347.1L433.5 344.8L435.8 339.8L438.5 337.1L439.8 335.1L440.5 332.8L440.5 329.4L440.2 327.8ZM557.8 334.4L554.2 330.8L547.5 327.1L537.8 324.1L536.2 324.4L519.5 341.4L515.8 343.8L513.5 346.1L513.2 348.4L513.8 349.8L520.5 355.8L524.2 358.1L528.8 359.4L534.8 359.1L541.2 356.1L545.5 351.8L547.8 348.4L552.5 343.8L556.2 341.4L558.5 339.1L558.8 336.1Z"/>
</g>
<clipPath id="cw1"><rect x="55.0" y="252.6" width="280.0" height="164.0"/></clipPath>
<clipPath id="cm1"><rect x="391.0" y="252.6" width="280.0" height="164.0"/></clipPath>
<g clip-path="url(#cw1)">
<path d="M55.0 372.0L70.0 372.0L70.0 416.5L55.0 416.5Z" fill="#eaffff"/><path d="M58.0 376.0L62.0 380.0L62.0 416.5L58.0 416.5Z" fill="#99eaff"/><path d="M55.0 384.0L57.0 388.0L58.5 400.0L58.5 416.5L55.0 416.5Z" fill="#2400d8"/><path d="M62.0 380.0L67.0 378.0L70.5 390.0L70.5 416.5L61.0 416.5Z" fill="#3d87ff"/><path d="M63.0 392.0L67.0 390.0L69.5 398.0L69.0 412.0L64.0 413.0L62.5 402.0Z" fill="#2400d8"/><path d="M70.0 300.0L73.0 300.0L73.5 416.5L70.0 416.5Z" fill="#ffd699"/><path d="M82.0 372.0L90.0 372.0L90.0 416.5L82.0 416.5Z" fill="#99eaff"/><path d="M72.0 384.0L78.0 386.0L82.0 396.0L83.0 416.5L72.0 416.5Z" fill="#ffac75"/><path d="M73.0 390.0L78.0 391.0L81.0 400.0L82.0 416.5L73.0 416.5Z" fill="#ff3d3d"/><path d="M74.0 398.0L78.0 398.0L80.5 405.0L81.0 415.0L74.0 415.0Z" fill="#a50021"/><circle cx="69.3" cy="272.5" r="1.3" fill="#8a8a8a"/><circle cx="69.3" cy="305.8" r="1.3" fill="#8a8a8a"/><circle cx="69.3" cy="329.6" r="1.3" fill="#8a8a8a"/><circle cx="69.3" cy="348.6" r="1.3" fill="#8a8a8a"/><circle cx="69.3" cy="363.3" r="1.3" fill="#8a8a8a"/><circle cx="69.3" cy="389.0" r="1.3" fill="#8a8a8a"/><circle cx="69.3" cy="399.0" r="1.3" fill="#8a8a8a"/><circle cx="69.3" cy="407.3" r="1.3" fill="#8a8a8a"/><circle cx="85.2" cy="272.5" r="1.3" fill="#8a8a8a"/><circle cx="85.2" cy="348.6" r="1.3" fill="#8a8a8a"/><circle cx="85.2" cy="377.1" r="1.3" fill="#8a8a8a"/><circle cx="85.2" cy="389.0" r="1.3" fill="#8a8a8a"/><circle cx="85.2" cy="399.0" r="1.3" fill="#8a8a8a"/><circle cx="85.2" cy="407.3" r="1.3" fill="#8a8a8a"/><circle cx="101.0" cy="272.5" r="1.3" fill="#8a8a8a"/><circle cx="101.0" cy="363.3" r="1.3" fill="#8a8a8a"/><circle cx="101.0" cy="377.1" r="1.3" fill="#8a8a8a"/><circle cx="101.0" cy="389.0" r="1.3" fill="#8a8a8a"/><circle cx="101.0" cy="399.0" r="1.3" fill="#8a8a8a"/><circle cx="101.0" cy="407.3" r="1.3" fill="#8a8a8a"/><circle cx="116.9" cy="272.5" r="1.3" fill="#8a8a8a"/><circle cx="116.9" cy="329.6" r="1.3" fill="#8a8a8a"/><circle cx="116.9" cy="348.6" r="1.3" fill="#8a8a8a"/><circle cx="116.9" cy="363.3" r="1.3" fill="#8a8a8a"/><circle cx="116.9" cy="377.1" r="1.3" fill="#8a8a8a"/><circle cx="116.9" cy="389.0" r="1.3" fill="#8a8a8a"/><circle cx="116.9" cy="399.0" r="1.3" fill="#8a8a8a"/><circle cx="116.9" cy="407.3" r="1.3" fill="#8a8a8a"/><circle cx="132.8" cy="272.5" r="1.3" fill="#8a8a8a"/><circle cx="132.8" cy="329.6" r="1.3" fill="#8a8a8a"/><circle cx="132.8" cy="348.6" r="1.3" fill="#8a8a8a"/><circle cx="132.8" cy="363.3" r="1.3" fill="#8a8a8a"/><circle cx="132.8" cy="377.1" r="1.3" fill="#8a8a8a"/><circle cx="132.8" cy="389.0" r="1.3" fill="#8a8a8a"/><circle cx="132.8" cy="399.0" r="1.3" fill="#8a8a8a"/><circle cx="132.8" cy="407.3" r="1.3" fill="#8a8a8a"/><circle cx="148.6" cy="272.5" r="1.3" fill="#8a8a8a"/><circle cx="148.6" cy="329.6" r="1.3" fill="#8a8a8a"/><circle cx="148.6" cy="348.6" r="1.3" fill="#8a8a8a"/><circle cx="148.6" cy="363.3" r="1.3" fill="#8a8a8a"/><circle cx="148.6" cy="377.1" r="1.3" fill="#8a8a8a"/><circle cx="148.6" cy="389.0" r="1.3" fill="#8a8a8a"/><circle cx="148.6" cy="399.0" r="1.3" fill="#8a8a8a"/><circle cx="148.6" cy="407.3" r="1.3" fill="#8a8a8a"/><circle cx="164.5" cy="272.5" r="1.3" fill="#8a8a8a"/><circle cx="164.5" cy="329.6" r="1.3" fill="#8a8a8a"/><circle cx="164.5" cy="348.6" r="1.3" fill="#8a8a8a"/><circle cx="164.5" cy="363.3" r="1.3" fill="#8a8a8a"/><circle cx="164.5" cy="377.1" r="1.3" fill="#8a8a8a"/><circle cx="164.5" cy="389.0" r="1.3" fill="#8a8a8a"/><circle cx="164.5" cy="399.0" r="1.3" fill="#8a8a8a"/><circle cx="164.5" cy="407.3" r="1.3" fill="#8a8a8a"/><circle cx="180.4" cy="272.5" r="1.3" fill="#8a8a8a"/><circle cx="180.4" cy="329.6" r="1.3" fill="#8a8a8a"/><circle cx="180.4" cy="348.6" r="1.3" fill="#8a8a8a"/><circle cx="180.4" cy="363.3" r="1.3" fill="#8a8a8a"/><circle cx="180.4" cy="377.1" r="1.3" fill="#8a8a8a"/><circle cx="180.4" cy="389.0" r="1.3" fill="#8a8a8a"/><circle cx="180.4" cy="399.0" r="1.3" fill="#8a8a8a"/><circle cx="180.4" cy="407.3" r="1.3" fill="#8a8a8a"/><circle cx="196.3" cy="272.5" r="1.3" fill="#8a8a8a"/><circle cx="196.3" cy="348.6" r="1.3" fill="#8a8a8a"/><circle cx="196.3" cy="363.3" r="1.3" fill="#8a8a8a"/><circle cx="196.3" cy="377.1" r="1.3" fill="#8a8a8a"/><circle cx="196.3" cy="389.0" r="1.3" fill="#8a8a8a"/><circle cx="212.1" cy="348.6" r="1.3" fill="#8a8a8a"/><circle cx="212.1" cy="363.3" r="1.3" fill="#8a8a8a"/><circle cx="212.1" cy="377.1" r="1.3" fill="#8a8a8a"/><circle cx="212.1" cy="389.0" r="1.3" fill="#8a8a8a"/><circle cx="228.0" cy="329.6" r="1.3" fill="#8a8a8a"/><circle cx="228.0" cy="348.6" r="1.3" fill="#8a8a8a"/><circle cx="228.0" cy="363.3" r="1.3" fill="#8a8a8a"/><circle cx="228.0" cy="377.1" r="1.3" fill="#8a8a8a"/><circle cx="243.9" cy="305.8" r="1.3" fill="#8a8a8a"/><circle cx="243.9" cy="329.6" r="1.3" fill="#8a8a8a"/><circle cx="243.9" cy="348.6" r="1.3" fill="#8a8a8a"/><circle cx="243.9" cy="363.3" r="1.3" fill="#8a8a8a"/><circle cx="243.9" cy="377.1" r="1.3" fill="#8a8a8a"/><circle cx="243.9" cy="389.0" r="1.3" fill="#8a8a8a"/><circle cx="259.7" cy="305.8" r="1.3" fill="#8a8a8a"/><circle cx="259.7" cy="329.6" r="1.3" fill="#8a8a8a"/><circle cx="259.7" cy="348.6" r="1.3" fill="#8a8a8a"/><circle cx="259.7" cy="363.3" r="1.3" fill="#8a8a8a"/><circle cx="259.7" cy="377.1" r="1.3" fill="#8a8a8a"/><circle cx="259.7" cy="389.0" r="1.3" fill="#8a8a8a"/><circle cx="259.7" cy="399.0" r="1.3" fill="#8a8a8a"/><circle cx="259.7" cy="407.3" r="1.3" fill="#8a8a8a"/><circle cx="275.6" cy="272.5" r="1.3" fill="#8a8a8a"/><circle cx="275.6" cy="305.8" r="1.3" fill="#8a8a8a"/><circle cx="275.6" cy="329.6" r="1.3" fill="#8a8a8a"/><circle cx="275.6" cy="348.6" r="1.3" fill="#8a8a8a"/><circle cx="275.6" cy="363.3" r="1.3" fill="#8a8a8a"/><circle cx="275.6" cy="377.1" r="1.3" fill="#8a8a8a"/><circle cx="275.6" cy="389.0" r="1.3" fill="#8a8a8a"/><circle cx="275.6" cy="399.0" r="1.3" fill="#8a8a8a"/><circle cx="275.6" cy="407.3" r="1.3" fill="#8a8a8a"/><circle cx="291.5" cy="272.5" r="1.3" fill="#8a8a8a"/><circle cx="291.5" cy="305.8" r="1.3" fill="#8a8a8a"/><circle cx="291.5" cy="329.6" r="1.3" fill="#8a8a8a"/><circle cx="291.5" cy="348.6" r="1.3" fill="#8a8a8a"/><circle cx="291.5" cy="363.3" r="1.3" fill="#8a8a8a"/><circle cx="291.5" cy="377.1" r="1.3" fill="#8a8a8a"/><circle cx="291.5" cy="389.0" r="1.3" fill="#8a8a8a"/><circle cx="291.5" cy="399.0" r="1.3" fill="#8a8a8a"/><circle cx="307.3" cy="272.5" r="1.3" fill="#8a8a8a"/><circle cx="307.3" cy="305.8" r="1.3" fill="#8a8a8a"/><circle cx="307.3" cy="329.6" r="1.3" fill="#8a8a8a"/><circle cx="307.3" cy="348.6" r="1.3" fill="#8a8a8a"/><circle cx="307.3" cy="363.3" r="1.3" fill="#8a8a8a"/><circle cx="307.3" cy="377.1" r="1.3" fill="#8a8a8a"/><circle cx="307.3" cy="389.0" r="1.3" fill="#8a8a8a"/><circle cx="323.2" cy="272.5" r="1.3" fill="#8a8a8a"/><circle cx="323.2" cy="305.8" r="1.3" fill="#8a8a8a"/><circle cx="323.2" cy="329.6" r="1.3" fill="#8a8a8a"/><circle cx="323.2" cy="348.6" r="1.3" fill="#8a8a8a"/><circle cx="323.2" cy="363.3" r="1.3" fill="#8a8a8a"/><circle cx="323.2" cy="377.1" r="1.3" fill="#8a8a8a"/><g stroke="#000" stroke-width="1.6" fill="none" stroke-linecap="round" stroke-linejoin="round"><path d="M77.0 277.5L69.0 277.5M73.8 275.1L69.0 277.5L73.8 279.9"/><path d="M95.9 277.5L83.9 277.5M89.4 274.7L83.9 277.5L89.4 280.2"/><path d="M113.8 277.5L99.8 277.5M105.3 274.7L99.8 277.5L105.3 280.2"/><path d="M131.2 277.5L116.2 277.5M121.7 274.7L116.2 277.5L121.7 280.2"/><path d="M148.6 277.5L132.6 277.5M138.1 274.7L132.6 277.5L138.1 280.2"/><path d="M166.5 277.5L148.5 277.5M154.0 274.7L148.5 277.5L154.0 280.2"/><path d="M184.2 279.4L164.6 275.5M170.5 273.9L164.6 275.5L169.4 279.3"/><path d="M202.1 279.6L180.5 275.3M186.4 273.7L180.5 275.3L185.4 279.1"/><path d="M219.0 279.6L197.4 275.3M203.3 273.7L197.4 275.3L202.3 279.1"/><path d="M235.9 279.6L214.3 275.3M220.2 273.7L214.3 275.3L219.2 279.1"/><path d="M252.8 279.6L231.2 275.3M237.1 273.7L231.2 275.3L236.1 279.1"/><path d="M269.7 279.6L248.1 275.3M254.0 273.7L248.1 275.3L253.0 279.1"/><path d="M286.6 279.6L265.0 275.3M270.9 273.7L265.0 275.3L269.9 279.1"/><path d="M302.9 281.7L282.5 273.3M288.7 272.8L282.5 273.3L286.6 277.9"/><path d="M319.8 281.7L299.4 273.3M305.6 272.8L299.4 273.3L303.5 277.9"/><path d="M336.7 281.7L316.3 273.3M322.5 272.8L316.3 273.3L320.4 277.9"/><path d="M73.0 308.5L73.0 316.5M70.6 311.7L73.0 316.5L75.4 311.7"/><path d="M106.8 308.5L106.8 316.5M104.4 311.7L106.8 316.5L109.2 311.7"/><path d="M125.4 316.7L122.0 308.4M126.5 312.3L122.0 308.4L121.5 314.4"/><path d="M142.5 317.1L138.7 307.9M143.3 311.9L138.7 307.9L138.3 314.0"/><path d="M161.4 316.4L153.6 308.6M159.4 310.6L153.6 308.6L155.6 314.5"/><path d="M178.6 316.8L170.2 308.3M176.0 310.2L170.2 308.3L172.1 314.1"/><path d="M195.5 316.8L187.1 308.3M192.9 310.2L187.1 308.3L189.0 314.1"/><path d="M212.4 316.8L204.0 308.3M209.8 310.2L204.0 308.3L205.9 314.1"/><path d="M229.7 317.1L220.5 307.9M226.3 309.9L220.5 307.9L222.4 313.8"/><path d="M246.6 317.1L237.4 307.9M243.2 309.9L237.4 307.9L239.3 313.8"/><path d="M263.5 317.1L254.3 307.9M260.1 309.9L254.3 307.9L256.2 313.8"/><path d="M280.4 317.1L271.2 307.9M277.0 309.9L271.2 307.9L273.1 313.8"/><path d="M297.3 317.1L288.1 307.9M293.9 309.9L288.1 307.9L290.0 313.8"/><path d="M314.2 317.1L305.0 307.9M310.8 309.9L305.0 307.9L306.9 313.8"/><path d="M331.1 317.1L321.9 307.9M327.7 309.9L321.9 307.9L323.8 313.8"/><path d="M73.0 332.9L73.0 341.9M70.3 336.5L73.0 341.9L75.7 336.5"/><path d="M102.9 333.5L110.7 341.3M104.9 339.3L110.7 341.3L108.7 335.4"/><path d="M118.2 337.4L129.2 337.4M123.7 340.1L129.2 337.4L123.7 334.6"/><path d="M135.1 337.4L146.1 337.4M140.6 340.1L146.1 337.4L140.6 334.6"/><path d="M152.4 339.5L162.6 335.3M158.6 339.9L162.6 335.3L156.4 334.8"/><path d="M170.5 341.3L178.3 333.5M176.3 339.3L178.3 333.5L172.5 335.4"/><path d="M187.4 341.3L195.2 333.5M193.2 339.3L195.2 333.5L189.4 335.4"/><path d="M204.3 341.3L212.1 333.5M210.1 339.3L212.1 333.5L206.3 335.4"/><path d="M223.0 342.5L227.2 332.3M227.6 338.4L227.2 332.3L222.6 336.3"/><path d="M239.9 342.5L244.1 332.3M244.5 338.4L244.1 332.3L239.5 336.3"/><path d="M258.9 342.9L258.9 331.9M261.6 337.4L258.9 331.9L256.1 337.4"/><path d="M275.8 342.9L275.8 331.9M278.5 337.4L275.8 331.9L273.0 337.4"/><path d="M294.8 342.5L290.6 332.3M295.2 336.3L290.6 332.3L290.2 338.4"/><path d="M313.5 341.3L305.7 333.5M311.5 335.4L305.7 333.5L307.7 339.3"/><path d="M330.4 341.3L322.6 333.5M328.4 335.4L322.6 333.5L324.6 339.3"/><path d="M73.0 352.2L73.0 361.2M70.3 355.8L73.0 361.2L75.7 355.8"/><path d="M102.9 352.8L110.7 360.6M104.9 358.6L110.7 360.6L108.7 354.7"/><path d="M118.2 356.7L129.2 356.7M123.7 359.4L129.2 356.7L123.7 353.9"/><path d="M135.1 356.7L146.1 356.7M140.6 359.4L146.1 356.7L140.6 353.9"/><path d="M152.4 358.8L162.6 354.6M158.6 359.2L162.6 354.6L156.4 354.1"/><path d="M169.3 358.8L179.5 354.6M175.5 359.2L179.5 354.6L173.3 354.1"/><path d="M187.4 360.6L195.2 352.8M193.2 358.6L195.2 352.8L189.4 354.7"/><path d="M204.3 360.6L212.1 352.8M210.1 358.6L212.1 352.8L206.3 354.7"/><path d="M221.2 360.6L229.0 352.8M227.0 358.6L229.0 352.8L223.2 354.7"/><path d="M238.1 360.6L245.9 352.8M243.9 358.6L245.9 352.8L240.1 354.7"/><path d="M255.0 360.6L262.8 352.8M260.8 358.6L262.8 352.8L257.0 354.7"/><path d="M275.8 362.2L275.8 351.2M278.5 356.7L275.8 351.2L273.0 356.7"/><path d="M292.7 362.2L292.7 351.2M295.4 356.7L292.7 351.2L289.9 356.7"/><path d="M309.6 362.2L309.6 351.2M312.3 356.7L309.6 351.2L306.8 356.7"/><path d="M326.5 362.2L326.5 351.2M329.2 356.7L326.5 351.2L323.8 356.7"/><path d="M69.1 381.9L76.9 389.7M71.1 387.7L76.9 389.7L74.9 383.8"/><path d="M85.7 381.5L94.1 390.0M88.3 388.1L94.1 390.0L92.2 384.2"/><path d="M102.2 381.2L111.4 390.4M105.6 388.4L111.4 390.4L109.5 384.5"/><path d="M117.2 383.1L130.2 388.4M124.0 388.9L130.2 388.4L126.1 383.8"/><path d="M133.6 385.8L147.6 385.8M142.1 388.5L147.6 385.8L142.1 383.0"/><path d="M150.5 385.8L164.5 385.8M159.0 388.5L164.5 385.8L159.0 383.0"/><path d="M167.9 388.4L180.9 383.1M176.8 387.7L180.9 383.1L174.7 382.7"/><path d="M184.8 388.4L197.8 383.1M193.7 387.7L197.8 383.1L191.6 382.7"/><path d="M201.7 388.4L214.7 383.1M210.6 387.7L214.7 383.1L208.5 382.7"/><path d="M218.6 388.4L231.6 383.1M227.5 387.7L231.6 383.1L225.4 382.7"/><path d="M235.5 388.4L248.5 383.1M244.4 387.7L248.5 383.1L242.3 382.7"/><path d="M252.4 388.4L265.4 383.1M261.3 387.7L265.4 383.1L259.2 382.7"/><path d="M269.3 388.4L282.3 383.1M278.2 387.7L282.3 383.1L276.1 382.7"/><path d="M286.2 388.4L299.2 383.1M295.1 387.7L299.2 383.1L293.0 382.7"/><path d="M303.1 388.4L316.1 383.1M312.0 387.7L316.1 383.1L309.9 382.7"/><path d="M320.0 388.4L333.0 383.1M328.9 387.7L333.0 383.1L326.8 382.7"/><path d="M73.0 407.6L73.0 397.6M75.8 403.1L73.0 397.6L70.2 403.1"/><path d="M86.4 399.0L93.4 406.1M87.6 404.1L93.4 406.1L91.5 400.3"/><path d="M103.3 399.0L110.3 406.1M104.5 404.1L110.3 406.1L108.4 400.3"/><path d="M120.2 399.0L127.2 406.1M121.4 404.1L127.2 406.1L125.3 400.3"/><path d="M135.6 402.6L145.6 402.6M140.1 405.3L145.6 402.6L140.1 399.8"/><path d="M155.6 407.2L159.4 397.9M159.8 404.1L159.4 397.9L154.8 402.0"/><path d="M172.5 407.2L176.3 397.9M176.7 404.1L176.3 397.9L171.7 402.0"/><path d="M187.8 406.1L194.8 399.0M192.9 404.8L194.8 399.0L189.0 401.0"/><path d="M204.7 406.1L211.7 399.0M209.8 404.8L211.7 399.0L205.9 401.0"/><path d="M221.6 406.1L228.6 399.0M226.7 404.8L228.6 399.0L222.8 401.0"/><path d="M238.5 406.1L245.5 399.0M243.6 404.8L245.5 399.0L239.7 401.0"/><path d="M255.4 406.1L262.4 399.0M260.5 404.8L262.4 399.0L256.6 401.0"/><path d="M273.9 407.2L277.7 397.9M278.1 404.1L277.7 397.9L273.1 402.0"/><path d="M292.7 407.6L292.7 397.6M295.4 403.1L292.7 397.6L289.9 403.1"/><path d="M309.6 407.6L309.6 397.6M312.3 403.1L309.6 397.6L306.8 403.1"/><path d="M326.5 407.6L326.5 397.6M329.2 403.1L326.5 397.6L323.8 403.1"/><path d="M104.7 413.6L108.9 417.9M105.1 416.6L108.9 417.9L107.6 414.0"/><path d="M121.6 417.9L125.8 413.6M124.5 417.4L125.8 413.6L122.0 414.9"/><path d="M138.5 417.9L142.7 413.6M141.4 417.4L142.7 413.6L138.9 414.9"/><path d="M155.4 417.9L159.6 413.6M158.3 417.4L159.6 413.6L155.8 414.9"/><path d="M172.3 417.9L176.5 413.6M175.2 417.4L176.5 413.6L172.7 414.9"/><path d="M189.2 417.9L193.4 413.6M192.1 417.4L193.4 413.6L189.6 414.9"/><path d="M206.1 417.9L210.3 413.6M209.0 417.4L210.3 413.6L206.5 414.9"/><path d="M223.0 417.9L227.2 413.6M225.9 417.4L227.2 413.6L223.4 414.9"/><path d="M239.9 417.9L244.1 413.6M242.8 417.4L244.1 413.6L240.3 414.9"/><path d="M256.8 417.9L261.0 413.6M259.7 417.4L261.0 413.6L257.2 414.9"/><path d="M273.7 417.9L277.9 413.6M276.6 417.4L277.9 413.6L274.1 414.9"/><path d="M290.6 417.9L294.8 413.6M293.5 417.4L294.8 413.6L291.0 414.9"/><path d="M307.5 417.9L311.7 413.6M310.4 417.4L311.7 413.6L307.9 414.9"/><path d="M326.5 418.7L326.5 412.7M328.3 416.3L326.5 412.7L324.7 416.3"/></g><path d="M88.2 383.0L91.8 383.0L91.8 302.2L95.7 302.2L90.0 288.8L84.3 302.2L88.2 302.2Z" fill="#2222ae"/><path d="M278.7 288.8L282.3 288.8L282.3 367.0L286.2 367.0L280.5 385.0L274.8 367.0L278.7 367.0Z" fill="#f0282a"/>
</g>
<g clip-path="url(#cm1)">
<g fill="none" stroke="#000" stroke-width="1.0" stroke-linejoin="round"><polyline points="391.0,282.1 394.5,280.5 399.1,281.1 403.2,281.8 405.7,281.1 406.8,279.8 408.1,277.5 408.9,275.2 410.2,272.6 411.6,270.3 411.3,267.7 412.0,266.0 412.7,263.8 410.2,263.8 407.1,263.1 405.0,264.7 401.5,265.4 399.1,265.1 396.2,263.4 393.1,263.1 391.0,264.7"/><polyline points="399.8,285.4 400.1,286.7 402.2,290.3 403.6,292.9 405.0,295.9 407.1,300.2 409.2,304.1 410.9,306.7 414.1,311.6 416.2,314.9 416.6,319.2 418.3,322.8 420.8,325.4 423.2,331.3 424.9,333.9 427.8,335.9 430.9,338.5 434.1,341.8 436.9,344.4 437.6,346.1 438.6,347.7 441.8,349.7 446.3,348.4 452.2,347.1 457.5,346.7 462.8,345.4 465.5,345.1 464.9,349.4 463.8,353.3 461.0,357.6 457.5,364.1 454.0,369.0 448.8,375.6 443.5,377.9 438.2,381.5 433.0,386.4 429.5,390.4 426.7,393.0 424.9,396.9 423.2,400.2 421.8,404.5 423.6,406.8 423.6,410.7 424.9,415.0 425.6,418.2"/><polyline points="399.8,285.4 401.5,288.0 403.6,290.6 405.7,292.6 406.8,291.0 407.8,288.7 408.1,287.0 408.9,291.6 410.6,293.9 413.8,298.5 416.2,301.8 419.7,305.1 422.5,310.0 423.2,313.3 426.0,317.5 428.8,321.5 431.2,325.4 434.1,328.7 435.4,332.0 436.1,335.3 437.2,339.5 438.2,342.1 440.7,342.5 443.5,341.8 447.0,339.8 452.2,338.2 456.5,337.9 459.2,335.9 462.8,334.6 466.2,333.6 468.7,332.0 471.9,329.4 475.0,328.4 478.5,326.7 481.0,325.1 484.1,324.1 485.9,321.8 488.3,321.2 490.8,316.9 492.5,313.9 495.3,310.3 493.5,308.7 491.1,306.4 488.3,305.4 485.1,303.4 483.4,301.1 483.0,297.9 482.4,298.5 480.2,300.2 477.1,303.8 474.3,304.8 470.1,304.4 466.6,304.4 465.5,303.1 466.6,300.8 466.2,298.8 465.2,298.2 464.1,299.8 463.8,302.5 462.8,300.5 461.7,298.5 460.6,295.9 459.2,294.9 457.1,293.3 455.8,291.0 454.0,288.7 454.0,285.7 455.8,285.4 458.2,284.4 461.4,285.1 463.1,287.0 464.5,289.3 466.6,292.3 470.1,293.9 474.0,296.2 477.5,296.9 480.6,295.9 483.0,294.9 485.5,295.9 486.5,298.8 489.7,299.8 493.5,300.5 497.8,300.8 501.6,301.1 504.8,301.1 508.2,300.8 512.1,301.1 516.3,300.5 519.1,300.5 520.5,302.5 522.2,305.4 524.7,306.1 526.5,307.7 527.8,309.7 531.0,308.7 532.0,310.0 527.2,310.7 530.0,313.3 533.8,315.9 537.0,315.2 539.4,313.9 540.5,314.6 541.2,317.5 540.8,321.5 541.5,324.8 542.5,328.0 544.0,332.0 545.3,335.3 547.1,339.5 548.2,342.1 549.9,345.4 551.3,347.7 552.7,351.0 554.1,354.6 556.2,356.6 557.6,357.2 559.7,355.3 560.4,353.3 562.8,353.3 563.5,350.0 565.3,348.4 565.7,344.4 566.7,341.2 567.0,336.2 567.0,333.0 569.2,331.6 570.5,330.0 574.0,329.0 574.4,327.7 577.9,325.4 580.7,323.4 583.8,320.5 587.0,318.5 588.8,317.2 590.5,315.2 590.5,313.3 594.0,312.6 596.5,313.0 599.2,312.0 602.8,311.6 604.5,310.0 607.3,310.3 608.0,313.9 609.0,315.9 611.5,318.2 613.6,320.5 615.7,323.1 616.8,326.4 616.0,329.7 616.8,331.3 619.2,332.0 622.0,330.3 624.8,328.7 626.9,329.4 628.0,333.0 629.0,336.2 630.4,339.5 631.1,342.8 631.5,346.1 630.8,350.0 630.0,354.3 630.0,357.6 632.2,357.9 634.6,360.8 636.7,362.8 637.4,366.4 638.8,370.7 640.5,374.3 642.7,376.3 646.2,378.2 648.2,379.5 651.0,379.2 649.7,376.9 647.9,372.6 647.9,369.7 646.5,365.4 644.0,363.5 641.2,361.5 638.8,361.2 637.0,358.5 636.0,354.6 634.2,353.3 633.2,349.7 634.2,347.1 635.7,343.8 636.0,341.2 638.1,339.5 639.5,341.8 642.0,342.5 644.0,343.8 645.8,345.4 646.8,347.7 649.0,349.4 651.8,349.7 652.8,352.6 652.8,355.6 654.2,354.9 657.7,352.6 659.8,349.7 662.2,349.4 665.0,347.7 667.5,346.1 668.2,342.8 668.5,339.5 667.8,336.2 666.5,333.6 664.7,331.3 661.9,328.7 659.1,326.4 657.0,323.4 656.0,321.5 656.7,318.9 658.8,316.6 660.8,314.9 663.7,313.3 665.8,313.0 667.8,313.3 670.3,313.3 671.7,314.9"/><polyline points="565.7,361.2 565.3,357.6 566.0,351.7 567.4,352.6 570.2,355.6 571.6,358.9 572.7,360.8 571.2,363.1 568.1,364.4 566.3,363.5 565.7,361.2"/><polyline points="619.5,365.4 621.7,365.8 627.2,366.7 630.0,370.0 632.5,372.3 635.7,374.9 637.8,376.9 640.5,377.9 643.7,379.5 646.8,382.8 648.6,386.4 651.4,388.7 653.2,391.7 656.0,394.3 656.7,398.2 656.3,402.8 654.2,402.8 652.1,403.2 649.0,399.9 645.1,397.2 642.3,394.0 639.5,391.3 638.1,388.1 636.7,385.1 633.5,381.5 631.8,378.2 629.0,374.9 626.2,373.0 623.8,370.7 621.7,368.7 619.5,365.4"/><polyline points="654.5,406.1 657.3,403.5 660.2,403.5 665.0,404.5 666.5,406.1 672.0,406.4 672.0,409.7 665.8,409.4 662.2,408.4 658.4,408.1 655.2,406.4 654.5,406.1"/><polyline points="653.8,389.0 656.3,389.0 658.0,391.7 659.5,393.6 657.3,393.6 655.6,391.7 653.8,389.0"/><polyline points="672.0,378.2 669.6,377.6 667.5,379.5 667.8,383.8 668.5,386.4 671.3,389.0 672.0,393.3"/><polyline points="672.0,317.9 670.0,318.2 666.8,320.2 666.1,323.1 669.2,324.1 672.0,322.8"/><polyline points="399.1,270.0 401.1,268.7 403.9,267.7 407.1,266.7 405.0,269.0 404.6,269.3 401.5,270.3 399.1,270.0"/><polyline points="472.5,342.5 475.4,342.1 476.8,342.8 475.4,343.5 472.9,343.5 472.5,342.5"/><polyline points="398.0,384.8 402.6,382.8 405.0,384.8 405.4,387.4 402.6,392.0 399.1,391.7 396.9,389.0 397.3,385.4 398.0,384.8"/><polyline points="411.6,368.7 412.4,372.0 413.4,375.9 414.1,375.3 413.1,372.0 412.4,368.7 411.6,368.7"/><polyline points="390.6,397.6 393.1,402.2 394.1,407.4 395.2,412.0 393.4,411.4 392.1,406.8 390.6,402.8"/><polyline points="459.2,251.9 458.5,254.2 457.5,255.9 457.1,257.8 457.5,260.8 461.0,261.5 464.5,263.1 469.8,263.4 474.6,262.8 475.0,261.5 474.6,259.2 474.3,255.9 472.2,254.9 471.5,251.9"/><polyline points="443.9,259.5 445.2,258.5 446.6,260.1 445.9,261.8 444.6,261.5 443.9,259.5"/><polyline points="435.8,257.2 437.6,256.2 438.6,257.5 436.5,258.2 435.8,257.2"/><polyline points="610.5,339.2 611.5,341.8 610.8,344.4 610.1,346.1"/><polyline points="409.9,279.5 410.6,279.8 410.2,281.5 409.9,279.5"/></g>
<circle cx="397.9" cy="363.7" r="1.4" fill="#8a8a8a"/><circle cx="397.9" cy="370.2" r="1.4" fill="#8a8a8a"/><circle cx="411.5" cy="318.0" r="1.4" fill="#8a8a8a"/><circle cx="411.5" cy="337.6" r="1.4" fill="#8a8a8a"/><circle cx="411.5" cy="344.1" r="1.4" fill="#8a8a8a"/><circle cx="411.5" cy="350.6" r="1.4" fill="#8a8a8a"/><circle cx="411.5" cy="357.1" r="1.4" fill="#8a8a8a"/><circle cx="418.3" cy="318.0" r="1.4" fill="#8a8a8a"/><circle cx="418.3" cy="337.6" r="1.4" fill="#8a8a8a"/><circle cx="418.3" cy="344.1" r="1.4" fill="#8a8a8a"/><circle cx="418.3" cy="350.6" r="1.4" fill="#8a8a8a"/><circle cx="418.3" cy="357.1" r="1.4" fill="#8a8a8a"/><circle cx="425.2" cy="298.5" r="1.4" fill="#8a8a8a"/><circle cx="425.2" cy="305.0" r="1.4" fill="#8a8a8a"/><circle cx="425.2" cy="311.5" r="1.4" fill="#8a8a8a"/><circle cx="425.2" cy="324.5" r="1.4" fill="#8a8a8a"/><circle cx="425.2" cy="331.1" r="1.4" fill="#8a8a8a"/><circle cx="425.2" cy="337.6" r="1.4" fill="#8a8a8a"/><circle cx="425.2" cy="344.1" r="1.4" fill="#8a8a8a"/><circle cx="425.2" cy="350.6" r="1.4" fill="#8a8a8a"/><circle cx="425.2" cy="357.1" r="1.4" fill="#8a8a8a"/><circle cx="432.0" cy="324.5" r="1.4" fill="#8a8a8a"/><circle cx="432.0" cy="331.1" r="1.4" fill="#8a8a8a"/><circle cx="432.0" cy="337.6" r="1.4" fill="#8a8a8a"/><circle cx="432.0" cy="344.1" r="1.4" fill="#8a8a8a"/><circle cx="432.0" cy="350.6" r="1.4" fill="#8a8a8a"/><circle cx="438.8" cy="324.5" r="1.4" fill="#8a8a8a"/><circle cx="438.8" cy="331.1" r="1.4" fill="#8a8a8a"/><circle cx="438.8" cy="337.6" r="1.4" fill="#8a8a8a"/><circle cx="438.8" cy="344.1" r="1.4" fill="#8a8a8a"/><circle cx="438.8" cy="350.6" r="1.4" fill="#8a8a8a"/><circle cx="445.7" cy="259.3" r="1.4" fill="#8a8a8a"/><circle cx="445.7" cy="265.9" r="1.4" fill="#8a8a8a"/><circle cx="445.7" cy="272.4" r="1.4" fill="#8a8a8a"/><circle cx="452.5" cy="265.9" r="1.4" fill="#8a8a8a"/><circle cx="452.5" cy="272.4" r="1.4" fill="#8a8a8a"/><circle cx="459.3" cy="265.9" r="1.4" fill="#8a8a8a"/><circle cx="459.3" cy="272.4" r="1.4" fill="#8a8a8a"/><circle cx="473.0" cy="376.7" r="1.4" fill="#8a8a8a"/><circle cx="473.0" cy="383.2" r="1.4" fill="#8a8a8a"/><circle cx="473.0" cy="389.7" r="1.4" fill="#8a8a8a"/><circle cx="479.8" cy="376.7" r="1.4" fill="#8a8a8a"/><circle cx="479.8" cy="383.2" r="1.4" fill="#8a8a8a"/><circle cx="479.8" cy="389.7" r="1.4" fill="#8a8a8a"/><circle cx="486.6" cy="376.7" r="1.4" fill="#8a8a8a"/><circle cx="486.6" cy="383.2" r="1.4" fill="#8a8a8a"/><circle cx="486.6" cy="389.7" r="1.4" fill="#8a8a8a"/><circle cx="493.5" cy="376.7" r="1.4" fill="#8a8a8a"/><circle cx="493.5" cy="383.2" r="1.4" fill="#8a8a8a"/><circle cx="493.5" cy="389.7" r="1.4" fill="#8a8a8a"/><circle cx="500.3" cy="305.0" r="1.4" fill="#8a8a8a"/><circle cx="500.3" cy="311.5" r="1.4" fill="#8a8a8a"/><circle cx="500.3" cy="318.0" r="1.4" fill="#8a8a8a"/><circle cx="500.3" cy="324.5" r="1.4" fill="#8a8a8a"/><circle cx="500.3" cy="331.1" r="1.4" fill="#8a8a8a"/><circle cx="500.3" cy="337.6" r="1.4" fill="#8a8a8a"/><circle cx="500.3" cy="344.1" r="1.4" fill="#8a8a8a"/><circle cx="500.3" cy="350.6" r="1.4" fill="#8a8a8a"/><circle cx="500.3" cy="357.1" r="1.4" fill="#8a8a8a"/><circle cx="500.3" cy="376.7" r="1.4" fill="#8a8a8a"/><circle cx="500.3" cy="383.2" r="1.4" fill="#8a8a8a"/><circle cx="500.3" cy="389.7" r="1.4" fill="#8a8a8a"/><circle cx="507.1" cy="298.5" r="1.4" fill="#8a8a8a"/><circle cx="507.1" cy="305.0" r="1.4" fill="#8a8a8a"/><circle cx="507.1" cy="311.5" r="1.4" fill="#8a8a8a"/><circle cx="507.1" cy="318.0" r="1.4" fill="#8a8a8a"/><circle cx="507.1" cy="324.5" r="1.4" fill="#8a8a8a"/><circle cx="507.1" cy="331.1" r="1.4" fill="#8a8a8a"/><circle cx="507.1" cy="337.6" r="1.4" fill="#8a8a8a"/><circle cx="507.1" cy="344.1" r="1.4" fill="#8a8a8a"/><circle cx="507.1" cy="350.6" r="1.4" fill="#8a8a8a"/><circle cx="507.1" cy="357.1" r="1.4" fill="#8a8a8a"/><circle cx="507.1" cy="363.7" r="1.4" fill="#8a8a8a"/><circle cx="507.1" cy="376.7" r="1.4" fill="#8a8a8a"/><circle cx="507.1" cy="383.2" r="1.4" fill="#8a8a8a"/><circle cx="507.1" cy="389.7" r="1.4" fill="#8a8a8a"/><circle cx="514.0" cy="291.9" r="1.4" fill="#8a8a8a"/><circle cx="514.0" cy="298.5" r="1.4" fill="#8a8a8a"/><circle cx="514.0" cy="305.0" r="1.4" fill="#8a8a8a"/><circle cx="514.0" cy="311.5" r="1.4" fill="#8a8a8a"/><circle cx="514.0" cy="318.0" r="1.4" fill="#8a8a8a"/><circle cx="514.0" cy="324.5" r="1.4" fill="#8a8a8a"/><circle cx="514.0" cy="331.1" r="1.4" fill="#8a8a8a"/><circle cx="514.0" cy="337.6" r="1.4" fill="#8a8a8a"/><circle cx="514.0" cy="344.1" r="1.4" fill="#8a8a8a"/><circle cx="514.0" cy="350.6" r="1.4" fill="#8a8a8a"/><circle cx="514.0" cy="357.1" r="1.4" fill="#8a8a8a"/><circle cx="514.0" cy="363.7" r="1.4" fill="#8a8a8a"/><circle cx="514.0" cy="376.7" r="1.4" fill="#8a8a8a"/><circle cx="514.0" cy="383.2" r="1.4" fill="#8a8a8a"/><circle cx="514.0" cy="389.7" r="1.4" fill="#8a8a8a"/><circle cx="520.8" cy="291.9" r="1.4" fill="#8a8a8a"/><circle cx="520.8" cy="298.5" r="1.4" fill="#8a8a8a"/><circle cx="520.8" cy="305.0" r="1.4" fill="#8a8a8a"/><circle cx="520.8" cy="311.5" r="1.4" fill="#8a8a8a"/><circle cx="520.8" cy="318.0" r="1.4" fill="#8a8a8a"/><circle cx="520.8" cy="324.5" r="1.4" fill="#8a8a8a"/><circle cx="520.8" cy="331.1" r="1.4" fill="#8a8a8a"/><circle cx="520.8" cy="337.6" r="1.4" fill="#8a8a8a"/><circle cx="520.8" cy="344.1" r="1.4" fill="#8a8a8a"/><circle cx="520.8" cy="350.6" r="1.4" fill="#8a8a8a"/><circle cx="520.8" cy="357.1" r="1.4" fill="#8a8a8a"/><circle cx="520.8" cy="363.7" r="1.4" fill="#8a8a8a"/><circle cx="520.8" cy="376.7" r="1.4" fill="#8a8a8a"/><circle cx="520.8" cy="383.2" r="1.4" fill="#8a8a8a"/><circle cx="520.8" cy="389.7" r="1.4" fill="#8a8a8a"/><circle cx="527.6" cy="265.9" r="1.4" fill="#8a8a8a"/><circle cx="527.6" cy="272.4" r="1.4" fill="#8a8a8a"/><circle cx="527.6" cy="278.9" r="1.4" fill="#8a8a8a"/><circle cx="527.6" cy="298.5" r="1.4" fill="#8a8a8a"/><circle cx="527.6" cy="305.0" r="1.4" fill="#8a8a8a"/><circle cx="527.6" cy="311.5" r="1.4" fill="#8a8a8a"/><circle cx="527.6" cy="318.0" r="1.4" fill="#8a8a8a"/><circle cx="527.6" cy="324.5" r="1.4" fill="#8a8a8a"/><circle cx="527.6" cy="331.1" r="1.4" fill="#8a8a8a"/><circle cx="527.6" cy="337.6" r="1.4" fill="#8a8a8a"/><circle cx="527.6" cy="344.1" r="1.4" fill="#8a8a8a"/><circle cx="527.6" cy="350.6" r="1.4" fill="#8a8a8a"/><circle cx="527.6" cy="357.1" r="1.4" fill="#8a8a8a"/><circle cx="527.6" cy="376.7" r="1.4" fill="#8a8a8a"/><circle cx="527.6" cy="383.2" r="1.4" fill="#8a8a8a"/><circle cx="527.6" cy="389.7" r="1.4" fill="#8a8a8a"/><circle cx="534.5" cy="298.5" r="1.4" fill="#8a8a8a"/><circle cx="534.5" cy="305.0" r="1.4" fill="#8a8a8a"/><circle cx="534.5" cy="311.5" r="1.4" fill="#8a8a8a"/><circle cx="534.5" cy="318.0" r="1.4" fill="#8a8a8a"/><circle cx="534.5" cy="324.5" r="1.4" fill="#8a8a8a"/><circle cx="534.5" cy="331.1" r="1.4" fill="#8a8a8a"/><circle cx="534.5" cy="337.6" r="1.4" fill="#8a8a8a"/><circle cx="534.5" cy="344.1" r="1.4" fill="#8a8a8a"/><circle cx="534.5" cy="350.6" r="1.4" fill="#8a8a8a"/><circle cx="534.5" cy="357.1" r="1.4" fill="#8a8a8a"/><circle cx="534.5" cy="376.7" r="1.4" fill="#8a8a8a"/><circle cx="534.5" cy="383.2" r="1.4" fill="#8a8a8a"/><circle cx="534.5" cy="389.7" r="1.4" fill="#8a8a8a"/><circle cx="541.3" cy="259.3" r="1.4" fill="#8a8a8a"/><circle cx="541.3" cy="298.5" r="1.4" fill="#8a8a8a"/><circle cx="541.3" cy="305.0" r="1.4" fill="#8a8a8a"/><circle cx="541.3" cy="311.5" r="1.4" fill="#8a8a8a"/><circle cx="541.3" cy="324.5" r="1.4" fill="#8a8a8a"/><circle cx="541.3" cy="331.1" r="1.4" fill="#8a8a8a"/><circle cx="541.3" cy="337.6" r="1.4" fill="#8a8a8a"/><circle cx="541.3" cy="344.1" r="1.4" fill="#8a8a8a"/><circle cx="541.3" cy="350.6" r="1.4" fill="#8a8a8a"/><circle cx="541.3" cy="357.1" r="1.4" fill="#8a8a8a"/><circle cx="541.3" cy="376.7" r="1.4" fill="#8a8a8a"/><circle cx="541.3" cy="383.2" r="1.4" fill="#8a8a8a"/><circle cx="541.3" cy="389.7" r="1.4" fill="#8a8a8a"/><circle cx="548.1" cy="259.3" r="1.4" fill="#8a8a8a"/><circle cx="548.1" cy="298.5" r="1.4" fill="#8a8a8a"/><circle cx="548.1" cy="305.0" r="1.4" fill="#8a8a8a"/><circle cx="548.1" cy="311.5" r="1.4" fill="#8a8a8a"/><circle cx="548.1" cy="324.5" r="1.4" fill="#8a8a8a"/><circle cx="548.1" cy="331.1" r="1.4" fill="#8a8a8a"/><circle cx="548.1" cy="337.6" r="1.4" fill="#8a8a8a"/><circle cx="548.1" cy="344.1" r="1.4" fill="#8a8a8a"/><circle cx="548.1" cy="350.6" r="1.4" fill="#8a8a8a"/><circle cx="548.1" cy="357.1" r="1.4" fill="#8a8a8a"/><circle cx="548.1" cy="376.7" r="1.4" fill="#8a8a8a"/><circle cx="548.1" cy="383.2" r="1.4" fill="#8a8a8a"/><circle cx="548.1" cy="389.7" r="1.4" fill="#8a8a8a"/><circle cx="554.9" cy="278.9" r="1.4" fill="#8a8a8a"/><circle cx="554.9" cy="305.0" r="1.4" fill="#8a8a8a"/><circle cx="554.9" cy="311.5" r="1.4" fill="#8a8a8a"/><circle cx="554.9" cy="324.5" r="1.4" fill="#8a8a8a"/><circle cx="554.9" cy="331.1" r="1.4" fill="#8a8a8a"/><circle cx="554.9" cy="337.6" r="1.4" fill="#8a8a8a"/><circle cx="554.9" cy="344.1" r="1.4" fill="#8a8a8a"/><circle cx="554.9" cy="350.6" r="1.4" fill="#8a8a8a"/><circle cx="554.9" cy="357.1" r="1.4" fill="#8a8a8a"/><circle cx="554.9" cy="376.7" r="1.4" fill="#8a8a8a"/><circle cx="554.9" cy="383.2" r="1.4" fill="#8a8a8a"/><circle cx="554.9" cy="389.7" r="1.4" fill="#8a8a8a"/><circle cx="561.8" cy="318.0" r="1.4" fill="#8a8a8a"/><circle cx="561.8" cy="324.5" r="1.4" fill="#8a8a8a"/><circle cx="561.8" cy="331.1" r="1.4" fill="#8a8a8a"/><circle cx="561.8" cy="337.6" r="1.4" fill="#8a8a8a"/><circle cx="561.8" cy="344.1" r="1.4" fill="#8a8a8a"/><circle cx="561.8" cy="350.6" r="1.4" fill="#8a8a8a"/><circle cx="561.8" cy="357.1" r="1.4" fill="#8a8a8a"/><circle cx="561.8" cy="376.7" r="1.4" fill="#8a8a8a"/><circle cx="561.8" cy="383.2" r="1.4" fill="#8a8a8a"/><circle cx="561.8" cy="389.7" r="1.4" fill="#8a8a8a"/><circle cx="568.6" cy="318.0" r="1.4" fill="#8a8a8a"/><circle cx="568.6" cy="324.5" r="1.4" fill="#8a8a8a"/><circle cx="568.6" cy="331.1" r="1.4" fill="#8a8a8a"/><circle cx="568.6" cy="337.6" r="1.4" fill="#8a8a8a"/><circle cx="568.6" cy="344.1" r="1.4" fill="#8a8a8a"/><circle cx="568.6" cy="350.6" r="1.4" fill="#8a8a8a"/><circle cx="568.6" cy="357.1" r="1.4" fill="#8a8a8a"/><circle cx="568.6" cy="376.7" r="1.4" fill="#8a8a8a"/><circle cx="568.6" cy="383.2" r="1.4" fill="#8a8a8a"/><circle cx="568.6" cy="389.7" r="1.4" fill="#8a8a8a"/><circle cx="575.4" cy="305.0" r="1.4" fill="#8a8a8a"/><circle cx="575.4" cy="311.5" r="1.4" fill="#8a8a8a"/><circle cx="575.4" cy="318.0" r="1.4" fill="#8a8a8a"/><circle cx="575.4" cy="324.5" r="1.4" fill="#8a8a8a"/><circle cx="575.4" cy="331.1" r="1.4" fill="#8a8a8a"/><circle cx="575.4" cy="337.6" r="1.4" fill="#8a8a8a"/><circle cx="575.4" cy="344.1" r="1.4" fill="#8a8a8a"/><circle cx="575.4" cy="350.6" r="1.4" fill="#8a8a8a"/><circle cx="575.4" cy="357.1" r="1.4" fill="#8a8a8a"/><circle cx="575.4" cy="376.7" r="1.4" fill="#8a8a8a"/><circle cx="575.4" cy="383.2" r="1.4" fill="#8a8a8a"/><circle cx="575.4" cy="389.7" r="1.4" fill="#8a8a8a"/><circle cx="582.3" cy="305.0" r="1.4" fill="#8a8a8a"/><circle cx="582.3" cy="311.5" r="1.4" fill="#8a8a8a"/><circle cx="582.3" cy="318.0" r="1.4" fill="#8a8a8a"/><circle cx="582.3" cy="324.5" r="1.4" fill="#8a8a8a"/><circle cx="582.3" cy="331.1" r="1.4" fill="#8a8a8a"/><circle cx="582.3" cy="337.6" r="1.4" fill="#8a8a8a"/><circle cx="582.3" cy="344.1" r="1.4" fill="#8a8a8a"/><circle cx="582.3" cy="350.6" r="1.4" fill="#8a8a8a"/><circle cx="582.3" cy="357.1" r="1.4" fill="#8a8a8a"/><circle cx="582.3" cy="376.7" r="1.4" fill="#8a8a8a"/><circle cx="582.3" cy="383.2" r="1.4" fill="#8a8a8a"/><circle cx="582.3" cy="389.7" r="1.4" fill="#8a8a8a"/><circle cx="589.1" cy="305.0" r="1.4" fill="#8a8a8a"/><circle cx="589.1" cy="311.5" r="1.4" fill="#8a8a8a"/><circle cx="589.1" cy="318.0" r="1.4" fill="#8a8a8a"/><circle cx="589.1" cy="324.5" r="1.4" fill="#8a8a8a"/><circle cx="589.1" cy="331.1" r="1.4" fill="#8a8a8a"/><circle cx="589.1" cy="337.6" r="1.4" fill="#8a8a8a"/><circle cx="589.1" cy="344.1" r="1.4" fill="#8a8a8a"/><circle cx="589.1" cy="350.6" r="1.4" fill="#8a8a8a"/><circle cx="589.1" cy="357.1" r="1.4" fill="#8a8a8a"/><circle cx="589.1" cy="376.7" r="1.4" fill="#8a8a8a"/><circle cx="589.1" cy="383.2" r="1.4" fill="#8a8a8a"/><circle cx="589.1" cy="389.7" r="1.4" fill="#8a8a8a"/><circle cx="595.9" cy="337.6" r="1.4" fill="#8a8a8a"/><circle cx="595.9" cy="376.7" r="1.4" fill="#8a8a8a"/><circle cx="595.9" cy="383.2" r="1.4" fill="#8a8a8a"/><circle cx="595.9" cy="389.7" r="1.4" fill="#8a8a8a"/><circle cx="595.9" cy="396.3" r="1.4" fill="#8a8a8a"/><circle cx="602.8" cy="376.7" r="1.4" fill="#8a8a8a"/><circle cx="602.8" cy="383.2" r="1.4" fill="#8a8a8a"/><circle cx="602.8" cy="389.7" r="1.4" fill="#8a8a8a"/><circle cx="602.8" cy="396.3" r="1.4" fill="#8a8a8a"/><circle cx="609.6" cy="376.7" r="1.4" fill="#8a8a8a"/><circle cx="609.6" cy="383.2" r="1.4" fill="#8a8a8a"/><circle cx="609.6" cy="389.7" r="1.4" fill="#8a8a8a"/><circle cx="609.6" cy="396.3" r="1.4" fill="#8a8a8a"/><circle cx="616.4" cy="344.1" r="1.4" fill="#8a8a8a"/><circle cx="616.4" cy="350.6" r="1.4" fill="#8a8a8a"/><circle cx="616.4" cy="376.7" r="1.4" fill="#8a8a8a"/><circle cx="616.4" cy="383.2" r="1.4" fill="#8a8a8a"/><circle cx="616.4" cy="389.7" r="1.4" fill="#8a8a8a"/><circle cx="616.4" cy="396.3" r="1.4" fill="#8a8a8a"/><circle cx="623.2" cy="376.7" r="1.4" fill="#8a8a8a"/><circle cx="623.2" cy="383.2" r="1.4" fill="#8a8a8a"/><circle cx="623.2" cy="389.7" r="1.4" fill="#8a8a8a"/><circle cx="623.2" cy="396.3" r="1.4" fill="#8a8a8a"/><circle cx="630.1" cy="376.7" r="1.4" fill="#8a8a8a"/><circle cx="630.1" cy="383.2" r="1.4" fill="#8a8a8a"/><circle cx="630.1" cy="389.7" r="1.4" fill="#8a8a8a"/><circle cx="630.1" cy="396.3" r="1.4" fill="#8a8a8a"/><circle cx="636.9" cy="376.7" r="1.4" fill="#8a8a8a"/><circle cx="636.9" cy="396.3" r="1.4" fill="#8a8a8a"/><circle cx="643.7" cy="396.3" r="1.4" fill="#8a8a8a"/><circle cx="650.6" cy="396.3" r="1.4" fill="#8a8a8a"/><g fill="none" stroke="#000" stroke-width="1.1"><ellipse cx="446" cy="355.6" rx="4" ry="6"/><ellipse cx="418" cy="382.6" rx="7" ry="7"/><ellipse cx="418" cy="382.6" rx="15" ry="14"/><path d="M398 364.6 C410 356.6 432 360.6 440 376.6 C446 390.6 436 404.6 420 408.6 C405 410.6 396 402.6 394 392.6"/><path d="M445 362.6 C450 377.6 452 392.6 448 412.6 M455 364.6 C460 380.6 462 397.6 458 414.6"/><path d="M440 344.6 C450 340.6 465 340.6 475 344.6 M438 347.6 C452 343.6 468 345.6 476 349.6 M391 352.6 C405 348.6 420 356.6 440 352.6"/></g><g stroke="#000" stroke-width="1.15" fill="none" stroke-linecap="round" stroke-linejoin="round"><path d="M422.1 269.2L429.9 277.0M425.6 275.5L429.9 277.0L428.5 272.7"/><path d="M436.1 269.2L443.9 277.0M439.6 275.5L443.9 277.0L442.5 272.7"/><path d="M501.5 273.1L490.5 273.1M494.5 271.1L490.5 273.1L494.5 275.1"/><path d="M394.1 282.9L401.9 290.6M397.6 289.2L401.9 290.6L400.5 286.4"/><path d="M422.1 282.9L429.9 290.6M425.6 289.2L429.9 290.6L428.5 286.4"/><path d="M436.1 282.9L443.9 290.6M439.6 289.2L443.9 290.6L442.5 286.4"/><path d="M450.1 282.9L457.9 290.6M453.6 289.2L457.9 290.6L456.5 286.4"/><path d="M513.9 290.6L506.1 282.9M510.4 284.3L506.1 282.9L507.5 287.1"/><path d="M395.9 295.3L400.1 305.5M396.7 302.6L400.1 305.5L400.4 301.0"/><path d="M408.1 296.5L415.9 304.3M411.6 302.9L415.9 304.3L414.5 300.1"/><path d="M422.1 296.5L429.9 304.3M425.6 302.9L429.9 304.3L428.5 300.1"/><path d="M436.1 296.5L443.9 304.3M439.6 302.9L443.9 304.3L442.5 300.1"/><path d="M451.9 295.3L456.1 305.5M452.7 302.6L456.1 305.5L456.4 301.0"/><path d="M465.9 295.3L470.1 305.5M466.7 302.6L470.1 305.5L470.4 301.0"/><path d="M515.5 300.4L504.5 300.4M508.5 298.4L504.5 300.4L508.5 302.4"/><path d="M529.5 300.4L518.5 300.4M522.5 298.4L518.5 300.4L522.5 302.4"/><path d="M543.1 302.5L532.9 298.3M537.4 298.0L532.9 298.3L535.8 301.7"/><path d="M557.5 300.4L546.5 300.4M550.5 298.4L546.5 300.4L550.5 302.4"/><path d="M562.1 296.5L569.9 304.3M565.6 302.9L569.9 304.3L568.5 300.1"/><path d="M576.1 296.5L583.9 304.3M579.6 302.9L583.9 304.3L582.5 300.1"/><path d="M661.9 305.5L666.1 295.3M666.4 299.8L666.1 295.3L662.7 298.3"/><path d="M392.5 314.1L403.5 314.1M399.5 316.1L403.5 314.1L399.5 312.1"/><path d="M422.1 310.2L429.9 318.0M425.6 316.6L429.9 318.0L428.5 313.7"/><path d="M436.1 310.2L443.9 318.0M439.6 316.6L443.9 318.0L442.5 313.7"/><path d="M450.1 310.2L457.9 318.0M453.6 316.6L457.9 318.0L456.5 313.7"/><path d="M465.9 309.0L470.1 319.2M466.7 316.2L470.1 319.2L470.4 314.7"/><path d="M504.5 314.1L515.5 314.1M511.5 316.1L515.5 314.1L511.5 312.1"/><path d="M520.1 318.0L527.9 310.2M526.5 314.4L527.9 310.2L523.6 311.6"/><path d="M534.1 318.0L541.9 310.2M540.5 314.4L541.9 310.2L537.6 311.6"/><path d="M549.9 319.2L554.1 309.0M554.4 313.5L554.1 309.0L550.7 311.9"/><path d="M568.1 319.2L563.9 309.0M567.3 311.9L563.9 309.0L563.6 313.5"/><path d="M577.9 319.2L582.1 309.0M582.4 313.5L582.1 309.0L578.7 311.9"/><path d="M664.0 319.6L664.0 308.6M666.0 312.6L664.0 308.6L662.0 312.6"/><path d="M392.5 327.8L403.5 327.8M399.5 329.8L403.5 327.8L399.5 325.8"/><path d="M423.9 322.7L428.1 332.8M424.7 329.9L428.1 332.8L428.4 328.4"/><path d="M436.1 323.9L443.9 331.6M439.6 330.2L443.9 331.6L442.5 327.4"/><path d="M450.1 323.9L457.9 331.6M453.6 330.2L457.9 331.6L456.5 327.4"/><path d="M465.9 322.7L470.1 332.8M466.7 329.9L470.1 332.8L470.4 328.4"/><path d="M476.5 327.8L487.5 327.8M483.5 329.8L487.5 327.8L483.5 325.8"/><path d="M504.9 329.9L515.1 325.6M512.2 329.0L515.1 325.6L510.6 325.3"/><path d="M520.1 331.6L527.9 323.9M526.5 328.1L527.9 323.9L523.6 325.3"/><path d="M534.1 331.6L541.9 323.9M540.5 328.1L541.9 323.9L537.6 325.3"/><path d="M548.1 331.6L555.9 323.9M554.5 328.1L555.9 323.9L551.6 325.3"/><path d="M562.1 331.6L569.9 323.9M568.5 328.1L569.9 323.9L565.6 325.3"/><path d="M576.1 331.6L583.9 323.9M582.5 328.1L583.9 323.9L579.6 325.3"/><path d="M392.5 341.4L403.5 341.4M399.5 343.4L403.5 341.4L399.5 339.4"/><path d="M406.5 341.4L417.5 341.4M413.5 343.4L417.5 341.4L413.5 339.4"/><path d="M506.1 345.3L513.9 337.5M512.5 341.8L513.9 337.5L509.6 338.9"/><path d="M521.9 346.5L526.1 336.3M526.4 340.8L526.1 336.3L522.7 339.3"/><path d="M534.1 345.3L541.9 337.5M540.5 341.8L541.9 337.5L537.6 338.9"/><path d="M548.1 345.3L555.9 337.5M554.5 341.8L555.9 337.5L551.6 338.9"/><path d="M560.9 343.5L571.1 339.3M568.2 342.7L571.1 339.3L566.6 339.0"/><path d="M574.9 343.5L585.1 339.3M582.2 342.7L585.1 339.3L580.6 339.0"/><path d="M392.5 355.1L403.5 355.1M399.5 357.1L403.5 355.1L399.5 353.1"/><path d="M454.0 349.6L454.0 360.6M452.0 356.6L454.0 360.6L456.0 356.6"/><path d="M507.9 360.2L512.1 350.0M512.4 354.5L512.1 350.0L508.7 352.9"/><path d="M521.9 360.2L526.1 350.0M526.4 354.5L526.1 350.0L522.7 352.9"/><path d="M534.1 359.0L541.9 351.2M540.5 355.4L541.9 351.2L537.6 352.6"/><path d="M546.9 357.2L557.1 353.0M554.2 356.4L557.1 353.0L552.6 352.7"/><path d="M560.9 357.2L571.1 353.0M568.2 356.4L571.1 353.0L566.6 352.7"/><path d="M574.5 355.1L585.5 355.1M581.5 357.1L585.5 355.1L581.5 353.1"/><path d="M394.1 364.9L401.9 372.6M397.6 371.2L401.9 372.6L400.5 368.4"/><path d="M408.1 364.9L415.9 372.6M411.6 371.2L415.9 372.6L414.5 368.4"/><path d="M426.0 363.3L426.0 374.3M424.0 370.3L426.0 374.3L428.0 370.3"/><path d="M440.0 363.3L440.0 374.3M438.0 370.3L440.0 374.3L442.0 370.3"/><path d="M454.0 363.3L454.0 374.3M452.0 370.3L454.0 374.3L456.0 370.3"/><path d="M465.9 363.7L470.1 373.8M466.7 370.9L470.1 373.8L470.4 369.4"/><path d="M482.0 363.3L482.0 374.3M480.0 370.3L482.0 374.3L484.0 370.3"/><path d="M496.0 374.3L496.0 363.3M498.0 367.3L496.0 363.3L494.0 367.3"/><path d="M510.0 374.3L510.0 363.3M512.0 367.3L510.0 363.3L508.0 367.3"/><path d="M524.0 374.3L524.0 363.3M526.0 367.3L524.0 363.3L522.0 367.3"/><path d="M543.5 368.8L532.5 368.8M536.5 366.8L532.5 368.8L536.5 370.8"/><path d="M557.5 368.8L546.5 368.8M550.5 366.8L546.5 368.8L550.5 370.8"/><path d="M571.5 368.8L560.5 368.8M564.5 366.8L560.5 368.8L564.5 370.8"/><path d="M585.5 368.8L574.5 368.8M578.5 366.8L574.5 368.8L578.5 370.8"/><path d="M599.5 368.8L588.5 368.8M592.5 366.8L588.5 368.8L592.5 370.8"/><path d="M613.5 368.8L602.5 368.8M606.5 366.8L602.5 368.8L606.5 370.8"/><path d="M618.1 364.9L625.9 372.6M621.6 371.2L625.9 372.6L624.5 368.4"/><path d="M401.9 378.5L394.1 386.3M395.5 382.1L394.1 386.3L398.4 384.9"/><path d="M415.9 386.3L408.1 378.5M412.4 380.0L408.1 378.5L409.5 382.8"/><path d="M440.0 376.9L440.0 387.9M438.0 383.9L440.0 387.9L442.0 383.9"/><path d="M454.0 376.9L454.0 387.9M452.0 383.9L454.0 387.9L456.0 383.9"/><path d="M462.5 382.4L473.5 382.4M469.5 384.4L473.5 382.4L469.5 380.4"/><path d="M476.5 382.4L487.5 382.4M483.5 384.4L487.5 382.4L483.5 380.4"/><path d="M492.1 386.3L499.9 378.5M498.5 382.8L499.9 378.5L495.6 380.0"/><path d="M507.9 387.5L512.1 377.3M512.4 381.8L512.1 377.3L508.7 380.3"/><path d="M524.0 387.9L524.0 376.9M526.0 380.9L524.0 376.9L522.0 380.9"/><path d="M543.5 382.4L532.5 382.4M536.5 380.4L532.5 382.4L536.5 384.4"/><path d="M557.5 382.4L546.5 382.4M550.5 380.4L546.5 382.4L550.5 384.4"/><path d="M571.5 382.4L560.5 382.4M564.5 380.4L560.5 382.4L564.5 384.4"/><path d="M585.5 382.4L574.5 382.4M578.5 380.4L574.5 382.4L578.5 384.4"/><path d="M599.5 382.4L588.5 382.4M592.5 380.4L588.5 382.4L592.5 384.4"/><path d="M613.5 382.4L602.5 382.4M606.5 380.4L602.5 382.4L606.5 384.4"/><path d="M618.1 378.5L625.9 386.3M621.6 384.9L625.9 386.3L624.5 382.1"/><path d="M401.9 400.0L394.1 392.2M398.4 393.6L394.1 392.2L395.5 396.5"/><path d="M415.9 400.0L408.1 392.2M412.4 393.6L408.1 392.2L409.5 396.5"/><path d="M429.9 392.2L422.1 400.0M423.5 395.7L422.1 400.0L426.4 398.6"/><path d="M440.0 390.6L440.0 401.6M438.0 397.6L440.0 401.6L442.0 397.6"/><path d="M454.0 390.6L454.0 401.6M452.0 397.6L454.0 401.6L456.0 397.6"/><path d="M543.5 396.1L532.5 396.1M536.5 394.1L532.5 396.1L536.5 398.1"/><path d="M557.1 394.0L546.9 398.2M549.8 394.8L546.9 398.2L551.4 398.5"/><path d="M571.1 394.0L560.9 398.2M563.8 394.8L560.9 398.2L565.4 398.5"/><path d="M585.1 394.0L574.9 398.2M577.8 394.8L574.9 398.2L579.4 398.5"/><path d="M398.0 415.3L398.0 404.3M400.0 408.3L398.0 404.3L396.0 408.3"/><path d="M408.1 413.7L415.9 405.9M414.5 410.1L415.9 405.9L411.6 407.3"/><path d="M443.9 405.9L436.1 413.7M437.5 409.4L436.1 413.7L440.4 412.2"/><path d="M543.1 407.7L532.9 411.9M535.8 408.5L532.9 411.9L537.4 412.2"/><path d="M557.1 407.7L546.9 411.9M549.8 408.5L546.9 411.9L551.4 412.2"/><path d="M571.1 407.7L560.9 411.9M563.8 408.5L560.9 411.9L565.4 412.2"/><path d="M585.1 407.7L574.9 411.9M577.8 408.5L574.9 411.9L579.4 412.2"/></g><path d="M539.5 372.6L540.0 360.6L548.0 348.6L562.7 341.9" stroke="#f42323" stroke-width="3.0" fill="none" stroke-linejoin="round"/><path d="M570.0 338.6L564.4 345.6L561.1 338.3Z" fill="#f42323"/><path d="M578.0 337.1L590.5 337.1" stroke="#f42323" stroke-width="3.0" fill="none" stroke-linejoin="round"/><path d="M598.5 337.1L590.5 341.1L590.5 333.1Z" fill="#f42323"/><path d="M608.7 394.1L598.0 394.1" stroke="#f42323" stroke-width="3.0" fill="none" stroke-linejoin="round"/><path d="M590.0 394.1L598.0 390.1L598.0 398.1Z" fill="#f42323"/><path d="M582.0 395.1L572.0 394.6L571.6 394.5" stroke="#f42323" stroke-width="3.0" fill="none" stroke-linejoin="round"/><path d="M563.7 393.1L572.3 390.6L570.9 398.5Z" fill="#f42323"/><path d="M555.5 389.1L548.2 383.2" stroke="#f42323" stroke-width="3.0" fill="none" stroke-linejoin="round"/><path d="M542.0 378.1L550.7 380.1L545.7 386.3Z" fill="#f42323"/>
<rect x="496.0" y="285.4" width="122.5" height="82.0" fill="none" stroke="#000" stroke-width="1.8"/>
</g>
<rect x="55.0" y="252.6" width="280.0" height="164.0" fill="none" stroke="#000" stroke-width="1.6"/>
<line x1="48.7" y1="252.6" x2="55.0" y2="252.6" stroke="#000" stroke-width="1.5"/>
<line x1="335.0" y1="252.6" x2="341.3" y2="252.6" stroke="#000" stroke-width="1.5"/>
<text x="36.6" y="258.6" font-size="16.9" text-anchor="end" >150</text>
<line x1="48.7" y1="277.5" x2="55.0" y2="277.5" stroke="#000" stroke-width="1.5"/>
<line x1="335.0" y1="277.5" x2="341.3" y2="277.5" stroke="#000" stroke-width="1.5"/>
<text x="36.6" y="283.5" font-size="16.9" text-anchor="end" >200</text>
<line x1="48.7" y1="296.8" x2="55.0" y2="296.8" stroke="#000" stroke-width="1.5"/>
<line x1="335.0" y1="296.8" x2="341.3" y2="296.8" stroke="#000" stroke-width="1.5"/>
<text x="36.6" y="302.8" font-size="16.9" text-anchor="end" >250</text>
<line x1="48.7" y1="312.5" x2="55.0" y2="312.5" stroke="#000" stroke-width="1.5"/>
<line x1="335.0" y1="312.5" x2="341.3" y2="312.5" stroke="#000" stroke-width="1.5"/>
<text x="36.6" y="318.5" font-size="16.9" text-anchor="end" >300</text>
<line x1="48.7" y1="337.4" x2="55.0" y2="337.4" stroke="#000" stroke-width="1.5"/>
<line x1="335.0" y1="337.4" x2="341.3" y2="337.4" stroke="#000" stroke-width="1.5"/>
<text x="36.6" y="343.4" font-size="16.9" text-anchor="end" >400</text>
<line x1="48.7" y1="356.7" x2="55.0" y2="356.7" stroke="#000" stroke-width="1.5"/>
<line x1="335.0" y1="356.7" x2="341.3" y2="356.7" stroke="#000" stroke-width="1.5"/>
<text x="36.6" y="362.7" font-size="16.9" text-anchor="end" >500</text>
<line x1="48.7" y1="385.8" x2="55.0" y2="385.8" stroke="#000" stroke-width="1.5"/>
<line x1="335.0" y1="385.8" x2="341.3" y2="385.8" stroke="#000" stroke-width="1.5"/>
<text x="36.6" y="391.8" font-size="16.9" text-anchor="end" >700</text>
<line x1="48.7" y1="402.6" x2="55.0" y2="402.6" stroke="#000" stroke-width="1.5"/>
<line x1="335.0" y1="402.6" x2="341.3" y2="402.6" stroke="#000" stroke-width="1.5"/>
<text x="36.6" y="408.6" font-size="16.9" text-anchor="end" >850</text>
<line x1="48.7" y1="416.6" x2="55.0" y2="416.6" stroke="#000" stroke-width="1.5"/>
<line x1="335.0" y1="416.6" x2="341.3" y2="416.6" stroke="#000" stroke-width="1.5"/>
<text x="36.6" y="422.6" font-size="16.9" text-anchor="end" >1000</text>
<line x1="55.0" y1="252.6" x2="55.0" y2="246.3" stroke="#000" stroke-width="1.5"/>
<line x1="55.0" y1="416.6" x2="55.0" y2="422.9" stroke="#000" stroke-width="1.5"/>
<line x1="95.0" y1="252.6" x2="95.0" y2="249.4" stroke="#000" stroke-width="1.5"/>
<line x1="95.0" y1="416.6" x2="95.0" y2="419.8" stroke="#000" stroke-width="1.5"/>
<line x1="135.0" y1="252.6" x2="135.0" y2="246.3" stroke="#000" stroke-width="1.5"/>
<line x1="135.0" y1="416.6" x2="135.0" y2="422.9" stroke="#000" stroke-width="1.5"/>
<line x1="175.0" y1="252.6" x2="175.0" y2="249.4" stroke="#000" stroke-width="1.5"/>
<line x1="175.0" y1="416.6" x2="175.0" y2="419.8" stroke="#000" stroke-width="1.5"/>
<line x1="215.0" y1="252.6" x2="215.0" y2="246.3" stroke="#000" stroke-width="1.5"/>
<line x1="215.0" y1="416.6" x2="215.0" y2="422.9" stroke="#000" stroke-width="1.5"/>
<line x1="255.0" y1="252.6" x2="255.0" y2="249.4" stroke="#000" stroke-width="1.5"/>
<line x1="255.0" y1="416.6" x2="255.0" y2="419.8" stroke="#000" stroke-width="1.5"/>
<line x1="295.0" y1="252.6" x2="295.0" y2="246.3" stroke="#000" stroke-width="1.5"/>
<line x1="295.0" y1="416.6" x2="295.0" y2="422.9" stroke="#000" stroke-width="1.5"/>
<line x1="335.0" y1="252.6" x2="335.0" y2="249.4" stroke="#000" stroke-width="1.5"/>
<line x1="335.0" y1="416.6" x2="335.0" y2="419.8" stroke="#000" stroke-width="1.5"/>
<rect x="391.0" y="252.6" width="280.0" height="164.0" fill="none" stroke="#000" stroke-width="1.6"/>
<line x1="385.0" y1="252.6" x2="391.0" y2="252.6" stroke="#000" stroke-width="1.5"/>
<line x1="671.0" y1="252.6" x2="677.0" y2="252.6" stroke="#000" stroke-width="1.5"/>
<text x="380.9" y="258.6" font-size="16.9" text-anchor="end" >40N</text>
<line x1="387.8" y1="269.0" x2="391.0" y2="269.0" stroke="#000" stroke-width="1.5"/>
<line x1="671.0" y1="269.0" x2="674.2" y2="269.0" stroke="#000" stroke-width="1.5"/>
<line x1="387.8" y1="285.4" x2="391.0" y2="285.4" stroke="#000" stroke-width="1.5"/>
<line x1="671.0" y1="285.4" x2="674.2" y2="285.4" stroke="#000" stroke-width="1.5"/>
<line x1="387.8" y1="301.8" x2="391.0" y2="301.8" stroke="#000" stroke-width="1.5"/>
<line x1="671.0" y1="301.8" x2="674.2" y2="301.8" stroke="#000" stroke-width="1.5"/>
<line x1="385.0" y1="318.2" x2="391.0" y2="318.2" stroke="#000" stroke-width="1.5"/>
<line x1="671.0" y1="318.2" x2="677.0" y2="318.2" stroke="#000" stroke-width="1.5"/>
<text x="380.9" y="324.2" font-size="16.9" text-anchor="end" >20N</text>
<line x1="387.8" y1="334.6" x2="391.0" y2="334.6" stroke="#000" stroke-width="1.5"/>
<line x1="671.0" y1="334.6" x2="674.2" y2="334.6" stroke="#000" stroke-width="1.5"/>
<line x1="387.8" y1="351.0" x2="391.0" y2="351.0" stroke="#000" stroke-width="1.5"/>
<line x1="671.0" y1="351.0" x2="674.2" y2="351.0" stroke="#000" stroke-width="1.5"/>
<line x1="387.8" y1="367.4" x2="391.0" y2="367.4" stroke="#000" stroke-width="1.5"/>
<line x1="671.0" y1="367.4" x2="674.2" y2="367.4" stroke="#000" stroke-width="1.5"/>
<line x1="385.0" y1="383.8" x2="391.0" y2="383.8" stroke="#000" stroke-width="1.5"/>
<line x1="671.0" y1="383.8" x2="677.0" y2="383.8" stroke="#000" stroke-width="1.5"/>
<text x="380.9" y="389.8" font-size="16.9" text-anchor="end" >0</text>
<line x1="387.8" y1="400.2" x2="391.0" y2="400.2" stroke="#000" stroke-width="1.5"/>
<line x1="671.0" y1="400.2" x2="674.2" y2="400.2" stroke="#000" stroke-width="1.5"/>
<line x1="387.8" y1="416.6" x2="391.0" y2="416.6" stroke="#000" stroke-width="1.5"/>
<line x1="671.0" y1="416.6" x2="674.2" y2="416.6" stroke="#000" stroke-width="1.5"/>
<line x1="391.0" y1="252.6" x2="391.0" y2="246.6" stroke="#000" stroke-width="1.5"/>
<line x1="391.0" y1="416.6" x2="391.0" y2="422.6" stroke="#000" stroke-width="1.5"/>
<line x1="426.0" y1="252.6" x2="426.0" y2="249.4" stroke="#000" stroke-width="1.5"/>
<line x1="426.0" y1="416.6" x2="426.0" y2="419.8" stroke="#000" stroke-width="1.5"/>
<line x1="461.0" y1="252.6" x2="461.0" y2="249.4" stroke="#000" stroke-width="1.5"/>
<line x1="461.0" y1="416.6" x2="461.0" y2="419.8" stroke="#000" stroke-width="1.5"/>
<line x1="496.0" y1="252.6" x2="496.0" y2="246.6" stroke="#000" stroke-width="1.5"/>
<line x1="496.0" y1="416.6" x2="496.0" y2="422.6" stroke="#000" stroke-width="1.5"/>
<line x1="531.0" y1="252.6" x2="531.0" y2="249.4" stroke="#000" stroke-width="1.5"/>
<line x1="531.0" y1="416.6" x2="531.0" y2="419.8" stroke="#000" stroke-width="1.5"/>
<line x1="566.0" y1="252.6" x2="566.0" y2="249.4" stroke="#000" stroke-width="1.5"/>
<line x1="566.0" y1="416.6" x2="566.0" y2="419.8" stroke="#000" stroke-width="1.5"/>
<line x1="601.0" y1="252.6" x2="601.0" y2="246.6" stroke="#000" stroke-width="1.5"/>
<line x1="601.0" y1="416.6" x2="601.0" y2="422.6" stroke="#000" stroke-width="1.5"/>
<line x1="636.0" y1="252.6" x2="636.0" y2="249.4" stroke="#000" stroke-width="1.5"/>
<line x1="636.0" y1="416.6" x2="636.0" y2="419.8" stroke="#000" stroke-width="1.5"/>
<line x1="671.0" y1="252.6" x2="671.0" y2="249.4" stroke="#000" stroke-width="1.5"/>
<line x1="671.0" y1="416.6" x2="671.0" y2="419.8" stroke="#000" stroke-width="1.5"/>
<text x="51.5" y="244.7" font-size="19.3" text-anchor="start" >c MT15-PI</text>
<text x="389.7" y="244.7" font-size="19.3" text-anchor="start" >d MT15-PI</text>
<g>
<rect x="55.0" y="450.5" width="280.0" height="164.0" fill="#ffffea"/>
<path fill-rule="evenodd" fill="#eaffff" d="M235.2 450.5L235.2 547.7L234.8 548.0L234.8 551.7L234.5 552.0L234.8 552.3L234.8 554.7L235.8 557.0L237.8 559.0L242.2 561.7L244.5 564.0L245.2 565.3L245.5 569.3L244.8 571.7L244.8 574.7L245.8 577.0L247.8 579.0L252.2 581.7L254.5 584.0L255.2 585.3L255.5 589.7L255.2 590.0L254.8 594.3L256.2 597.7L257.8 599.3L259.8 600.3L263.5 600.3L266.8 599.3L268.8 599.7L270.5 600.7L278.2 608.3L281.2 610.0L283.5 610.7L289.2 610.7L291.8 609.7L294.2 607.3L295.2 604.3L295.2 602.3L293.8 596.3L294.2 590.3L294.8 587.3L294.5 576.3L295.8 573.0L297.5 571.3L299.5 570.3L302.8 570.0L303.2 569.7L309.2 570.0L312.2 571.3L314.2 573.3L315.5 576.3L315.5 582.7L315.2 583.0L315.2 614.5L335.0 614.5L335.0 450.5ZM65.2 450.5L65.2 468.0L64.8 468.3L64.8 474.7L66.2 477.7L67.8 479.3L69.8 480.3L73.5 480.7L73.8 480.3L78.8 480.0L82.2 481.3L84.2 483.3L85.5 486.3L85.2 507.7L84.8 508.0L84.8 511.7L84.5 512.0L84.8 512.3L85.2 515.7L87.5 518.7L91.5 521.3L94.2 524.0L96.2 527.0L98.5 529.3L102.5 532.0L105.2 535.3L105.5 538.7L105.8 539.0L105.5 539.3L105.5 543.0L105.2 543.3L105.2 557.0L104.2 561.7L104.5 564.3L106.5 566.7L107.8 567.3L111.8 568.3L117.2 568.7L120.8 570.0L122.5 571.3L123.8 573.3L124.2 577.3L123.5 579.0L120.5 582.0L114.8 585.7L108.8 590.7L105.8 591.7L104.2 591.7L98.8 590.3L96.2 588.0L94.8 585.3L92.2 582.0L88.5 580.0L84.8 580.3L83.8 579.3L83.2 576.0L81.5 572.3L78.8 569.7L75.8 568.7L70.5 568.0L65.5 566.0L63.5 563.7L63.5 561.0L64.8 557.7L64.8 555.3L63.8 553.3L62.2 551.7L60.2 550.7L55.0 550.3L55.0 614.5L82.2 614.5L81.8 611.0L81.5 610.7L81.5 607.3L82.8 605.0L83.8 605.0L85.2 606.7L85.5 609.7L85.2 610.0L84.8 614.5L194.8 614.5L194.8 583.3L194.5 583.0L194.5 579.3L194.2 579.0L194.5 578.7L194.5 576.3L195.5 574.0L197.8 571.7L202.2 569.0L204.2 567.0L205.5 563.7L205.5 557.3L203.8 553.7L198.5 549.7L195.8 547.0L193.5 543.7L186.2 537.3L183.8 534.0L181.5 531.7L175.8 528.3L173.8 525.7L173.5 519.0L173.8 518.7L173.8 504.0L174.5 501.0L174.2 496.0L171.8 492.3L169.8 490.3L166.5 488.0L163.5 484.7L163.2 483.0L164.8 478.3L164.8 475.3L164.2 474.0L161.8 471.7L157.5 469.3L155.2 466.7L154.5 464.7L154.8 450.5Z"/>
<path fill-rule="evenodd" fill="#99eaff" d="M275.5 591.3L274.5 593.0L274.5 595.7L275.8 598.3L278.5 601.0L281.2 602.3L284.5 602.3L285.8 601.3L286.5 598.7L286.2 593.7L285.2 591.7L284.5 591.0L281.8 590.0L278.5 590.0ZM165.2 596.3L163.8 593.7L158.5 589.7L150.8 581.0L148.2 580.0L144.2 579.7L139.8 580.7L137.5 582.0L135.5 584.7L134.2 587.3L131.5 590.0L130.2 590.7L126.8 590.7L123.5 589.3L120.8 589.3L119.5 590.0L117.5 592.0L115.2 595.3L114.2 597.3L113.8 599.7L114.2 600.0L114.5 603.7L116.2 607.7L117.8 609.3L120.8 610.7L127.2 610.7L127.5 610.3L159.2 610.7L162.2 609.3L163.8 607.7L164.8 605.7L165.5 603.3L165.5 597.7ZM55.0 573.0L55.0 614.5L78.5 614.5L78.5 606.0L79.2 603.0L81.5 597.0L81.5 593.7L78.8 587.3L78.2 584.7L78.2 576.3L77.5 575.0L74.2 572.3L69.2 571.0L65.2 571.0L58.5 573.0ZM289.2 530.7L286.8 531.7L285.5 533.0L284.2 536.3L284.2 542.7L284.5 543.0L284.2 554.7L285.5 558.0L286.8 559.3L289.2 560.3L291.5 560.3L293.2 559.7L294.5 558.3L295.8 554.7L295.8 548.3L295.5 548.0L295.8 536.3L294.5 533.0L293.2 531.7L290.8 530.7ZM131.8 470.0L128.2 471.7L124.2 477.0L121.5 479.7L117.5 482.3L115.2 485.3L114.8 488.7L114.5 489.0L114.8 489.3L114.8 493.0L115.2 493.3L115.2 507.7L114.8 508.0L114.8 511.7L114.5 512.0L114.8 512.3L114.8 514.7L115.8 517.0L117.8 519.0L122.8 522.0L124.2 523.3L125.5 526.7L125.5 528.7L124.8 531.3L124.8 534.7L126.2 537.3L131.5 541.3L134.2 544.0L136.5 547.3L143.8 553.7L146.5 557.3L152.8 563.0L155.8 567.7L157.5 569.3L159.5 570.3L161.5 570.3L164.2 568.7L165.2 567.0L165.8 564.3L165.8 561.3L164.8 556.7L164.8 533.3L165.2 533.0L165.2 530.0L165.5 529.7L165.5 526.7L165.8 526.3L165.8 504.0L166.8 500.7L166.8 497.3L166.2 496.0L163.8 493.7L159.2 490.0L153.8 483.0L148.5 479.7L145.5 476.7L143.8 473.7L141.5 471.3L138.2 470.0ZM325.5 450.5L325.8 451.7L325.5 454.7L324.5 457.0L322.2 459.3L317.8 462.0L315.8 464.0L314.8 466.3L314.8 468.7L314.5 469.0L314.8 469.3L314.8 473.0L315.2 473.3L315.2 518.0L314.8 518.3L314.8 524.7L316.2 527.7L317.8 529.3L320.8 530.7L335.0 530.3L335.0 450.5Z"/>
<path fill-rule="evenodd" fill="#75d3ff" d="M71.8 574.7L66.8 574.3L64.2 575.3L59.2 578.7L55.0 579.0L55.0 614.5L76.5 614.5L76.5 605.7L78.5 597.7L78.5 593.7L75.8 584.7L75.2 578.0L74.5 576.7ZM138.8 510.0L136.2 511.3L135.2 512.7L134.5 514.7L134.5 517.3L135.2 519.0L136.5 520.3L138.5 521.0L141.2 521.0L143.5 520.0L144.5 519.0L145.5 516.7L145.5 514.3L144.5 512.0L143.5 511.0L141.2 510.0Z"/>
<path fill-rule="evenodd" fill="#3d87ff" d="M70.2 577.3L67.2 577.3L66.5 577.7L60.2 583.7L57.5 584.3L55.0 584.3L55.0 614.5L74.8 614.5L74.8 604.3L76.2 598.3L76.2 594.0L72.5 579.7Z"/>
<path fill-rule="evenodd" fill="#2857ff" d="M69.2 582.3L66.8 582.7L62.8 586.0L59.8 587.7L55.0 588.0L55.0 614.5L72.8 614.5L72.8 606.0L73.2 605.7L73.2 602.3L73.8 599.7L73.8 594.0L72.2 586.7L70.5 583.7Z"/>
<path fill-rule="evenodd" fill="#2400d8" d="M69.2 587.7L68.5 587.3L66.2 587.7L61.8 591.7L60.5 592.3L55.0 592.7L55.0 614.5L70.8 614.5L70.8 605.7L71.2 605.3L71.5 596.0L71.2 595.7L70.5 590.3Z"/>
<path fill-rule="evenodd" fill="#ffd699" d="M116.2 575.0L114.8 573.7L112.2 572.7L109.2 572.3L106.5 573.0L104.8 574.7L104.2 576.3L103.8 579.0L104.5 581.3L105.8 582.3L108.5 582.7L112.8 581.0L115.5 578.7L116.2 577.3Z"/>
<rect x="391.0" y="450.5" width="280.0" height="164.0" fill="#ffffea"/>
<path fill-rule="evenodd" fill="#eaffff" d="M391.0 590.7L392.2 591.0L395.2 590.7L397.8 589.3L402.8 583.7L410.5 580.3L411.8 579.0L412.2 578.0L411.8 576.7L410.8 575.7L408.8 574.7L406.2 574.0L397.5 573.3L394.8 572.7L391.0 572.7ZM671.0 501.7L654.8 501.3L649.8 502.7L647.5 502.7L645.5 502.0L643.2 500.3L639.5 498.7L637.8 498.3L634.2 498.7L632.2 499.7L630.8 501.0L627.5 508.0L624.8 511.0L623.2 511.7L619.5 511.7L619.2 511.3L614.5 511.7L612.8 513.0L611.2 517.0L609.5 519.0L607.2 520.3L603.5 521.0L601.8 520.3L600.8 518.3L600.8 514.7L601.5 512.7L604.2 510.7L607.2 510.3L610.2 509.3L611.5 506.3L611.5 504.0L612.2 500.7L613.8 499.3L617.8 498.3L620.2 497.0L621.5 495.7L622.8 493.0L623.2 489.0L623.5 488.7L623.2 483.7L621.8 480.7L619.5 479.0L618.5 478.7L614.2 479.0L608.5 481.7L605.2 482.7L602.5 482.3L598.5 480.3L594.2 479.0L589.8 479.3L586.5 480.3L584.5 481.3L581.8 484.0L580.8 486.0L580.2 489.3L579.8 496.7L579.2 498.3L578.2 499.3L576.5 500.0L564.5 500.0L562.8 499.3L561.8 498.0L561.5 496.3L561.5 491.0L561.8 490.7L561.5 486.7L560.5 485.0L559.2 484.0L553.2 482.3L546.2 482.3L543.8 483.0L541.2 485.3L540.2 488.7L540.2 491.0L545.5 492.0L548.2 493.0L554.5 498.3L559.5 500.7L560.5 502.0L560.5 505.0L558.2 507.7L548.5 512.3L545.2 513.3L542.8 513.0L541.5 512.3L539.8 510.7L538.8 508.3L538.2 503.7L538.5 503.3L538.5 500.3L539.5 495.0L539.5 491.7L539.2 491.3L535.8 490.7L528.8 488.0L526.8 488.0L526.5 487.7L521.8 488.0L518.5 489.0L514.8 491.3L511.8 494.3L511.2 495.7L501.5 505.0L500.2 507.3L500.2 511.0L501.2 514.3L501.2 518.0L500.8 518.3L500.8 524.7L502.8 528.3L504.5 529.7L506.8 530.7L508.5 530.7L508.8 531.0L513.5 530.7L513.8 530.3L524.2 531.0L529.8 528.7L534.8 527.7L547.2 527.7L554.2 529.3L556.8 529.3L558.2 528.7L561.5 524.7L562.8 520.0L562.8 517.7L563.5 514.3L564.2 512.7L565.8 511.0L569.5 510.7L569.8 511.0L575.2 511.3L577.5 510.3L579.8 507.7L581.5 504.0L587.2 499.0L589.8 493.0L591.2 491.0L593.5 489.0L595.2 488.3L600.8 488.3L604.5 489.7L608.8 494.0L609.8 496.0L609.8 498.3L608.8 499.3L606.5 500.3L603.2 502.7L597.8 508.3L593.8 510.3L591.5 512.7L590.5 514.7L590.5 516.7L591.2 518.3L592.5 519.7L595.5 521.0L599.2 522.0L600.5 523.3L602.5 528.3L604.2 530.0L609.2 533.0L611.2 535.3L611.8 537.7L611.8 540.3L611.2 543.7L611.5 554.7L610.2 557.7L608.2 559.7L605.2 561.0L584.2 560.7L583.8 560.3L580.5 560.3L580.2 560.0L568.8 559.7L566.5 560.3L561.8 562.7L554.5 563.0L552.5 562.3L550.5 560.7L549.5 559.0L548.8 556.7L548.8 553.3L550.8 547.3L550.5 545.0L549.2 544.0L546.8 543.3L542.2 543.0L541.8 542.7L536.8 542.7L532.8 543.7L531.5 545.0L531.2 546.7L533.2 549.3L536.8 551.3L539.5 554.0L539.8 554.7L539.8 557.7L538.2 560.3L536.5 561.3L534.8 561.7L531.8 561.7L527.2 560.7L516.8 561.0L514.2 559.7L512.5 558.0L509.8 554.0L503.2 548.0L500.2 543.3L498.5 541.7L496.5 540.7L494.5 540.7L491.8 542.3L490.5 545.0L490.5 549.3L491.5 553.7L490.5 557.0L488.2 559.3L484.5 561.7L482.2 564.0L479.5 568.0L476.2 570.7L472.8 571.0L472.5 571.3L472.2 571.0L463.5 570.7L463.2 570.3L456.8 570.3L453.8 571.7L451.5 574.3L450.5 578.0L450.5 583.0L451.2 585.7L452.2 587.7L453.8 589.3L456.8 590.7L463.2 590.7L463.5 590.3L468.2 590.3L468.5 590.0L472.2 590.0L472.5 589.7L472.8 590.0L476.2 590.3L477.5 591.0L479.8 593.3L482.5 597.7L484.5 599.7L486.8 600.7L489.2 600.7L489.5 601.0L489.8 600.7L493.5 600.7L493.8 600.3L506.8 600.3L511.2 598.7L513.8 598.3L515.5 599.0L517.2 600.7L520.2 605.3L523.2 608.3L525.2 609.3L527.5 609.3L529.8 608.0L531.8 605.0L532.5 602.7L533.2 595.7L534.8 591.7L537.8 588.7L541.2 586.3L544.2 582.0L545.8 580.3L548.2 579.0L551.8 578.0L558.5 578.0L565.2 580.3L567.5 580.0L568.5 579.0L570.5 574.7L572.8 572.0L575.2 571.0L576.5 571.0L578.5 571.7L581.2 574.3L583.2 577.3L585.5 579.0L589.8 581.0L591.5 583.0L591.2 585.3L589.2 587.3L582.2 590.7L580.5 592.3L576.8 599.0L572.5 604.0L572.2 606.7L573.2 608.7L577.8 612.3L579.5 614.5L671.0 614.5ZM609.5 582.7L609.8 581.7L611.5 580.0L613.5 579.0L617.2 578.7L621.2 580.0L622.8 581.7L623.2 583.3L622.8 584.3L620.8 586.3L617.5 587.7L613.8 587.7L611.5 586.7L609.8 585.0ZM643.8 529.3L645.8 529.3L648.8 531.3L652.2 534.7L653.2 536.7L653.2 539.7L651.2 545.0L651.2 547.7L652.2 552.3L651.8 556.0L650.2 559.0L647.2 560.7L645.5 560.7L642.8 559.3L639.2 554.0L636.2 551.3L633.2 549.7L631.8 548.3L630.8 546.3L630.8 545.0L631.5 543.3L633.8 541.0L636.2 539.7L639.2 537.0L640.5 535.0L642.2 531.0ZM624.5 520.3L626.2 520.3L628.5 521.3L630.5 523.0L631.8 525.3L631.5 528.0L629.2 530.3L626.8 531.3L624.8 531.3L622.8 530.3L621.2 528.7L620.2 526.3L620.2 524.7L621.2 522.7L622.5 521.3ZM448.5 477.0L448.2 479.0L449.2 480.3L451.5 481.7L454.2 482.3L457.8 481.7L458.8 480.7L459.5 479.0L459.5 477.3L458.5 475.3L455.8 474.0L451.8 474.7L449.8 475.7ZM521.2 465.0L521.5 466.3L522.8 467.7L526.2 469.0L528.2 469.3L533.5 471.7L535.5 471.7L536.8 471.0L538.5 468.0L538.2 464.3L536.5 462.7L533.5 461.7L527.5 461.7L527.2 462.0L523.8 462.3L522.5 463.0ZM621.2 450.5L621.2 456.7L620.5 458.3L619.2 459.3L614.5 460.3L613.2 462.0L613.5 466.7L614.2 468.0L615.8 469.7L618.5 470.0L620.2 468.7L621.2 466.7L622.2 462.0L623.5 460.7L624.5 460.3L630.8 460.3L632.5 467.7L635.2 470.7L637.2 471.7L640.5 475.3L640.8 476.3L640.8 484.7L641.8 486.7L643.5 488.3L645.8 489.7L649.2 490.7L654.8 490.7L658.5 489.3L660.2 487.7L660.8 486.3L660.8 485.0L659.8 482.7L658.8 481.7L654.8 479.3L652.2 476.7L650.8 473.3L650.8 462.3L651.2 462.0L651.2 458.7L651.5 458.3L651.5 450.5L641.5 450.5L641.5 454.7L640.5 457.0L637.8 459.3L634.5 460.3L631.2 460.3L630.8 460.0L630.8 450.5ZM600.5 450.5L600.5 454.0L601.2 455.7L602.5 457.0L605.2 458.0L608.8 458.0L610.5 456.7L611.2 454.3L611.2 450.5ZM590.5 450.5L571.8 450.5L571.8 456.7L571.2 458.3L568.5 459.7L566.8 459.7L564.5 460.3L562.8 462.0L562.8 465.3L564.2 469.0L566.5 471.3L568.5 471.7L570.5 470.3L571.8 467.0L572.8 462.0L574.2 460.7L575.2 460.3L585.2 460.7L588.5 459.0L590.2 455.7ZM548.5 450.5L548.5 453.7L549.2 455.0L550.8 456.3L555.2 458.0L559.5 458.0L560.5 457.0L561.2 454.0L561.2 450.5ZM491.2 450.5L480.2 450.5L479.8 455.3L478.8 457.3L474.2 463.0L472.8 465.7L472.8 470.7L474.5 478.3L475.5 480.0L476.8 481.0L481.5 483.3L483.8 483.0L487.2 478.3L489.2 476.3L493.5 474.0L497.5 472.7L499.8 470.7L500.8 468.0L500.5 463.7L498.5 461.3L495.8 460.0L492.5 457.3L491.2 454.3ZM391.0 450.5L391.0 469.7L393.8 469.7L396.8 470.7L400.2 474.0L402.2 477.0L404.5 479.3L408.5 482.0L410.8 484.7L411.8 487.3L411.8 494.3L412.8 499.7L413.2 505.3L412.5 507.0L409.2 510.0L408.2 511.7L408.2 512.7L409.8 514.3L416.2 517.3L418.2 519.3L419.5 523.3L419.5 526.7L419.8 527.0L419.8 539.0L419.5 539.3L419.5 541.0L418.8 541.7L413.8 543.3L411.5 545.3L410.2 548.0L410.2 552.3L410.5 553.3L412.5 556.0L414.8 557.3L416.5 557.3L417.5 556.7L418.8 553.3L419.5 542.3L420.8 541.3L431.5 541.7L432.5 542.0L434.5 544.0L435.2 546.3L435.2 549.7L434.2 554.3L434.2 556.3L434.8 559.0L436.8 560.7L438.8 560.3L440.8 558.7L442.2 556.3L442.8 554.3L442.8 549.3L444.5 547.3L445.2 547.0L448.8 547.0L451.2 547.7L454.5 549.3L456.5 549.3L458.5 548.3L460.8 545.3L466.2 540.3L468.8 537.3L470.5 534.0L470.5 529.3L470.2 528.3L470.8 525.3L473.2 522.7L477.5 520.3L480.2 518.0L480.8 516.3L480.5 513.7L478.8 511.7L473.8 508.7L470.8 505.7L469.2 503.0L466.8 501.0L465.2 500.3L455.5 500.7L453.5 499.7L452.2 498.3L449.5 493.3L446.8 491.0L444.2 490.3L439.2 492.0L436.8 492.0L433.8 489.7L430.2 484.3L429.8 482.7L430.8 478.3L430.8 475.0L430.2 473.0L428.8 471.7L426.5 471.0L423.2 469.0L421.8 467.7L420.8 465.7L420.8 464.0L420.5 463.7L422.5 455.0L422.5 450.5L411.5 450.5L411.5 454.7L410.2 458.0L408.2 460.0L406.5 460.7L405.5 460.7L403.2 459.7L400.8 457.3L399.8 454.7L399.8 450.5Z"/>
<path fill-rule="evenodd" fill="#99eaff" d="M649.8 594.0L647.8 591.0L644.8 589.3L639.5 588.3L635.8 588.3L635.5 588.0L632.5 588.0L632.2 587.7L627.8 587.7L619.2 590.3L613.8 590.7L613.5 591.0L604.2 590.7L602.2 590.0L597.8 590.0L594.2 591.3L587.5 592.3L585.2 593.7L583.5 595.3L582.2 597.7L580.2 603.3L580.2 605.3L580.8 606.7L583.2 608.7L586.5 610.7L588.8 611.3L594.2 610.7L594.5 610.3L608.2 610.3L608.5 610.0L611.5 610.0L611.8 609.7L614.8 609.7L615.2 609.3L627.5 609.3L630.5 610.0L634.2 610.0L637.5 608.7L648.5 598.7L649.8 596.3ZM512.8 580.7L511.2 582.3L510.5 584.0L510.5 587.0L511.2 589.0L513.5 591.0L517.2 592.3L519.8 595.0L521.8 599.0L523.5 601.0L524.8 601.7L526.5 601.7L527.8 600.3L528.8 598.0L529.2 595.0L528.5 592.3L527.2 590.7L523.8 588.7L522.5 587.3L520.2 582.3L518.5 580.7L516.8 580.0L514.5 580.0ZM416.8 544.7L414.2 545.0L412.2 547.7L412.2 550.7L412.8 552.0L414.5 553.3L416.2 553.0L417.5 550.7L417.8 546.3ZM557.5 513.0L556.5 512.7L553.8 513.0L550.5 515.0L548.8 517.0L547.8 519.3L548.5 521.3L549.8 522.3L551.8 523.0L554.2 523.0L556.8 521.7L558.5 519.3L559.2 516.7L558.8 514.3ZM633.2 505.0L631.8 507.7L630.8 511.3L630.8 514.7L631.2 515.7L632.8 517.7L636.8 521.0L638.5 521.7L645.8 521.7L649.2 523.0L654.5 529.7L659.2 534.0L661.2 537.0L663.2 539.0L666.8 540.7L668.8 540.7L669.2 541.0L671.0 540.7L671.0 509.3L667.2 509.3L665.2 510.0L663.2 512.3L663.2 513.0L661.2 516.7L658.8 519.0L656.2 520.0L653.5 520.0L652.5 519.7L651.2 518.3L648.8 511.7L640.8 504.3L638.2 503.0L635.8 503.0ZM520.2 494.7L519.2 497.7L519.8 499.3L522.2 501.0L525.5 501.7L531.2 501.7L532.8 500.3L533.2 497.3L532.5 495.7L530.5 493.7L528.5 492.7L524.2 492.3L521.8 493.3ZM422.2 491.7L420.2 494.0L418.8 498.0L418.5 502.7L418.2 503.0L418.2 509.3L417.8 509.7L418.2 512.3L419.5 513.3L421.2 513.7L422.5 515.0L421.5 518.0L421.2 522.0L420.8 522.3L420.5 535.3L421.2 538.3L422.5 539.7L425.2 540.3L431.2 540.3L434.2 539.3L435.5 539.3L436.5 540.3L437.8 543.7L439.2 545.0L443.2 544.7L443.5 544.3L451.5 544.3L454.5 543.3L456.2 541.7L457.2 539.7L457.8 537.0L457.5 533.3L453.5 524.0L453.2 516.0L451.5 512.3L450.2 511.0L445.8 508.3L437.8 504.3L435.8 502.0L435.2 500.0L433.5 497.3L428.5 493.0L425.2 491.3ZM613.2 483.0L610.2 485.3L609.8 488.0L612.8 491.3L614.2 492.0L616.8 492.0L618.8 489.7L619.2 485.7L617.2 483.0L616.2 482.7Z"/>
<path fill-rule="evenodd" fill="#75d3ff" d="M641.8 596.0L641.5 595.0L640.5 594.0L637.2 592.7L634.2 592.0L628.5 592.0L625.5 592.7L616.5 593.3L613.2 594.3L610.5 596.3L609.8 598.7L611.2 601.0L614.5 602.3L616.2 602.3L616.5 602.7L628.5 602.3L631.2 603.0L633.8 603.0L635.2 602.7L638.5 600.7L640.8 598.3ZM424.8 499.7L423.5 501.0L422.8 502.7L422.8 506.3L424.8 508.7L426.2 509.3L428.5 511.7L428.8 514.3L428.2 515.7L423.8 520.3L422.5 523.0L421.8 528.3L421.5 528.7L421.5 535.7L422.2 537.3L423.5 538.7L425.5 539.3L430.5 539.0L433.2 537.0L435.5 532.0L436.5 531.0L437.2 531.7L439.2 538.7L439.8 540.0L441.5 541.7L443.2 542.3L446.5 542.7L446.8 542.3L449.5 542.3L451.8 541.3L453.2 540.3L454.5 537.7L454.5 532.7L453.2 529.0L450.5 524.3L449.8 522.3L449.5 518.3L448.5 516.0L444.5 512.0L442.5 510.7L433.8 506.7L431.8 504.7L429.8 501.3L427.5 499.3Z"/>
<path fill-rule="evenodd" fill="#3d87ff" d="M434.5 512.7L433.5 513.7L432.2 516.7L430.2 518.7L426.2 521.0L425.2 522.0L423.5 525.0L422.2 531.0L422.2 534.0L423.2 536.7L425.5 538.3L428.8 538.3L430.8 537.3L431.8 536.3L433.2 533.0L433.8 524.7L435.2 522.7L437.8 522.3L439.2 523.0L440.5 524.7L440.5 528.3L440.2 528.7L439.8 533.0L440.2 533.3L440.2 535.3L441.5 538.7L442.5 539.7L444.5 540.7L448.2 540.7L450.5 539.7L451.5 538.7L452.5 536.7L452.8 535.0L452.5 532.7L451.2 529.3L446.5 523.3L445.5 520.0L445.5 518.7L444.5 516.7L441.5 514.0L437.8 512.3Z"/>
<path fill-rule="evenodd" fill="#2857ff" d="M444.8 527.3L443.2 528.3L442.2 530.3L441.8 535.0L442.8 537.3L443.8 538.3L445.5 539.0L447.2 539.0L448.8 538.3L450.2 537.0L450.8 535.3L450.8 533.3L449.5 530.3L447.2 528.0ZM429.2 523.0L427.8 523.0L425.8 524.3L423.8 528.0L423.2 530.7L423.5 535.0L425.2 537.0L426.2 537.3L428.2 537.3L430.2 536.3L431.2 535.0L431.8 532.7L431.8 529.0L431.2 525.7L430.5 524.0Z"/>
<path fill-rule="evenodd" fill="#2400d8" d="M445.2 530.7L443.8 532.3L443.8 535.0L444.8 536.3L447.2 536.7L448.5 535.3L448.5 533.0L446.8 531.0ZM426.8 526.7L425.5 528.0L424.5 530.0L424.2 533.3L425.5 535.7L428.2 536.0L430.2 534.0L430.5 530.7L429.5 527.7L428.5 526.7Z"/>
<path fill-rule="evenodd" fill="#ffd699" d="M549.2 587.0L549.8 589.3L550.8 590.3L553.2 591.3L555.5 591.3L555.8 591.7L556.2 591.3L558.2 591.3L560.8 590.0L561.8 588.7L561.8 586.0L559.8 583.7L557.8 582.7L552.8 583.0L551.5 583.7L549.8 585.3ZM560.2 549.3L559.2 549.0L556.2 549.3L553.8 551.7L553.2 553.3L553.2 555.7L554.8 558.0L556.5 558.7L557.8 558.7L560.2 557.7L561.8 556.0L562.5 554.3L562.5 552.7L561.8 551.0ZM427.8 542.7L424.2 542.7L422.5 543.3L421.5 544.3L420.8 546.7L421.2 560.7L422.5 562.3L423.5 562.7L426.5 562.3L429.5 560.3L430.8 557.7L430.8 556.7L432.8 550.7L432.8 546.0L432.2 544.7L430.5 543.3ZM531.2 535.7L531.5 537.0L533.5 538.3L536.8 539.0L540.5 539.0L540.8 539.3L544.2 539.3L544.5 539.0L548.2 538.7L550.2 537.7L550.8 536.7L550.8 535.7L549.2 533.3L546.5 532.0L543.2 531.3L538.8 531.3L535.5 532.0L532.5 533.7ZM402.5 517.7L399.2 519.3L394.5 523.7L391.0 524.0L391.0 567.0L393.5 567.0L395.5 567.7L399.2 570.0L403.8 571.3L409.8 571.7L410.2 572.0L415.8 571.7L417.2 571.0L418.5 569.3L418.8 565.0L416.5 562.3L411.2 558.7L408.2 555.7L407.5 554.3L407.5 552.3L407.2 552.0L407.5 551.7L407.8 548.3L409.8 544.7L411.5 543.0L416.2 540.3L418.2 537.7L418.5 536.0L418.2 525.7L416.8 522.0L414.5 519.7L410.8 518.3L406.8 518.0L406.5 517.7ZM544.8 499.3L543.8 500.3L542.8 502.7L542.8 505.3L543.8 507.3L545.2 508.3L546.8 508.7L548.5 508.3L551.2 507.0L552.8 505.0L552.8 503.7L552.2 502.3L550.2 500.3L547.8 499.0ZM601.2 493.3L599.8 492.7L595.8 492.7L593.5 494.7L592.5 498.0L592.5 500.0L593.2 501.7L594.5 502.3L596.8 502.0L599.5 500.3L601.5 498.3L602.5 496.7L602.5 494.7ZM500.2 477.3L496.5 477.0L492.5 478.3L490.2 480.3L488.8 482.3L487.8 485.0L487.5 488.7L488.8 493.3L492.2 497.3L494.2 498.3L496.8 498.3L500.8 496.7L503.2 494.7L504.2 492.3L504.2 484.0L503.8 483.7L503.8 482.0L502.5 479.0ZM520.8 474.7L520.2 476.7L520.2 479.3L521.5 481.7L523.8 482.7L529.8 482.7L530.8 482.3L532.2 481.0L532.2 478.0L531.2 476.0L529.2 474.0L526.8 473.0L523.2 473.0ZM602.2 463.0L600.5 464.3L599.2 468.0L599.2 473.3L599.8 474.7L601.8 476.7L604.2 477.7L607.5 477.7L610.5 476.3L611.8 475.0L612.2 473.3L608.8 465.3L607.5 463.7L604.8 462.7ZM544.2 461.7L543.2 467.7L541.8 472.0L541.8 475.3L543.2 477.0L546.2 478.0L554.2 478.3L554.5 478.0L557.2 478.0L559.2 477.3L560.5 476.3L560.8 473.0L559.8 469.0L558.2 465.0L556.2 463.0L553.2 461.7L548.2 460.7L545.5 460.7ZM520.5 450.5L520.8 455.0L522.5 456.7L525.2 457.7L526.8 457.7L527.2 458.0L539.5 457.7L540.5 457.3L541.8 455.7L541.8 450.5ZM429.8 450.5L429.8 454.7L431.5 457.3L435.2 459.3L436.5 461.0L437.5 463.0L438.5 468.3L439.5 471.3L440.5 472.7L442.8 473.7L446.5 473.7L453.5 471.7L458.2 471.7L459.8 472.3L462.5 475.0L464.2 478.7L465.5 480.0L466.8 480.3L468.5 479.3L469.5 477.0L469.5 473.7L467.8 468.0L467.8 462.7L469.2 459.0L470.8 457.0L472.5 454.0L472.8 452.3L472.5 450.5Z"/>
<path fill-rule="evenodd" fill="#ffac75" d="M398.2 561.0L397.8 564.0L398.8 566.0L400.5 567.7L403.2 569.0L406.5 569.7L410.5 569.3L413.2 568.0L413.8 566.7L413.8 565.3L412.8 563.3L409.8 560.3L405.8 558.0L404.5 557.7L401.5 558.0L399.8 559.0ZM424.2 544.0L422.5 545.7L422.2 546.7L422.2 552.0L423.8 556.3L425.2 557.3L426.8 557.3L428.8 555.3L430.8 551.7L431.5 549.3L431.5 547.3L430.8 545.7L429.8 544.7L427.2 543.7ZM412.5 521.3L407.5 521.0L407.2 521.3L403.8 521.7L401.5 523.0L396.2 527.7L393.5 528.7L391.0 528.7L391.0 542.3L395.5 542.7L398.2 544.3L401.5 548.0L402.5 548.7L404.2 548.7L406.5 546.7L407.8 544.7L410.2 542.3L414.8 539.7L416.5 538.0L417.5 535.7L417.5 528.3L416.5 525.0L415.5 523.3L414.5 522.3ZM495.2 480.0L493.2 481.0L491.2 483.3L490.5 485.0L490.5 488.7L491.2 490.3L492.8 492.3L494.8 493.3L497.5 493.3L499.5 492.3L501.2 490.0L501.5 484.7L500.5 482.0L499.2 480.7L497.8 480.0ZM549.8 467.0L548.2 469.0L548.5 472.3L549.5 473.0L552.8 473.0L553.5 472.7L554.5 471.3L554.2 468.3L552.5 467.0ZM441.2 461.3L441.2 466.0L442.8 469.3L445.2 470.7L448.2 471.0L456.5 469.3L461.8 469.3L462.8 469.0L463.8 467.3L463.8 462.0L463.5 461.0L461.8 459.0L460.2 458.3L456.5 458.0L456.2 457.7L446.5 457.7L442.8 459.0Z"/>
<path fill-rule="evenodd" fill="#ff3d3d" d="M402.2 563.0L402.2 565.0L404.8 567.0L408.2 567.0L409.8 565.3L408.8 563.0L405.8 561.3L403.5 561.7ZM425.5 545.0L423.5 547.0L423.5 550.7L424.8 553.0L427.2 553.3L429.5 550.7L429.8 547.3L429.2 546.0L428.2 545.3ZM416.2 528.0L415.2 526.0L413.5 524.3L411.8 523.7L408.5 523.7L404.5 524.7L400.8 527.0L395.5 532.0L393.2 533.0L391.0 533.0L391.0 538.0L394.5 538.3L397.5 540.0L401.8 543.7L403.5 544.3L404.8 544.3L406.8 543.3L410.2 540.7L413.5 539.0L415.5 537.3L416.2 536.3L416.8 533.7L416.8 531.3ZM495.8 483.0L494.8 483.3L493.8 484.3L493.2 485.7L493.2 487.0L494.2 489.0L495.2 489.7L496.8 489.7L498.5 488.0L498.8 485.7L497.8 483.7ZM444.2 464.3L444.8 466.7L446.2 468.0L448.2 468.7L454.8 467.7L457.5 466.7L459.2 465.0L459.2 463.7L457.8 462.0L455.8 461.0L453.2 460.3L449.2 460.3L446.8 461.0L444.8 462.7Z"/>
<path fill-rule="evenodd" fill="#f72735" d="M426.2 547.0L425.2 548.7L425.8 550.0L426.8 550.0L427.5 549.3L427.5 547.7ZM413.2 526.7L409.8 526.0L405.8 527.0L402.8 528.7L400.5 531.0L398.8 533.7L398.5 535.7L399.5 538.0L401.8 540.3L403.8 541.3L405.2 541.3L413.5 537.3L415.5 534.7L415.5 530.3L414.5 528.0Z"/>
<path fill-rule="evenodd" fill="#a50021" d="M413.2 529.7L412.2 529.0L409.2 529.0L404.8 531.0L402.8 533.3L402.5 534.3L402.8 536.7L404.5 538.0L406.5 538.0L410.5 537.0L412.5 536.0L413.5 535.0L414.2 533.3L413.8 530.7Z"/>
</g>
<clipPath id="cw2"><rect x="55.0" y="450.5" width="280.0" height="164.0"/></clipPath>
<clipPath id="cm2"><rect x="391.0" y="450.5" width="280.0" height="164.0"/></clipPath>
<g clip-path="url(#cw2)">
<path d="M55.0 570.0L75.0 570.0L75.0 614.6L55.0 614.6Z" fill="#eaffff"/><path d="M55.0 580.0L58.0 578.0L61.0 590.0L61.0 614.6L55.0 614.6Z" fill="#2400d8"/><path d="M63.5 576.0L68.0 574.0L71.0 590.0L71.0 614.6L63.5 614.6Z" fill="#2400d8"/><path d="M70.5 532.0L73.5 532.0L73.5 614.6L70.5 614.6Z" fill="#ffd699"/><path d="M71.3 570.0L73.0 570.0L73.0 614.6L71.3 614.6Z" fill="#ff3d3d"/><circle cx="69.3" cy="575.0" r="1.3" fill="#8a8a8a"/><circle cx="69.3" cy="586.9" r="1.3" fill="#8a8a8a"/><circle cx="69.3" cy="596.9" r="1.3" fill="#8a8a8a"/><circle cx="69.3" cy="605.2" r="1.3" fill="#8a8a8a"/><g stroke="#000" stroke-width="1.6" fill="none" stroke-linecap="round" stroke-linejoin="round"><path d="M77.0 475.4L69.0 475.4M73.8 473.0L69.0 475.4L73.8 477.8"/><path d="M95.9 475.4L83.9 475.4M89.4 472.6L83.9 475.4L89.4 478.1"/><path d="M113.8 475.4L99.8 475.4M105.3 472.6L99.8 475.4L105.3 478.1"/><path d="M131.2 475.4L116.2 475.4M121.7 472.6L116.2 475.4L121.7 478.1"/><path d="M148.6 475.4L132.6 475.4M138.1 472.6L132.6 475.4L138.1 478.1"/><path d="M166.0 475.4L149.0 475.4M154.5 472.6L149.0 475.4L154.5 478.1"/><path d="M183.2 477.1L165.6 473.6M171.5 472.0L165.6 473.6L170.4 477.4"/><path d="M200.1 477.1L182.5 473.6M188.4 472.0L182.5 473.6L187.3 477.4"/><path d="M218.0 477.3L198.4 473.4M204.3 471.8L198.4 473.4L203.2 477.2"/><path d="M234.9 477.3L215.3 473.4M221.2 471.8L215.3 473.4L220.1 477.2"/><path d="M251.8 477.3L232.2 473.4M238.1 471.8L232.2 473.4L237.0 477.2"/><path d="M268.7 477.3L249.1 473.4M255.0 471.8L249.1 473.4L253.9 477.2"/><path d="M285.6 477.3L266.0 473.4M271.9 471.8L266.0 473.4L270.8 477.2"/><path d="M302.5 477.3L282.9 473.4M288.8 471.8L282.9 473.4L287.7 477.2"/><path d="M319.4 477.3L299.8 473.4M305.7 471.8L299.8 473.4L304.6 477.2"/><path d="M336.3 477.3L316.7 473.4M322.6 471.8L316.7 473.4L321.5 477.2"/><path d="M73.0 506.4L73.0 514.4M70.6 509.6L73.0 514.4L75.4 509.6"/><path d="M89.9 506.4L89.9 514.4M87.5 509.6L89.9 514.4L92.3 509.6"/><path d="M106.8 506.4L106.8 514.4M104.4 509.6L106.8 514.4L109.2 509.6"/><path d="M125.4 514.6L122.0 506.3M126.5 510.2L122.0 506.3L121.5 512.3"/><path d="M142.5 515.0L138.7 505.8M143.3 509.8L138.7 505.8L138.3 511.9"/><path d="M159.6 515.5L155.4 505.3M160.0 509.4L155.4 505.3L155.0 511.5"/><path d="M178.6 514.7L170.2 506.2M176.0 508.1L170.2 506.2L172.1 512.0"/><path d="M195.5 514.7L187.1 506.2M192.9 508.1L187.1 506.2L189.0 512.0"/><path d="M212.4 514.7L204.0 506.2M209.8 508.1L204.0 506.2L205.9 512.0"/><path d="M229.7 515.0L220.5 505.8M226.3 507.8L220.5 505.8L222.4 511.7"/><path d="M246.6 515.0L237.4 505.8M243.2 507.8L237.4 505.8L239.3 511.7"/><path d="M263.5 515.0L254.3 505.8M260.1 507.8L254.3 505.8L256.2 511.7"/><path d="M280.4 515.0L271.2 505.8M277.0 507.8L271.2 505.8L273.1 511.7"/><path d="M297.3 515.0L288.1 505.8M293.9 507.8L288.1 505.8L290.0 511.7"/><path d="M314.2 515.0L305.0 505.8M310.8 507.8L305.0 505.8L306.9 511.7"/><path d="M331.1 515.0L321.9 505.8M327.7 507.8L321.9 505.8L323.8 511.7"/><path d="M68.8 531.0L77.2 539.5M71.4 537.6L77.2 539.5L75.3 533.7"/><path d="M85.7 531.0L94.1 539.5M88.3 537.6L94.1 539.5L92.2 533.7"/><path d="M102.6 531.0L111.0 539.5M105.2 537.6L111.0 539.5L109.1 533.7"/><path d="M117.7 535.3L129.7 535.3M124.2 538.0L129.7 535.3L124.2 532.5"/><path d="M134.6 535.3L146.6 535.3M141.1 538.0L146.6 535.3L141.1 532.5"/><path d="M151.5 535.3L163.5 535.3M158.0 538.0L163.5 535.3L158.0 532.5"/><path d="M168.9 537.6L179.9 533.0M175.9 537.6L179.9 533.0L173.8 532.6"/><path d="M187.1 539.5L195.5 531.0M193.6 536.9L195.5 531.0L189.7 533.0"/><path d="M205.9 540.8L210.5 529.7M210.9 535.9L210.5 529.7L205.9 533.8"/><path d="M225.1 541.3L225.1 529.3M227.8 534.8L225.1 529.3L222.3 534.8"/><path d="M242.0 541.3L242.0 529.3M244.8 534.8L242.0 529.3L239.2 534.8"/><path d="M258.9 541.3L258.9 529.3M261.6 534.8L258.9 529.3L256.1 534.8"/><path d="M278.1 540.8L273.5 529.7M278.1 533.8L273.5 529.7L273.1 535.9"/><path d="M296.9 539.5L288.5 531.0M294.3 533.0L288.5 531.0L290.4 536.9"/><path d="M313.8 539.5L305.4 531.0M311.2 533.0L305.4 531.0L307.3 536.9"/><path d="M330.7 539.5L322.3 531.0M328.1 533.0L322.3 531.0L324.2 536.9"/><path d="M68.4 550.0L77.6 559.2M71.8 557.2L77.6 559.2L75.7 553.3"/><path d="M85.3 550.0L94.5 559.2M88.7 557.2L94.5 559.2L92.6 553.3"/><path d="M102.2 550.0L111.4 559.2M105.6 557.2L111.4 559.2L109.5 553.3"/><path d="M117.2 554.6L130.2 554.6M124.7 557.3L130.2 554.6L124.7 551.8"/><path d="M134.1 554.6L147.1 554.6M141.6 557.3L147.1 554.6L141.6 551.8"/><path d="M151.0 554.6L164.0 554.6M158.5 557.3L164.0 554.6L158.5 551.8"/><path d="M168.4 557.1L180.4 552.1M176.4 556.7L180.4 552.1L174.3 551.7"/><path d="M186.7 559.2L195.9 550.0M194.0 555.8L195.9 550.0L190.1 551.9"/><path d="M203.6 559.2L212.8 550.0M210.9 555.8L212.8 550.0L207.0 551.9"/><path d="M220.5 559.2L229.7 550.0M227.8 555.8L229.7 550.0L223.9 551.9"/><path d="M239.5 560.6L244.5 548.6M244.9 554.7L244.5 548.6L239.8 552.6"/><path d="M256.4 560.6L261.4 548.6M261.8 554.7L261.4 548.6L256.7 552.6"/><path d="M275.8 561.1L275.8 548.1M278.5 553.6L275.8 548.1L273.0 553.6"/><path d="M292.7 561.1L292.7 548.1M295.4 553.6L292.7 548.1L289.9 553.6"/><path d="M309.6 561.1L309.6 548.1M312.3 553.6L309.6 548.1L306.8 553.6"/><path d="M326.5 561.1L326.5 548.1M329.2 553.6L326.5 548.1L323.8 553.6"/><path d="M68.4 579.1L77.6 588.3M71.8 586.3L77.6 588.3L75.7 582.4"/><path d="M85.3 579.1L94.5 588.3M88.7 586.3L94.5 588.3L92.6 582.4"/><path d="M102.2 579.1L111.4 588.3M105.6 586.3L111.4 588.3L109.5 582.4"/><path d="M117.2 583.7L130.2 583.7M124.7 586.4L130.2 583.7L124.7 580.9"/><path d="M134.1 583.7L147.1 583.7M141.6 586.4L147.1 583.7L141.6 580.9"/><path d="M151.5 586.2L163.5 581.2M159.5 585.8L163.5 581.2L157.4 580.7"/><path d="M168.4 586.2L180.4 581.2M176.4 585.8L180.4 581.2L174.3 580.7"/><path d="M185.3 586.2L197.3 581.2M193.3 585.8L197.3 581.2L191.2 580.7"/><path d="M202.2 586.2L214.2 581.2M210.2 585.8L214.2 581.2L208.1 580.7"/><path d="M219.1 586.2L231.1 581.2M227.1 585.8L231.1 581.2L225.0 580.7"/><path d="M236.0 586.2L248.0 581.2M244.0 585.8L248.0 581.2L241.9 580.7"/><path d="M252.9 586.2L264.9 581.2M260.9 585.8L264.9 581.2L258.8 580.7"/><path d="M269.8 586.2L281.8 581.2M277.8 585.8L281.8 581.2L275.7 580.7"/><path d="M286.7 586.2L298.7 581.2M294.7 585.8L298.7 581.2L292.6 580.7"/><path d="M303.6 586.2L315.6 581.2M311.6 585.8L315.6 581.2L309.5 580.7"/><path d="M321.9 588.3L331.1 579.1M329.2 584.9L331.1 579.1L325.3 581.0"/><path d="M73.0 605.5L73.0 595.5M75.8 601.0L73.0 595.5L70.2 601.0"/><path d="M86.4 596.9L93.4 604.0M87.6 602.0L93.4 604.0L91.5 598.2"/><path d="M104.9 595.8L108.7 605.1M104.1 601.0L108.7 605.1L109.1 598.9"/><path d="M118.7 600.5L128.7 600.5M123.2 603.2L128.7 600.5L123.2 597.7"/><path d="M137.1 604.0L144.1 596.9M142.2 602.7L144.1 596.9L138.3 598.9"/><path d="M154.0 604.0L161.0 596.9M159.1 602.7L161.0 596.9L155.2 598.9"/><path d="M170.9 604.0L177.9 596.9M176.0 602.7L177.9 596.9L172.1 598.9"/><path d="M187.8 604.0L194.8 596.9M192.9 602.7L194.8 596.9L189.0 598.9"/><path d="M204.7 604.0L211.7 596.9M209.8 602.7L211.7 596.9L205.9 598.9"/><path d="M221.6 604.0L228.6 596.9M226.7 602.7L228.6 596.9L222.8 598.9"/><path d="M238.5 604.0L245.5 596.9M243.6 602.7L245.5 596.9L239.7 598.9"/><path d="M255.4 604.0L262.4 596.9M260.5 602.7L262.4 596.9L256.6 598.9"/><path d="M273.9 605.1L277.7 595.8M278.1 602.0L277.7 595.8L273.1 599.9"/><path d="M292.7 605.5L292.7 595.5M295.4 601.0L292.7 595.5L289.9 601.0"/><path d="M309.6 605.5L309.6 595.5M312.3 601.0L309.6 595.5L306.8 601.0"/><path d="M326.5 605.5L326.5 595.5M329.2 601.0L326.5 595.5L323.8 601.0"/><path d="M104.7 611.5L108.9 615.8M105.1 614.5L108.9 615.8L107.6 611.9"/><path d="M121.6 615.8L125.8 611.5M124.5 615.3L125.8 611.5L122.0 612.8"/><path d="M138.5 615.8L142.7 611.5M141.4 615.3L142.7 611.5L138.9 612.8"/><path d="M155.4 615.8L159.6 611.5M158.3 615.3L159.6 611.5L155.8 612.8"/><path d="M172.3 615.8L176.5 611.5M175.2 615.3L176.5 611.5L172.7 612.8"/><path d="M189.2 615.8L193.4 611.5M192.1 615.3L193.4 611.5L189.6 612.8"/><path d="M206.1 615.8L210.3 611.5M209.0 615.3L210.3 611.5L206.5 612.8"/><path d="M223.0 615.8L227.2 611.5M225.9 615.3L227.2 611.5L223.4 612.8"/><path d="M239.9 615.8L244.1 611.5M242.8 615.3L244.1 611.5L240.3 612.8"/><path d="M256.8 615.8L261.0 611.5M259.7 615.3L261.0 611.5L257.2 612.8"/><path d="M273.7 615.8L277.9 611.5M276.6 615.3L277.9 611.5L274.1 612.8"/><path d="M290.6 615.8L294.8 611.5M293.5 615.3L294.8 611.5L291.0 612.8"/><path d="M307.5 615.8L311.7 611.5M310.4 615.3L311.7 611.5L307.9 612.8"/><path d="M326.5 616.6L326.5 610.6M328.3 614.2L326.5 610.6L324.7 614.2"/></g>
</g>
<g clip-path="url(#cm2)">
<g fill="none" stroke="#000" stroke-width="1.0" stroke-linejoin="round"><polyline points="391.0,480.0 394.5,478.4 399.1,479.0 403.2,479.7 405.7,479.0 406.8,477.7 408.1,475.4 408.9,473.1 410.2,470.5 411.6,468.2 411.3,465.6 412.0,463.9 412.7,461.7 410.2,461.7 407.1,461.0 405.0,462.6 401.5,463.3 399.1,463.0 396.2,461.3 393.1,461.0 391.0,462.6"/><polyline points="399.8,483.3 400.1,484.6 402.2,488.2 403.6,490.8 405.0,493.8 407.1,498.1 409.2,502.0 410.9,504.6 414.1,509.5 416.2,512.8 416.6,517.1 418.3,520.7 420.8,523.3 423.2,529.2 424.9,531.8 427.8,533.8 430.9,536.4 434.1,539.7 436.9,542.3 437.6,544.0 438.6,545.6 441.8,547.6 446.3,546.3 452.2,545.0 457.5,544.6 462.8,543.3 465.5,543.0 464.9,547.3 463.8,551.2 461.0,555.5 457.5,562.0 454.0,566.9 448.8,573.5 443.5,575.8 438.2,579.4 433.0,584.3 429.5,588.3 426.7,590.9 424.9,594.8 423.2,598.1 421.8,602.4 423.6,604.7 423.6,608.6 424.9,612.9 425.6,616.1"/><polyline points="399.8,483.3 401.5,485.9 403.6,488.5 405.7,490.5 406.8,488.9 407.8,486.6 408.1,484.9 408.9,489.5 410.6,491.8 413.8,496.4 416.2,499.7 419.7,503.0 422.5,507.9 423.2,511.2 426.0,515.4 428.8,519.4 431.2,523.3 434.1,526.6 435.4,529.9 436.1,533.2 437.2,537.4 438.2,540.0 440.7,540.4 443.5,539.7 447.0,537.7 452.2,536.1 456.5,535.8 459.2,533.8 462.8,532.5 466.2,531.5 468.7,529.9 471.9,527.3 475.0,526.3 478.5,524.6 481.0,523.0 484.1,522.0 485.9,519.7 488.3,519.1 490.8,514.8 492.5,511.8 495.3,508.2 493.5,506.6 491.1,504.3 488.3,503.3 485.1,501.3 483.4,499.0 483.0,495.8 482.4,496.4 480.2,498.1 477.1,501.7 474.3,502.7 470.1,502.3 466.6,502.3 465.5,501.0 466.6,498.7 466.2,496.7 465.2,496.1 464.1,497.7 463.8,500.4 462.8,498.4 461.7,496.4 460.6,493.8 459.2,492.8 457.1,491.2 455.8,488.9 454.0,486.6 454.0,483.6 455.8,483.3 458.2,482.3 461.4,483.0 463.1,484.9 464.5,487.2 466.6,490.2 470.1,491.8 474.0,494.1 477.5,494.8 480.6,493.8 483.0,492.8 485.5,493.8 486.5,496.7 489.7,497.7 493.5,498.4 497.8,498.7 501.6,499.0 504.8,499.0 508.2,498.7 512.1,499.0 516.3,498.4 519.1,498.4 520.5,500.4 522.2,503.3 524.7,504.0 526.5,505.6 527.8,507.6 531.0,506.6 532.0,507.9 527.2,508.6 530.0,511.2 533.8,513.8 537.0,513.1 539.4,511.8 540.5,512.5 541.2,515.4 540.8,519.4 541.5,522.7 542.5,525.9 544.0,529.9 545.3,533.2 547.1,537.4 548.2,540.0 549.9,543.3 551.3,545.6 552.7,548.9 554.1,552.5 556.2,554.5 557.6,555.1 559.7,553.2 560.4,551.2 562.8,551.2 563.5,547.9 565.3,546.3 565.7,542.3 566.7,539.1 567.0,534.1 567.0,530.9 569.2,529.5 570.5,527.9 574.0,526.9 574.4,525.6 577.9,523.3 580.7,521.3 583.8,518.4 587.0,516.4 588.8,515.1 590.5,513.1 590.5,511.2 594.0,510.5 596.5,510.9 599.2,509.9 602.8,509.5 604.5,507.9 607.3,508.2 608.0,511.8 609.0,513.8 611.5,516.1 613.6,518.4 615.7,521.0 616.8,524.3 616.0,527.6 616.8,529.2 619.2,529.9 622.0,528.2 624.8,526.6 626.9,527.3 628.0,530.9 629.0,534.1 630.4,537.4 631.1,540.7 631.5,544.0 630.8,547.9 630.0,552.2 630.0,555.5 632.2,555.8 634.6,558.7 636.7,560.7 637.4,564.3 638.8,568.6 640.5,572.2 642.7,574.2 646.2,576.1 648.2,577.4 651.0,577.1 649.7,574.8 647.9,570.5 647.9,567.6 646.5,563.3 644.0,561.4 641.2,559.4 638.8,559.1 637.0,556.4 636.0,552.5 634.2,551.2 633.2,547.6 634.2,545.0 635.7,541.7 636.0,539.1 638.1,537.4 639.5,539.7 642.0,540.4 644.0,541.7 645.8,543.3 646.8,545.6 649.0,547.3 651.8,547.6 652.8,550.5 652.8,553.5 654.2,552.8 657.7,550.5 659.8,547.6 662.2,547.3 665.0,545.6 667.5,544.0 668.2,540.7 668.5,537.4 667.8,534.1 666.5,531.5 664.7,529.2 661.9,526.6 659.1,524.3 657.0,521.3 656.0,519.4 656.7,516.8 658.8,514.5 660.8,512.8 663.7,511.2 665.8,510.9 667.8,511.2 670.3,511.2 671.7,512.8"/><polyline points="565.7,559.1 565.3,555.5 566.0,549.6 567.4,550.5 570.2,553.5 571.6,556.8 572.7,558.7 571.2,561.0 568.1,562.3 566.3,561.4 565.7,559.1"/><polyline points="619.5,563.3 621.7,563.7 627.2,564.6 630.0,567.9 632.5,570.2 635.7,572.8 637.8,574.8 640.5,575.8 643.7,577.4 646.8,580.7 648.6,584.3 651.4,586.6 653.2,589.6 656.0,592.2 656.7,596.1 656.3,600.7 654.2,600.7 652.1,601.1 649.0,597.8 645.1,595.1 642.3,591.9 639.5,589.2 638.1,586.0 636.7,583.0 633.5,579.4 631.8,576.1 629.0,572.8 626.2,570.9 623.8,568.6 621.7,566.6 619.5,563.3"/><polyline points="654.5,604.0 657.3,601.4 660.2,601.4 665.0,602.4 666.5,604.0 672.0,604.3 672.0,607.6 665.8,607.3 662.2,606.3 658.4,606.0 655.2,604.3 654.5,604.0"/><polyline points="653.8,586.9 656.3,586.9 658.0,589.6 659.5,591.5 657.3,591.5 655.6,589.6 653.8,586.9"/><polyline points="672.0,576.1 669.6,575.5 667.5,577.4 667.8,581.7 668.5,584.3 671.3,586.9 672.0,591.2"/><polyline points="672.0,515.8 670.0,516.1 666.8,518.1 666.1,521.0 669.2,522.0 672.0,520.7"/><polyline points="399.1,467.9 401.1,466.6 403.9,465.6 407.1,464.6 405.0,466.9 404.6,467.2 401.5,468.2 399.1,467.9"/><polyline points="472.5,540.4 475.4,540.0 476.8,540.7 475.4,541.4 472.9,541.4 472.5,540.4"/><polyline points="398.0,582.7 402.6,580.7 405.0,582.7 405.4,585.3 402.6,589.9 399.1,589.6 396.9,586.9 397.3,583.3 398.0,582.7"/><polyline points="411.6,566.6 412.4,569.9 413.4,573.8 414.1,573.2 413.1,569.9 412.4,566.6 411.6,566.6"/><polyline points="390.6,595.5 393.1,600.1 394.1,605.3 395.2,609.9 393.4,609.3 392.1,604.7 390.6,600.7"/><polyline points="459.2,449.8 458.5,452.1 457.5,453.8 457.1,455.7 457.5,458.7 461.0,459.4 464.5,461.0 469.8,461.3 474.6,460.7 475.0,459.4 474.6,457.1 474.3,453.8 472.2,452.8 471.5,449.8"/><polyline points="443.9,457.4 445.2,456.4 446.6,458.0 445.9,459.7 444.6,459.4 443.9,457.4"/><polyline points="435.8,455.1 437.6,454.1 438.6,455.4 436.5,456.1 435.8,455.1"/><polyline points="610.5,537.1 611.5,539.7 610.8,542.3 610.1,544.0"/><polyline points="409.9,477.4 410.6,477.7 410.2,479.4 409.9,477.4"/></g>
<circle cx="397.9" cy="535.5" r="1.4" fill="#8a8a8a"/><circle cx="404.7" cy="522.4" r="1.4" fill="#8a8a8a"/><circle cx="404.7" cy="529.0" r="1.4" fill="#8a8a8a"/><circle cx="404.7" cy="535.5" r="1.4" fill="#8a8a8a"/><circle cx="404.7" cy="561.6" r="1.4" fill="#8a8a8a"/><circle cx="404.7" cy="568.1" r="1.4" fill="#8a8a8a"/><circle cx="411.5" cy="535.5" r="1.4" fill="#8a8a8a"/><circle cx="418.3" cy="535.5" r="1.4" fill="#8a8a8a"/><circle cx="425.2" cy="522.4" r="1.4" fill="#8a8a8a"/><circle cx="425.2" cy="529.0" r="1.4" fill="#8a8a8a"/><circle cx="425.2" cy="535.5" r="1.4" fill="#8a8a8a"/><circle cx="425.2" cy="542.0" r="1.4" fill="#8a8a8a"/><circle cx="425.2" cy="548.5" r="1.4" fill="#8a8a8a"/><circle cx="432.0" cy="515.9" r="1.4" fill="#8a8a8a"/><circle cx="438.8" cy="515.9" r="1.4" fill="#8a8a8a"/><circle cx="445.7" cy="463.8" r="1.4" fill="#8a8a8a"/><circle cx="445.7" cy="470.3" r="1.4" fill="#8a8a8a"/><circle cx="445.7" cy="522.4" r="1.4" fill="#8a8a8a"/><circle cx="445.7" cy="529.0" r="1.4" fill="#8a8a8a"/><circle cx="445.7" cy="535.5" r="1.4" fill="#8a8a8a"/><circle cx="452.5" cy="463.8" r="1.4" fill="#8a8a8a"/><circle cx="452.5" cy="470.3" r="1.4" fill="#8a8a8a"/><circle cx="459.3" cy="463.8" r="1.4" fill="#8a8a8a"/><circle cx="459.3" cy="470.3" r="1.4" fill="#8a8a8a"/><circle cx="493.5" cy="483.3" r="1.4" fill="#8a8a8a"/><circle cx="493.5" cy="489.8" r="1.4" fill="#8a8a8a"/><circle cx="500.3" cy="483.3" r="1.4" fill="#8a8a8a"/><circle cx="500.3" cy="489.8" r="1.4" fill="#8a8a8a"/><g fill="none" stroke="#000" stroke-width="1.1" stroke-linecap="round"><path d="M451.9 545.5 C456.0 535.0 470.0 535.0 471.0 543.0 C471.0 550.0 463.0 555.0 449.5 557.0"/><path d="M446.0 538.0 C455.0 528.0 482.0 530.0 480.0 542.0 C479.0 552.0 470.0 560.0 455.0 563.0"/><path d="M455.0 526.0 C475.0 522.0 492.0 535.0 489.0 545.0 C487.0 553.0 480.0 560.0 470.0 568.0"/><path d="M441.4 546.7 L441.4 560.7 C445.0 563.0 452.0 564.0 458.9 562.0"/></g><g stroke="#000" stroke-width="1.15" fill="none" stroke-linecap="round" stroke-linejoin="round"><path d="M422.5 467.4L429.5 474.5M425.3 473.1L429.5 474.5L428.1 470.3"/><path d="M422.5 481.1L429.5 488.2M425.3 486.8L429.5 488.2L428.1 483.9"/><path d="M436.5 481.1L443.5 488.2M439.3 486.8L443.5 488.2L442.1 483.9"/><path d="M450.5 481.1L457.5 488.2M453.3 486.8L457.5 488.2L456.1 483.9"/><path d="M436.5 494.8L443.5 501.8M439.3 500.4L443.5 501.8L442.1 497.6"/><path d="M450.5 494.8L457.5 501.8M453.3 500.4L457.5 501.8L456.1 497.6"/><path d="M464.5 494.8L471.5 501.8M467.3 500.4L471.5 501.8L470.1 497.6"/><path d="M438.1 507.4L441.9 516.6M438.5 513.7L441.9 516.6L442.2 512.1"/><path d="M452.1 507.4L455.9 516.6M452.5 513.7L455.9 516.6L456.2 512.1"/><path d="M468.0 507.0L468.0 517.0M466.0 513.0L468.0 517.0L470.0 513.0"/><path d="M482.0 507.0L482.0 517.0M480.0 513.0L482.0 517.0L484.0 513.0"/><path d="M515.0 512.0L505.0 512.0M509.0 510.0L505.0 512.0L509.0 514.0"/><path d="M529.0 512.0L519.0 512.0M523.0 510.0L519.0 512.0L523.0 514.0"/><path d="M436.5 522.1L443.5 529.2M439.3 527.8L443.5 529.2L442.1 524.9"/><path d="M450.5 522.1L457.5 529.2M453.3 527.8L457.5 529.2L456.1 524.9"/><path d="M468.0 520.6L468.0 530.6M466.0 526.6L468.0 530.6L470.0 526.6"/><path d="M482.0 520.6L482.0 530.6M480.0 526.6L482.0 530.6L484.0 526.6"/><path d="M496.0 520.6L496.0 530.6M494.0 526.6L496.0 530.6L498.0 526.6"/><path d="M515.0 525.6L505.0 525.6M509.0 523.6L505.0 525.6L509.0 527.6"/><path d="M529.0 525.6L519.0 525.6M523.0 523.6L519.0 525.6L523.0 527.6"/><path d="M539.9 530.3L536.1 521.0M539.5 524.0L536.1 521.0L535.8 525.5"/><path d="M555.5 529.2L548.5 522.1M552.7 523.5L548.5 522.1L549.9 526.4"/><path d="M393.0 539.3L403.0 539.3M399.0 541.3L403.0 539.3L399.0 537.3"/><path d="M407.0 539.3L417.0 539.3M413.0 541.3L417.0 539.3L413.0 537.3"/><path d="M422.5 542.9L429.5 535.8M428.1 540.0L429.5 535.8L425.3 537.2"/><path d="M478.5 535.8L485.5 542.9M481.3 541.4L485.5 542.9L484.1 538.6"/><path d="M496.0 534.3L496.0 544.3M494.0 540.3L496.0 544.3L498.0 540.3"/><path d="M538.0 544.3L538.0 534.3M540.0 538.3L538.0 534.3L536.0 538.3"/><path d="M553.9 543.9L550.1 534.7M553.5 537.6L550.1 534.7L549.8 539.2"/><path d="M393.0 553.0L403.0 553.0M399.0 555.0L403.0 553.0L399.0 551.0"/><path d="M459.0 553.0L449.0 553.0M453.0 551.0L449.0 553.0L453.0 555.0"/><path d="M485.5 549.5L478.5 556.5M479.9 552.3L478.5 556.5L482.7 555.1"/><path d="M499.5 549.5L492.5 556.5M493.9 552.3L492.5 556.5L496.7 555.1"/><path d="M538.0 558.0L538.0 548.0M540.0 552.0L538.0 548.0L536.0 552.0"/><path d="M552.0 558.0L552.0 548.0M554.0 552.0L552.0 548.0L550.0 552.0"/><path d="M408.5 563.1L415.5 570.2M411.3 568.8L415.5 570.2L414.1 566.0"/><path d="M457.5 563.1L450.5 570.2M451.9 566.0L450.5 570.2L454.7 568.8"/><path d="M471.5 563.1L464.5 570.2M465.9 566.0L464.5 570.2L468.7 568.8"/><path d="M485.5 563.1L478.5 570.2M479.9 566.0L478.5 570.2L482.7 568.8"/><path d="M499.5 563.1L492.5 570.2M493.9 566.0L492.5 570.2L496.7 568.8"/><path d="M538.0 571.7L538.0 561.7M540.0 565.7L538.0 561.7L536.0 565.7"/><path d="M552.0 571.7L552.0 561.7M554.0 565.7L552.0 561.7L550.0 565.7"/><path d="M441.9 575.7L438.1 584.9M437.8 580.5L438.1 584.9L441.5 582.0"/><path d="M457.5 576.8L450.5 583.9M451.9 579.6L450.5 583.9L454.7 582.5"/><path d="M469.9 575.7L466.1 584.9M465.8 580.5L466.1 584.9L469.5 582.0"/><path d="M483.9 575.7L480.1 584.9M479.8 580.5L480.1 584.9L483.5 582.0"/><path d="M496.0 575.3L496.0 585.3M494.0 581.3L496.0 585.3L498.0 581.3"/><path d="M539.9 584.9L536.1 575.7M539.5 578.6L536.1 575.7L535.8 580.2"/><path d="M552.0 575.3L552.0 585.3M550.0 581.3L552.0 585.3L554.0 581.3"/><path d="M441.9 589.4L438.1 598.6M437.8 594.2L438.1 598.6L441.5 595.7"/><path d="M455.9 589.4L452.1 598.6M451.8 594.2L452.1 598.6L455.5 595.7"/><path d="M469.9 589.4L466.1 598.6M465.8 594.2L466.1 598.6L469.5 595.7"/><path d="M482.0 589.0L482.0 599.0M480.0 595.0L482.0 599.0L484.0 595.0"/><path d="M541.5 597.5L534.5 590.5M538.7 591.9L534.5 590.5L535.9 594.7"/><path d="M555.5 597.5L548.5 590.5M552.7 591.9L548.5 590.5L549.9 594.7"/><path d="M441.9 603.1L438.1 612.3M437.8 607.8L438.1 612.3L441.5 609.4"/><path d="M455.9 603.1L452.1 612.3M451.8 607.8L452.1 612.3L455.5 609.4"/><path d="M469.9 603.1L466.1 612.3M465.8 607.8L466.1 612.3L469.5 609.4"/></g>
<rect x="496.0" y="483.3" width="122.5" height="82.0" fill="none" stroke="#000" stroke-width="1.8"/>
</g>
<rect x="55.0" y="450.5" width="280.0" height="164.0" fill="none" stroke="#000" stroke-width="1.6"/>
<line x1="48.7" y1="450.5" x2="55.0" y2="450.5" stroke="#000" stroke-width="1.5"/>
<line x1="335.0" y1="450.5" x2="341.3" y2="450.5" stroke="#000" stroke-width="1.5"/>
<text x="36.6" y="456.5" font-size="16.9" text-anchor="end" >150</text>
<line x1="48.7" y1="475.4" x2="55.0" y2="475.4" stroke="#000" stroke-width="1.5"/>
<line x1="335.0" y1="475.4" x2="341.3" y2="475.4" stroke="#000" stroke-width="1.5"/>
<text x="36.6" y="481.4" font-size="16.9" text-anchor="end" >200</text>
<line x1="48.7" y1="494.7" x2="55.0" y2="494.7" stroke="#000" stroke-width="1.5"/>
<line x1="335.0" y1="494.7" x2="341.3" y2="494.7" stroke="#000" stroke-width="1.5"/>
<text x="36.6" y="500.7" font-size="16.9" text-anchor="end" >250</text>
<line x1="48.7" y1="510.4" x2="55.0" y2="510.4" stroke="#000" stroke-width="1.5"/>
<line x1="335.0" y1="510.4" x2="341.3" y2="510.4" stroke="#000" stroke-width="1.5"/>
<text x="36.6" y="516.4" font-size="16.9" text-anchor="end" >300</text>
<line x1="48.7" y1="535.3" x2="55.0" y2="535.3" stroke="#000" stroke-width="1.5"/>
<line x1="335.0" y1="535.3" x2="341.3" y2="535.3" stroke="#000" stroke-width="1.5"/>
<text x="36.6" y="541.3" font-size="16.9" text-anchor="end" >400</text>
<line x1="48.7" y1="554.6" x2="55.0" y2="554.6" stroke="#000" stroke-width="1.5"/>
<line x1="335.0" y1="554.6" x2="341.3" y2="554.6" stroke="#000" stroke-width="1.5"/>
<text x="36.6" y="560.6" font-size="16.9" text-anchor="end" >500</text>
<line x1="48.7" y1="583.7" x2="55.0" y2="583.7" stroke="#000" stroke-width="1.5"/>
<line x1="335.0" y1="583.7" x2="341.3" y2="583.7" stroke="#000" stroke-width="1.5"/>
<text x="36.6" y="589.7" font-size="16.9" text-anchor="end" >700</text>
<line x1="48.7" y1="600.5" x2="55.0" y2="600.5" stroke="#000" stroke-width="1.5"/>
<line x1="335.0" y1="600.5" x2="341.3" y2="600.5" stroke="#000" stroke-width="1.5"/>
<text x="36.6" y="606.5" font-size="16.9" text-anchor="end" >850</text>
<line x1="48.7" y1="614.5" x2="55.0" y2="614.5" stroke="#000" stroke-width="1.5"/>
<line x1="335.0" y1="614.5" x2="341.3" y2="614.5" stroke="#000" stroke-width="1.5"/>
<text x="36.6" y="620.5" font-size="16.9" text-anchor="end" >1000</text>
<line x1="55.0" y1="450.5" x2="55.0" y2="444.2" stroke="#000" stroke-width="1.5"/>
<line x1="55.0" y1="614.5" x2="55.0" y2="620.8" stroke="#000" stroke-width="1.5"/>
<text x="55.0" y="641.8" font-size="17.3" text-anchor="middle" >40E</text>
<line x1="95.0" y1="450.5" x2="95.0" y2="447.3" stroke="#000" stroke-width="1.5"/>
<line x1="95.0" y1="614.5" x2="95.0" y2="617.7" stroke="#000" stroke-width="1.5"/>
<line x1="135.0" y1="450.5" x2="135.0" y2="444.2" stroke="#000" stroke-width="1.5"/>
<line x1="135.0" y1="614.5" x2="135.0" y2="620.8" stroke="#000" stroke-width="1.5"/>
<text x="135.0" y="641.8" font-size="17.3" text-anchor="middle" >60E</text>
<line x1="175.0" y1="450.5" x2="175.0" y2="447.3" stroke="#000" stroke-width="1.5"/>
<line x1="175.0" y1="614.5" x2="175.0" y2="617.7" stroke="#000" stroke-width="1.5"/>
<line x1="215.0" y1="450.5" x2="215.0" y2="444.2" stroke="#000" stroke-width="1.5"/>
<line x1="215.0" y1="614.5" x2="215.0" y2="620.8" stroke="#000" stroke-width="1.5"/>
<text x="215.0" y="641.8" font-size="17.3" text-anchor="middle" >80E</text>
<line x1="255.0" y1="450.5" x2="255.0" y2="447.3" stroke="#000" stroke-width="1.5"/>
<line x1="255.0" y1="614.5" x2="255.0" y2="617.7" stroke="#000" stroke-width="1.5"/>
<line x1="295.0" y1="450.5" x2="295.0" y2="444.2" stroke="#000" stroke-width="1.5"/>
<line x1="295.0" y1="614.5" x2="295.0" y2="620.8" stroke="#000" stroke-width="1.5"/>
<text x="295.0" y="641.8" font-size="17.3" text-anchor="middle" >100E</text>
<line x1="335.0" y1="450.5" x2="335.0" y2="447.3" stroke="#000" stroke-width="1.5"/>
<line x1="335.0" y1="614.5" x2="335.0" y2="617.7" stroke="#000" stroke-width="1.5"/>
<rect x="391.0" y="450.5" width="280.0" height="164.0" fill="none" stroke="#000" stroke-width="1.6"/>
<line x1="385.0" y1="450.5" x2="391.0" y2="450.5" stroke="#000" stroke-width="1.5"/>
<line x1="671.0" y1="450.5" x2="677.0" y2="450.5" stroke="#000" stroke-width="1.5"/>
<text x="380.9" y="456.5" font-size="16.9" text-anchor="end" >40N</text>
<line x1="387.8" y1="466.9" x2="391.0" y2="466.9" stroke="#000" stroke-width="1.5"/>
<line x1="671.0" y1="466.9" x2="674.2" y2="466.9" stroke="#000" stroke-width="1.5"/>
<line x1="387.8" y1="483.3" x2="391.0" y2="483.3" stroke="#000" stroke-width="1.5"/>
<line x1="671.0" y1="483.3" x2="674.2" y2="483.3" stroke="#000" stroke-width="1.5"/>
<line x1="387.8" y1="499.7" x2="391.0" y2="499.7" stroke="#000" stroke-width="1.5"/>
<line x1="671.0" y1="499.7" x2="674.2" y2="499.7" stroke="#000" stroke-width="1.5"/>
<line x1="385.0" y1="516.1" x2="391.0" y2="516.1" stroke="#000" stroke-width="1.5"/>
<line x1="671.0" y1="516.1" x2="677.0" y2="516.1" stroke="#000" stroke-width="1.5"/>
<text x="380.9" y="522.1" font-size="16.9" text-anchor="end" >20N</text>
<line x1="387.8" y1="532.5" x2="391.0" y2="532.5" stroke="#000" stroke-width="1.5"/>
<line x1="671.0" y1="532.5" x2="674.2" y2="532.5" stroke="#000" stroke-width="1.5"/>
<line x1="387.8" y1="548.9" x2="391.0" y2="548.9" stroke="#000" stroke-width="1.5"/>
<line x1="671.0" y1="548.9" x2="674.2" y2="548.9" stroke="#000" stroke-width="1.5"/>
<line x1="387.8" y1="565.3" x2="391.0" y2="565.3" stroke="#000" stroke-width="1.5"/>
<line x1="671.0" y1="565.3" x2="674.2" y2="565.3" stroke="#000" stroke-width="1.5"/>
<line x1="385.0" y1="581.7" x2="391.0" y2="581.7" stroke="#000" stroke-width="1.5"/>
<line x1="671.0" y1="581.7" x2="677.0" y2="581.7" stroke="#000" stroke-width="1.5"/>
<text x="380.9" y="587.7" font-size="16.9" text-anchor="end" >0</text>
<line x1="387.8" y1="598.1" x2="391.0" y2="598.1" stroke="#000" stroke-width="1.5"/>
<line x1="671.0" y1="598.1" x2="674.2" y2="598.1" stroke="#000" stroke-width="1.5"/>
<line x1="387.8" y1="614.5" x2="391.0" y2="614.5" stroke="#000" stroke-width="1.5"/>
<line x1="671.0" y1="614.5" x2="674.2" y2="614.5" stroke="#000" stroke-width="1.5"/>
<line x1="391.0" y1="450.5" x2="391.0" y2="444.5" stroke="#000" stroke-width="1.5"/>
<line x1="391.0" y1="614.5" x2="391.0" y2="620.5" stroke="#000" stroke-width="1.5"/>
<text x="391.0" y="641.8" font-size="17.3" text-anchor="middle" >30E</text>
<line x1="426.0" y1="450.5" x2="426.0" y2="447.3" stroke="#000" stroke-width="1.5"/>
<line x1="426.0" y1="614.5" x2="426.0" y2="617.7" stroke="#000" stroke-width="1.5"/>
<line x1="461.0" y1="450.5" x2="461.0" y2="447.3" stroke="#000" stroke-width="1.5"/>
<line x1="461.0" y1="614.5" x2="461.0" y2="617.7" stroke="#000" stroke-width="1.5"/>
<line x1="496.0" y1="450.5" x2="496.0" y2="444.5" stroke="#000" stroke-width="1.5"/>
<line x1="496.0" y1="614.5" x2="496.0" y2="620.5" stroke="#000" stroke-width="1.5"/>
<text x="496.0" y="641.8" font-size="17.3" text-anchor="middle" >60E</text>
<line x1="531.0" y1="450.5" x2="531.0" y2="447.3" stroke="#000" stroke-width="1.5"/>
<line x1="531.0" y1="614.5" x2="531.0" y2="617.7" stroke="#000" stroke-width="1.5"/>
<line x1="566.0" y1="450.5" x2="566.0" y2="447.3" stroke="#000" stroke-width="1.5"/>
<line x1="566.0" y1="614.5" x2="566.0" y2="617.7" stroke="#000" stroke-width="1.5"/>
<line x1="601.0" y1="450.5" x2="601.0" y2="444.5" stroke="#000" stroke-width="1.5"/>
<line x1="601.0" y1="614.5" x2="601.0" y2="620.5" stroke="#000" stroke-width="1.5"/>
<text x="601.0" y="641.8" font-size="17.3" text-anchor="middle" >90E</text>
<line x1="636.0" y1="450.5" x2="636.0" y2="447.3" stroke="#000" stroke-width="1.5"/>
<line x1="636.0" y1="614.5" x2="636.0" y2="617.7" stroke="#000" stroke-width="1.5"/>
<line x1="671.0" y1="450.5" x2="671.0" y2="447.3" stroke="#000" stroke-width="1.5"/>
<line x1="671.0" y1="614.5" x2="671.0" y2="617.7" stroke="#000" stroke-width="1.5"/>
<text x="51.5" y="442.6" font-size="19.3" text-anchor="start" >e MT05-PI</text>
<text x="389.7" y="442.6" font-size="19.3" text-anchor="start" >f MT05-PI</text>
<rect x="67.90" y="657.0" width="21.20" height="14.0" fill="#2400d8"/>
<rect x="89.10" y="657.0" width="21.20" height="14.0" fill="#2857ff"/>
<rect x="110.30" y="657.0" width="21.20" height="14.0" fill="#3d87ff"/>
<rect x="131.50" y="657.0" width="21.20" height="14.0" fill="#75d3ff"/>
<rect x="152.70" y="657.0" width="21.20" height="14.0" fill="#99eaff"/>
<rect x="173.90" y="657.0" width="21.20" height="14.0" fill="#eaffff"/>
<rect x="195.10" y="657.0" width="21.20" height="14.0" fill="#ffffea"/>
<rect x="216.30" y="657.0" width="21.20" height="14.0" fill="#ffd699"/>
<rect x="237.50" y="657.0" width="21.20" height="14.0" fill="#ffac75"/>
<rect x="258.70" y="657.0" width="21.20" height="14.0" fill="#ff3d3d"/>
<rect x="279.90" y="657.0" width="21.20" height="14.0" fill="#f72735"/>
<rect x="301.10" y="657.0" width="21.20" height="14.0" fill="#a50021"/>
<line x1="89.1" y1="657.0" x2="89.1" y2="671.0" stroke="#333" stroke-width="1.0"/>
<line x1="110.3" y1="657.0" x2="110.3" y2="671.0" stroke="#333" stroke-width="1.0"/>
<line x1="131.5" y1="657.0" x2="131.5" y2="671.0" stroke="#333" stroke-width="1.0"/>
<line x1="152.7" y1="657.0" x2="152.7" y2="671.0" stroke="#333" stroke-width="1.0"/>
<line x1="173.9" y1="657.0" x2="173.9" y2="671.0" stroke="#333" stroke-width="1.0"/>
<line x1="195.1" y1="657.0" x2="195.1" y2="671.0" stroke="#333" stroke-width="1.0"/>
<line x1="216.3" y1="657.0" x2="216.3" y2="671.0" stroke="#333" stroke-width="1.0"/>
<line x1="237.5" y1="657.0" x2="237.5" y2="671.0" stroke="#333" stroke-width="1.0"/>
<line x1="258.7" y1="657.0" x2="258.7" y2="671.0" stroke="#333" stroke-width="1.0"/>
<line x1="279.9" y1="657.0" x2="279.9" y2="671.0" stroke="#333" stroke-width="1.0"/>
<line x1="301.1" y1="657.0" x2="301.1" y2="671.0" stroke="#333" stroke-width="1.0"/>
<rect x="67.9" y="657.0" width="254.4" height="14.0" fill="none" stroke="#333" stroke-width="1.2"/>
<text x="110.3" y="689.8" font-size="19.0" text-anchor="middle" >-0.8</text>
<text x="152.7" y="689.8" font-size="19.0" text-anchor="middle" >-0.4</text>
<text x="195.1" y="689.8" font-size="19.0" text-anchor="middle" >0</text>
<text x="237.5" y="689.8" font-size="19.0" text-anchor="middle" >0.4</text>
<text x="279.9" y="689.8" font-size="19.0" text-anchor="middle" >0.8</text>
<line x1="327.3" y1="663.5" x2="342.3" y2="663.5" stroke="#000" stroke-width="1.6"/>
<path d="M348.3 663.5 L340.3 659.9 L340.3 667.1Z" fill="#000"/>
<text x="337.8" y="679.3" font-size="12.4" text-anchor="middle" >10</text>
<rect x="404.20" y="656.8" width="21.23" height="14.2" fill="#2400d8"/>
<rect x="425.43" y="656.8" width="21.23" height="14.2" fill="#2857ff"/>
<rect x="446.67" y="656.8" width="21.23" height="14.2" fill="#3d87ff"/>
<rect x="467.90" y="656.8" width="21.23" height="14.2" fill="#75d3ff"/>
<rect x="489.13" y="656.8" width="21.23" height="14.2" fill="#99eaff"/>
<rect x="510.37" y="656.8" width="21.23" height="14.2" fill="#eaffff"/>
<rect x="531.60" y="656.8" width="21.23" height="14.2" fill="#ffffea"/>
<rect x="552.83" y="656.8" width="21.23" height="14.2" fill="#ffd699"/>
<rect x="574.07" y="656.8" width="21.23" height="14.2" fill="#ffac75"/>
<rect x="595.30" y="656.8" width="21.23" height="14.2" fill="#ff3d3d"/>
<rect x="616.53" y="656.8" width="21.23" height="14.2" fill="#f72735"/>
<rect x="637.77" y="656.8" width="21.23" height="14.2" fill="#a50021"/>
<line x1="425.4" y1="656.8" x2="425.4" y2="671.0" stroke="#333" stroke-width="1.0"/>
<line x1="446.7" y1="656.8" x2="446.7" y2="671.0" stroke="#333" stroke-width="1.0"/>
<line x1="467.9" y1="656.8" x2="467.9" y2="671.0" stroke="#333" stroke-width="1.0"/>
<line x1="489.1" y1="656.8" x2="489.1" y2="671.0" stroke="#333" stroke-width="1.0"/>
<line x1="510.4" y1="656.8" x2="510.4" y2="671.0" stroke="#333" stroke-width="1.0"/>
<line x1="531.6" y1="656.8" x2="531.6" y2="671.0" stroke="#333" stroke-width="1.0"/>
<line x1="552.8" y1="656.8" x2="552.8" y2="671.0" stroke="#333" stroke-width="1.0"/>
<line x1="574.1" y1="656.8" x2="574.1" y2="671.0" stroke="#333" stroke-width="1.0"/>
<line x1="595.3" y1="656.8" x2="595.3" y2="671.0" stroke="#333" stroke-width="1.0"/>
<line x1="616.5" y1="656.8" x2="616.5" y2="671.0" stroke="#333" stroke-width="1.0"/>
<line x1="637.8" y1="656.8" x2="637.8" y2="671.0" stroke="#333" stroke-width="1.0"/>
<rect x="404.2" y="656.8" width="254.8" height="14.2" fill="none" stroke="#333" stroke-width="1.2"/>
<text x="446.7" y="689.8" font-size="19.0" text-anchor="middle" >-0.8</text>
<text x="489.1" y="689.8" font-size="19.0" text-anchor="middle" >-0.4</text>
<text x="531.6" y="689.8" font-size="19.0" text-anchor="middle" >0</text>
<text x="574.1" y="689.8" font-size="19.0" text-anchor="middle" >0.4</text>
<text x="616.5" y="689.8" font-size="19.0" text-anchor="middle" >0.8</text>
<line x1="664.0" y1="663.4" x2="679.0" y2="663.4" stroke="#000" stroke-width="1.6"/>
<path d="M685.0 663.4 L677.0 659.8 L677.0 667.0Z" fill="#000"/>
<text x="674.5" y="679.3" font-size="12.4" text-anchor="middle" >1</text>
</svg></body></html>
